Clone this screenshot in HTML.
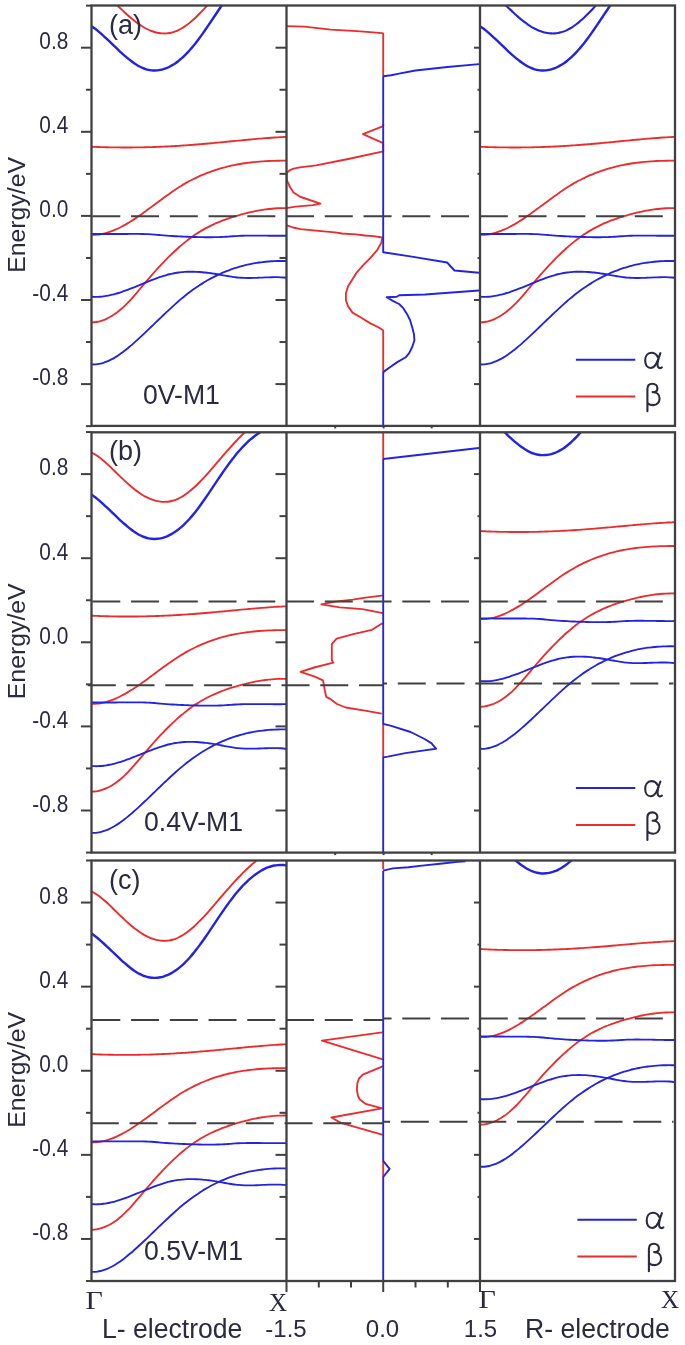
<!DOCTYPE html>
<html><head><meta charset="utf-8"><title>Band structure</title>
<style>
html,body{margin:0;padding:0;background:#fff;}
body{width:685px;height:1345px;overflow:hidden;font-family:"Liberation Sans",sans-serif;}
svg{display:block;filter:blur(0.45px);}
</style></head><body>
<svg width="685" height="1345" viewBox="0 0 685 1345">
<defs>
<clipPath id="cl0"><rect x="91.5" y="5.5" width="195.0" height="420.4"/></clipPath>
<clipPath id="cm0"><rect x="286.5" y="5.5" width="193.5" height="420.4"/></clipPath>
<clipPath id="cr0"><rect x="480.0" y="5.5" width="195.0" height="420.4"/></clipPath>
<clipPath id="cl1"><rect x="91.5" y="432.3" width="195.0" height="420.3"/></clipPath>
<clipPath id="cm1"><rect x="286.5" y="432.3" width="193.5" height="420.3"/></clipPath>
<clipPath id="cr1"><rect x="480.0" y="432.3" width="195.0" height="420.3"/></clipPath>
<clipPath id="cl2"><rect x="91.5" y="860.5" width="195.0" height="420.5"/></clipPath>
<clipPath id="cm2"><rect x="286.5" y="860.5" width="193.5" height="420.5"/></clipPath>
<clipPath id="cr2"><rect x="480.0" y="860.5" width="195.0" height="420.5"/></clipPath>
</defs>
<rect width="100%" height="100%" fill="#fff"/>
<g clip-path="url(#cl0)" stroke-linejoin="round" stroke-linecap="round">
<path d="M91.50,-15.91 C92.00,-15.65 93.50,-14.92 94.50,-14.34 C95.50,-13.76 96.50,-13.11 97.50,-12.42 C98.50,-11.73 99.50,-10.98 100.50,-10.20 C101.50,-9.42 102.50,-8.59 103.50,-7.74 C104.50,-6.88 105.50,-5.99 106.50,-5.08 C107.50,-4.16 108.50,-3.22 109.50,-2.27 C110.50,-1.32 111.50,-0.35 112.50,0.63 C113.50,1.60 114.50,2.59 115.50,3.56 C116.50,4.54 117.50,5.52 118.50,6.49 C119.50,7.46 120.50,8.43 121.50,9.38 C122.50,10.34 123.50,11.28 124.50,12.21 C125.50,13.14 126.50,14.06 127.50,14.95 C128.50,15.85 129.50,16.73 130.50,17.58 C131.50,18.44 132.50,19.27 133.50,20.08 C134.50,20.89 135.50,21.67 136.50,22.42 C137.50,23.17 138.50,23.89 139.50,24.58 C140.50,25.26 141.50,25.91 142.50,26.53 C143.50,27.14 144.50,27.72 145.50,28.25 C146.50,28.79 147.50,29.29 148.50,29.75 C149.50,30.20 150.50,30.62 151.50,31.00 C152.50,31.37 153.50,31.71 154.50,32.00 C155.50,32.29 156.50,32.54 157.50,32.74 C158.50,32.94 159.50,33.10 160.50,33.22 C161.50,33.33 162.50,33.40 163.50,33.42 C164.50,33.45 165.50,33.42 166.50,33.35 C167.50,33.28 168.50,33.16 169.50,32.99 C170.50,32.82 171.50,32.60 172.50,32.33 C173.50,32.06 174.50,31.74 175.50,31.37 C176.50,31.00 177.50,30.58 178.50,30.10 C179.50,29.62 180.50,29.09 181.50,28.52 C182.50,27.94 183.50,27.32 184.50,26.65 C185.50,25.98 186.50,25.27 187.50,24.51 C188.50,23.76 189.50,22.97 190.50,22.14 C191.50,21.31 192.50,20.44 193.50,19.54 C194.50,18.64 195.50,17.71 196.50,16.75 C197.50,15.79 198.50,14.80 199.50,13.79 C200.50,12.78 201.50,11.73 202.50,10.68 C203.50,9.62 204.50,8.54 205.50,7.44 C206.50,6.35 207.50,5.23 208.50,4.11 C209.50,2.98 210.50,1.84 211.50,0.69 C212.50,-0.45 213.50,-1.61 214.50,-2.78 C215.50,-3.94 216.50,-5.11 217.50,-6.28 C218.50,-7.44 219.50,-8.62 220.50,-9.78 C221.50,-10.95 222.50,-12.11 223.50,-13.27 C224.50,-14.43 225.50,-15.58 226.50,-16.72 C227.50,-17.86 228.50,-19.00 229.50,-20.12 C230.50,-21.24 231.50,-22.35 232.50,-23.45 C233.50,-24.55 234.50,-25.64 235.50,-26.71 C236.50,-27.78 237.50,-28.84 238.50,-29.89 C239.50,-30.93 240.50,-31.96 241.50,-32.98 C242.50,-33.99 243.50,-34.99 244.50,-35.96 C245.50,-36.94 246.50,-37.91 247.50,-38.85 C248.50,-39.79 249.50,-40.71 250.50,-41.61 C251.50,-42.52 252.50,-43.40 253.50,-44.26 C254.50,-45.12 255.50,-45.96 256.50,-46.77 C257.50,-47.58 258.50,-48.37 259.50,-49.14 C260.50,-49.90 261.50,-50.64 262.50,-51.36 C263.50,-52.07 264.92,-53.02 265.50,-53.42 C266.08,-53.82 265.92,-53.69 266.00,-53.75" stroke="#ec2c2c" stroke-width="1.9" fill="none"/>
<path d="M91.50,26.09 C92.00,26.46 93.50,27.51 94.50,28.27 C95.50,29.02 96.50,29.82 97.50,30.64 C98.50,31.46 99.50,32.31 100.50,33.18 C101.50,34.04 102.50,34.94 103.50,35.85 C104.50,36.76 105.50,37.69 106.50,38.62 C107.50,39.56 108.50,40.51 109.50,41.47 C110.50,42.42 111.50,43.39 112.50,44.35 C113.50,45.31 114.50,46.27 115.50,47.23 C116.50,48.19 117.50,49.14 118.50,50.08 C119.50,51.02 120.50,51.96 121.50,52.88 C122.50,53.79 123.50,54.69 124.50,55.57 C125.50,56.45 126.50,57.31 127.50,58.14 C128.50,58.97 129.50,59.78 130.50,60.55 C131.50,61.32 132.50,62.06 133.50,62.77 C134.50,63.47 135.50,64.13 136.50,64.75 C137.50,65.37 138.50,65.96 139.50,66.49 C140.50,67.01 141.50,67.50 142.50,67.93 C143.50,68.35 144.50,68.73 145.50,69.05 C146.50,69.37 147.50,69.63 148.50,69.85 C149.50,70.06 150.50,70.22 151.50,70.33 C152.50,70.43 153.50,70.49 154.50,70.49 C155.50,70.50 156.50,70.45 157.50,70.35 C158.50,70.25 159.50,70.10 160.50,69.89 C161.50,69.69 162.50,69.44 163.50,69.14 C164.50,68.84 165.50,68.48 166.50,68.08 C167.50,67.68 168.50,67.23 169.50,66.73 C170.50,66.23 171.50,65.68 172.50,65.08 C173.50,64.49 174.50,63.84 175.50,63.15 C176.50,62.45 177.50,61.71 178.50,60.93 C179.50,60.14 180.50,59.30 181.50,58.42 C182.50,57.54 183.50,56.61 184.50,55.64 C185.50,54.67 186.50,53.65 187.50,52.58 C188.50,51.52 189.50,50.42 190.50,49.27 C191.50,48.13 192.50,46.94 193.50,45.72 C194.50,44.50 195.50,43.24 196.50,41.95 C197.50,40.66 198.50,39.33 199.50,37.97 C200.50,36.62 201.50,35.23 202.50,33.83 C203.50,32.42 204.50,30.99 205.50,29.54 C206.50,28.10 207.50,26.63 208.50,25.16 C209.50,23.68 210.50,22.19 211.50,20.70 C212.50,19.21 213.50,17.71 214.50,16.22 C215.50,14.72 216.50,13.22 217.50,11.73 C218.50,10.25 219.50,8.76 220.50,7.29 C221.50,5.82 222.50,4.36 223.50,2.91 C224.50,1.47 225.50,0.04 226.50,-1.36 C227.50,-2.77 228.50,-4.16 229.50,-5.51 C230.50,-6.87 231.50,-8.20 232.50,-9.50 C233.50,-10.80 234.50,-12.06 235.50,-13.29 C236.50,-14.52 237.50,-15.72 238.50,-16.88 C239.50,-18.04 240.50,-19.16 241.50,-20.25 C242.50,-21.34 243.50,-22.39 244.50,-23.41 C245.50,-24.42 246.50,-25.40 247.50,-26.34 C248.50,-27.28 249.50,-28.18 250.50,-29.04 C251.50,-29.90 252.50,-30.73 253.50,-31.51 C254.50,-32.29 255.50,-33.04 256.50,-33.74 C257.50,-34.45 258.50,-35.11 259.50,-35.73 C260.50,-36.36 261.50,-36.94 262.50,-37.48 C263.50,-38.01 264.50,-38.51 265.50,-38.97 C266.50,-39.42 267.50,-39.83 268.50,-40.20 C269.50,-40.57 270.50,-40.89 271.50,-41.17 C272.50,-41.45 273.50,-41.69 274.50,-41.88 C275.50,-42.07 276.50,-42.22 277.50,-42.31 C278.50,-42.41 279.50,-42.47 280.50,-42.47 C281.50,-42.48 282.50,-42.44 283.50,-42.35 C284.50,-42.26 286.00,-42.01 286.50,-41.94" stroke="#2323e2" stroke-width="2.4" fill="none"/>
<path d="M91.50,146.73 C92.00,146.76 93.50,146.82 94.50,146.86 C95.50,146.90 96.50,146.94 97.50,146.98 C98.50,147.02 99.50,147.05 100.50,147.08 C101.50,147.12 102.50,147.15 103.50,147.17 C104.50,147.20 105.50,147.23 106.50,147.25 C107.50,147.28 108.50,147.30 109.50,147.32 C110.50,147.34 111.50,147.36 112.50,147.38 C113.50,147.39 114.50,147.41 115.50,147.42 C116.50,147.43 117.50,147.44 118.50,147.45 C119.50,147.46 120.50,147.47 121.50,147.47 C122.50,147.48 123.50,147.48 124.50,147.48 C125.50,147.48 126.50,147.48 127.50,147.48 C128.50,147.48 129.50,147.47 130.50,147.47 C131.50,147.46 132.50,147.45 133.50,147.44 C134.50,147.43 135.50,147.42 136.50,147.41 C137.50,147.39 138.50,147.38 139.50,147.36 C140.50,147.34 141.50,147.32 142.50,147.30 C143.50,147.28 144.50,147.26 145.50,147.23 C146.50,147.21 147.50,147.18 148.50,147.16 C149.50,147.13 150.50,147.10 151.50,147.07 C152.50,147.03 153.50,147.00 154.50,146.97 C155.50,146.93 156.50,146.89 157.50,146.86 C158.50,146.82 159.50,146.78 160.50,146.73 C161.50,146.69 162.50,146.65 163.50,146.60 C164.50,146.56 165.50,146.51 166.50,146.46 C167.50,146.41 168.50,146.36 169.50,146.31 C170.50,146.26 171.50,146.20 172.50,146.15 C173.50,146.09 174.50,146.04 175.50,145.98 C176.50,145.92 177.50,145.86 178.50,145.80 C179.50,145.74 180.50,145.67 181.50,145.61 C182.50,145.54 183.50,145.48 184.50,145.41 C185.50,145.34 186.50,145.27 187.50,145.20 C188.50,145.13 189.50,145.05 190.50,144.98 C191.50,144.90 192.50,144.83 193.50,144.75 C194.50,144.67 195.50,144.59 196.50,144.51 C197.50,144.43 198.50,144.35 199.50,144.27 C200.50,144.18 201.50,144.10 202.50,144.01 C203.50,143.93 204.50,143.84 205.50,143.75 C206.50,143.66 207.50,143.57 208.50,143.48 C209.50,143.39 210.50,143.30 211.50,143.21 C212.50,143.12 213.50,143.02 214.50,142.93 C215.50,142.84 216.50,142.74 217.50,142.65 C218.50,142.55 219.50,142.45 220.50,142.36 C221.50,142.26 222.50,142.17 223.50,142.07 C224.50,141.97 225.50,141.87 226.50,141.78 C227.50,141.68 228.50,141.58 229.50,141.48 C230.50,141.39 231.50,141.29 232.50,141.19 C233.50,141.09 234.50,141.00 235.50,140.90 C236.50,140.80 237.50,140.70 238.50,140.61 C239.50,140.51 240.50,140.41 241.50,140.32 C242.50,140.22 243.50,140.13 244.50,140.03 C245.50,139.94 246.50,139.84 247.50,139.75 C248.50,139.66 249.50,139.57 250.50,139.47 C251.50,139.38 252.50,139.29 253.50,139.20 C254.50,139.11 255.50,139.03 256.50,138.94 C257.50,138.85 258.50,138.76 259.50,138.68 C260.50,138.60 261.50,138.51 262.50,138.43 C263.50,138.35 264.50,138.27 265.50,138.19 C266.50,138.11 267.50,138.03 268.50,137.96 C269.50,137.88 270.50,137.81 271.50,137.74 C272.50,137.66 273.50,137.59 274.50,137.53 C275.50,137.46 276.50,137.39 277.50,137.33 C278.50,137.26 279.50,137.20 280.50,137.14 C281.50,137.08 282.50,137.03 283.50,136.97 C284.50,136.92 286.00,136.84 286.50,136.81" stroke="#ec2c2c" stroke-width="1.85" fill="none"/>
<path d="M91.50,234.81 C92.00,234.81 93.50,234.86 94.50,234.83 C95.50,234.80 96.50,234.73 97.50,234.64 C98.50,234.54 99.50,234.41 100.50,234.24 C101.50,234.08 102.50,233.89 103.50,233.66 C104.50,233.44 105.50,233.18 106.50,232.90 C107.50,232.61 108.50,232.30 109.50,231.96 C110.50,231.63 111.50,231.26 112.50,230.87 C113.50,230.48 114.50,230.07 115.50,229.63 C116.50,229.19 117.50,228.73 118.50,228.25 C119.50,227.76 120.50,227.26 121.50,226.74 C122.50,226.21 123.50,225.67 124.50,225.11 C125.50,224.55 126.50,223.97 127.50,223.37 C128.50,222.78 129.50,222.17 130.50,221.54 C131.50,220.92 132.50,220.28 133.50,219.62 C134.50,218.97 135.50,218.31 136.50,217.63 C137.50,216.95 138.50,216.27 139.50,215.57 C140.50,214.87 141.50,214.17 142.50,213.45 C143.50,212.74 144.50,212.02 145.50,211.29 C146.50,210.57 147.50,209.84 148.50,209.10 C149.50,208.36 150.50,207.62 151.50,206.88 C152.50,206.14 153.50,205.39 154.50,204.65 C155.50,203.91 156.50,203.16 157.50,202.42 C158.50,201.67 159.50,200.93 160.50,200.19 C161.50,199.45 162.50,198.71 163.50,197.98 C164.50,197.25 165.50,196.52 166.50,195.80 C167.50,195.08 168.50,194.36 169.50,193.66 C170.50,192.95 171.50,192.25 172.50,191.56 C173.50,190.88 174.50,190.20 175.50,189.53 C176.50,188.86 177.50,188.21 178.50,187.57 C179.50,186.92 180.50,186.30 181.50,185.68 C182.50,185.07 183.50,184.47 184.50,183.89 C185.50,183.30 186.50,182.73 187.50,182.18 C188.50,181.62 189.50,181.08 190.50,180.55 C191.50,180.02 192.50,179.51 193.50,179.00 C194.50,178.50 195.50,178.01 196.50,177.54 C197.50,177.06 198.50,176.60 199.50,176.15 C200.50,175.70 201.50,175.26 202.50,174.84 C203.50,174.41 204.50,174.00 205.50,173.60 C206.50,173.20 207.50,172.81 208.50,172.43 C209.50,172.05 210.50,171.69 211.50,171.33 C212.50,170.98 213.50,170.64 214.50,170.30 C215.50,169.97 216.50,169.65 217.50,169.34 C218.50,169.03 219.50,168.73 220.50,168.44 C221.50,168.15 222.50,167.87 223.50,167.60 C224.50,167.33 225.50,167.07 226.50,166.82 C227.50,166.57 228.50,166.33 229.50,166.10 C230.50,165.87 231.50,165.64 232.50,165.43 C233.50,165.22 234.50,165.01 235.50,164.82 C236.50,164.62 237.50,164.44 238.50,164.26 C239.50,164.08 240.50,163.91 241.50,163.75 C242.50,163.58 243.50,163.43 244.50,163.28 C245.50,163.13 246.50,163.00 247.50,162.86 C248.50,162.73 249.50,162.61 250.50,162.49 C251.50,162.37 252.50,162.26 253.50,162.15 C254.50,162.05 255.50,161.95 256.50,161.86 C257.50,161.77 258.50,161.68 259.50,161.60 C260.50,161.52 261.50,161.45 262.50,161.38 C263.50,161.32 264.50,161.25 265.50,161.20 C266.50,161.14 267.50,161.09 268.50,161.04 C269.50,160.99 270.50,160.95 271.50,160.91 C272.50,160.88 273.50,160.84 274.50,160.82 C275.50,160.79 276.50,160.76 277.50,160.74 C278.50,160.72 279.50,160.71 280.50,160.69 C281.50,160.68 282.50,160.67 283.50,160.66 C284.50,160.66 286.00,160.66 286.50,160.66" stroke="#ec2c2c" stroke-width="1.85" fill="none"/>
<path d="M91.50,322.42 C92.00,322.38 93.50,322.33 94.50,322.22 C95.50,322.11 96.50,321.96 97.50,321.76 C98.50,321.57 99.50,321.32 100.50,321.04 C101.50,320.75 102.50,320.43 103.50,320.05 C104.50,319.68 105.50,319.27 106.50,318.81 C107.50,318.35 108.50,317.85 109.50,317.31 C110.50,316.77 111.50,316.18 112.50,315.56 C113.50,314.93 114.50,314.26 115.50,313.55 C116.50,312.84 117.50,312.09 118.50,311.30 C119.50,310.51 120.50,309.67 121.50,308.80 C122.50,307.92 123.50,307.01 124.50,306.05 C125.50,305.10 126.50,304.10 127.50,303.07 C128.50,302.04 129.50,300.97 130.50,299.88 C131.50,298.79 132.50,297.67 133.50,296.53 C134.50,295.39 135.50,294.23 136.50,293.06 C137.50,291.89 138.50,290.70 139.50,289.51 C140.50,288.33 141.50,287.13 142.50,285.94 C143.50,284.75 144.50,283.55 145.50,282.37 C146.50,281.20 147.50,280.02 148.50,278.86 C149.50,277.70 150.50,276.55 151.50,275.40 C152.50,274.26 153.50,273.13 154.50,272.01 C155.50,270.90 156.50,269.79 157.50,268.69 C158.50,267.60 159.50,266.51 160.50,265.44 C161.50,264.37 162.50,263.32 163.50,262.27 C164.50,261.23 165.50,260.20 166.50,259.19 C167.50,258.17 168.50,257.17 169.50,256.18 C170.50,255.20 171.50,254.23 172.50,253.27 C173.50,252.32 174.50,251.38 175.50,250.46 C176.50,249.54 177.50,248.63 178.50,247.74 C179.50,246.86 180.50,245.98 181.50,245.13 C182.50,244.28 183.50,243.45 184.50,242.63 C185.50,241.82 186.50,241.02 187.50,240.24 C188.50,239.47 189.50,238.71 190.50,237.97 C191.50,237.24 192.50,236.52 193.50,235.83 C194.50,235.13 195.50,234.46 196.50,233.80 C197.50,233.15 198.50,232.51 199.50,231.89 C200.50,231.28 201.50,230.68 202.50,230.10 C203.50,229.52 204.50,228.96 205.50,228.41 C206.50,227.87 207.50,227.34 208.50,226.83 C209.50,226.32 210.50,225.82 211.50,225.34 C212.50,224.86 213.50,224.39 214.50,223.94 C215.50,223.49 216.50,223.05 217.50,222.63 C218.50,222.20 219.50,221.79 220.50,221.39 C221.50,220.99 222.50,220.60 223.50,220.23 C224.50,219.85 225.50,219.49 226.50,219.13 C227.50,218.78 228.50,218.43 229.50,218.10 C230.50,217.76 231.50,217.44 232.50,217.12 C233.50,216.80 234.50,216.50 235.50,216.19 C236.50,215.89 237.50,215.60 238.50,215.31 C239.50,215.03 240.50,214.74 241.50,214.47 C242.50,214.20 243.50,213.93 244.50,213.67 C245.50,213.41 246.50,213.16 247.50,212.91 C248.50,212.67 249.50,212.43 250.50,212.20 C251.50,211.97 252.50,211.75 253.50,211.54 C254.50,211.33 255.50,211.12 256.50,210.93 C257.50,210.73 258.50,210.55 259.50,210.37 C260.50,210.19 261.50,210.02 262.50,209.87 C263.50,209.71 264.50,209.56 265.50,209.42 C266.50,209.28 267.50,209.15 268.50,209.04 C269.50,208.92 270.50,208.81 271.50,208.72 C272.50,208.62 273.50,208.53 274.50,208.46 C275.50,208.39 276.50,208.32 277.50,208.27 C278.50,208.22 279.50,208.18 280.50,208.15 C281.50,208.13 282.50,208.11 283.50,208.11 C284.50,208.10 286.00,208.13 286.50,208.14" stroke="#ec2c2c" stroke-width="1.85" fill="none"/>
<path d="M91.50,234.00 C92.00,234.00 93.50,234.01 94.50,234.01 C95.50,234.01 96.50,234.02 97.50,234.02 C98.50,234.02 99.50,234.02 100.50,234.02 C101.50,234.02 102.50,234.02 103.50,234.02 C104.50,234.02 105.50,234.02 106.50,234.02 C107.50,234.02 108.50,234.02 109.50,234.02 C110.50,234.02 111.50,234.01 112.50,234.01 C113.50,234.01 114.50,234.01 115.50,234.00 C116.50,234.00 117.50,234.00 118.50,233.99 C119.50,233.99 120.50,233.98 121.50,233.98 C122.50,233.98 123.50,233.97 124.50,233.97 C125.50,233.96 126.50,233.96 127.50,233.96 C128.50,233.95 129.50,233.95 130.50,233.94 C131.50,233.94 132.50,233.94 133.50,233.93 C134.50,233.93 135.50,233.93 136.50,233.93 C137.50,233.94 138.50,233.94 139.50,233.95 C140.50,233.96 141.50,233.97 142.50,234.00 C143.50,234.02 144.50,234.04 145.50,234.07 C146.50,234.11 147.50,234.14 148.50,234.19 C149.50,234.24 150.50,234.30 151.50,234.36 C152.50,234.43 153.50,234.51 154.50,234.59 C155.50,234.68 156.50,234.78 157.50,234.88 C158.50,234.97 159.50,235.07 160.50,235.16 C161.50,235.25 162.50,235.33 163.50,235.41 C164.50,235.50 165.50,235.57 166.50,235.64 C167.50,235.72 168.50,235.79 169.50,235.85 C170.50,235.92 171.50,235.98 172.50,236.04 C173.50,236.10 174.50,236.16 175.50,236.21 C176.50,236.26 177.50,236.32 178.50,236.37 C179.50,236.42 180.50,236.46 181.50,236.51 C182.50,236.55 183.50,236.60 184.50,236.64 C185.50,236.68 186.50,236.72 187.50,236.75 C188.50,236.79 189.50,236.83 190.50,236.86 C191.50,236.89 192.50,236.93 193.50,236.96 C194.50,236.99 195.50,237.02 196.50,237.04 C197.50,237.07 198.50,237.09 199.50,237.12 C200.50,237.14 201.50,237.16 202.50,237.17 C203.50,237.19 204.50,237.20 205.50,237.21 C206.50,237.22 207.50,237.22 208.50,237.22 C209.50,237.23 210.50,237.22 211.50,237.22 C212.50,237.21 213.50,237.20 214.50,237.18 C215.50,237.16 216.50,237.14 217.50,237.11 C218.50,237.09 219.50,237.05 220.50,237.02 C221.50,236.98 222.50,236.93 223.50,236.88 C224.50,236.83 225.50,236.77 226.50,236.71 C227.50,236.65 228.50,236.57 229.50,236.50 C230.50,236.42 231.50,236.33 232.50,236.26 C233.50,236.18 234.50,236.11 235.50,236.05 C236.50,235.99 237.50,235.94 238.50,235.89 C239.50,235.85 240.50,235.81 241.50,235.78 C242.50,235.74 243.50,235.72 244.50,235.69 C245.50,235.67 246.50,235.65 247.50,235.64 C248.50,235.63 249.50,235.62 250.50,235.61 C251.50,235.60 252.50,235.60 253.50,235.60 C254.50,235.60 255.50,235.60 256.50,235.61 C257.50,235.61 258.50,235.62 259.50,235.62 C260.50,235.63 261.50,235.64 262.50,235.65 C263.50,235.66 264.50,235.67 265.50,235.68 C266.50,235.69 267.50,235.70 268.50,235.71 C269.50,235.71 270.50,235.72 271.50,235.73 C272.50,235.74 273.50,235.75 274.50,235.75 C275.50,235.76 276.50,235.76 277.50,235.76 C278.50,235.76 279.50,235.76 280.50,235.76 C281.50,235.76 282.50,235.75 283.50,235.74 C284.50,235.73 286.00,235.70 286.50,235.70" stroke="#2323e2" stroke-width="1.85" fill="none"/>
<path d="M91.50,296.73 C92.00,296.76 93.50,296.87 94.50,296.89 C95.50,296.92 96.50,296.91 97.50,296.88 C98.50,296.85 99.50,296.79 100.50,296.71 C101.50,296.63 102.50,296.52 103.50,296.39 C104.50,296.27 105.50,296.11 106.50,295.94 C107.50,295.77 108.50,295.58 109.50,295.36 C110.50,295.15 111.50,294.92 112.50,294.67 C113.50,294.42 114.50,294.15 115.50,293.87 C116.50,293.59 117.50,293.29 118.50,292.99 C119.50,292.68 120.50,292.35 121.50,292.01 C122.50,291.68 123.50,291.33 124.50,290.97 C125.50,290.62 126.50,290.25 127.50,289.87 C128.50,289.50 129.50,289.11 130.50,288.72 C131.50,288.33 132.50,287.93 133.50,287.53 C134.50,287.13 135.50,286.73 136.50,286.32 C137.50,285.91 138.50,285.50 139.50,285.09 C140.50,284.67 141.50,284.26 142.50,283.85 C143.50,283.44 144.50,283.02 145.50,282.62 C146.50,282.21 147.50,281.80 148.50,281.40 C149.50,281.00 150.50,280.60 151.50,280.21 C152.50,279.82 153.50,279.44 154.50,279.06 C155.50,278.69 156.50,278.32 157.50,277.96 C158.50,277.61 159.50,277.26 160.50,276.92 C161.50,276.59 162.50,276.26 163.50,275.96 C164.50,275.65 165.50,275.35 166.50,275.07 C167.50,274.79 168.50,274.52 169.50,274.27 C170.50,274.03 171.50,273.80 172.50,273.58 C173.50,273.37 174.50,273.18 175.50,273.01 C176.50,272.83 177.50,272.68 178.50,272.54 C179.50,272.41 180.50,272.29 181.50,272.19 C182.50,272.08 183.50,272.00 184.50,271.93 C185.50,271.86 186.50,271.81 187.50,271.77 C188.50,271.74 189.50,271.71 190.50,271.71 C191.50,271.70 192.50,271.70 193.50,271.72 C194.50,271.74 195.50,271.78 196.50,271.82 C197.50,271.86 198.50,271.92 199.50,271.99 C200.50,272.06 201.50,272.14 202.50,272.23 C203.50,272.32 204.50,272.42 205.50,272.53 C206.50,272.64 207.50,272.76 208.50,272.89 C209.50,273.02 210.50,273.16 211.50,273.30 C212.50,273.45 213.50,273.60 214.50,273.76 C215.50,273.92 216.50,274.09 217.50,274.26 C218.50,274.43 219.50,274.61 220.50,274.79 C221.50,274.96 222.50,275.14 223.50,275.32 C224.50,275.50 225.50,275.68 226.50,275.85 C227.50,276.02 228.50,276.20 229.50,276.36 C230.50,276.52 231.50,276.68 232.50,276.82 C233.50,276.96 234.50,277.10 235.50,277.22 C236.50,277.35 237.50,277.46 238.50,277.55 C239.50,277.65 240.50,277.72 241.50,277.79 C242.50,277.85 243.50,277.89 244.50,277.93 C245.50,277.96 246.50,277.98 247.50,277.98 C248.50,277.99 249.50,277.99 250.50,277.98 C251.50,277.96 252.50,277.94 253.50,277.91 C254.50,277.89 255.50,277.85 256.50,277.81 C257.50,277.77 258.50,277.73 259.50,277.69 C260.50,277.64 261.50,277.59 262.50,277.55 C263.50,277.50 264.50,277.46 265.50,277.42 C266.50,277.37 267.50,277.33 268.50,277.30 C269.50,277.27 270.50,277.24 271.50,277.22 C272.50,277.19 273.50,277.18 274.50,277.18 C275.50,277.17 276.50,277.18 277.50,277.20 C278.50,277.22 279.50,277.25 280.50,277.30 C281.50,277.34 282.50,277.40 283.50,277.48 C284.50,277.56 286.00,277.72 286.50,277.77" stroke="#2323e2" stroke-width="1.85" fill="none"/>
<path d="M91.50,364.40 C92.00,364.41 93.50,364.48 94.50,364.44 C95.50,364.40 96.50,364.31 97.50,364.17 C98.50,364.03 99.50,363.84 100.50,363.61 C101.50,363.38 102.50,363.10 103.50,362.78 C104.50,362.46 105.50,362.10 106.50,361.70 C107.50,361.30 108.50,360.85 109.50,360.37 C110.50,359.90 111.50,359.38 112.50,358.83 C113.50,358.28 114.50,357.70 115.50,357.09 C116.50,356.47 117.50,355.83 118.50,355.16 C119.50,354.49 120.50,353.78 121.50,353.06 C122.50,352.33 123.50,351.58 124.50,350.81 C125.50,350.04 126.50,349.24 127.50,348.42 C128.50,347.61 129.50,346.77 130.50,345.92 C131.50,345.07 132.50,344.20 133.50,343.32 C134.50,342.44 135.50,341.55 136.50,340.64 C137.50,339.74 138.50,338.82 139.50,337.89 C140.50,336.97 141.50,336.04 142.50,335.10 C143.50,334.16 144.50,333.21 145.50,332.26 C146.50,331.32 147.50,330.36 148.50,329.40 C149.50,328.44 150.50,327.48 151.50,326.52 C152.50,325.56 153.50,324.59 154.50,323.63 C155.50,322.66 156.50,321.70 157.50,320.73 C158.50,319.77 159.50,318.80 160.50,317.85 C161.50,316.89 162.50,315.93 163.50,314.98 C164.50,314.02 165.50,313.08 166.50,312.13 C167.50,311.19 168.50,310.25 169.50,309.33 C170.50,308.40 171.50,307.48 172.50,306.57 C173.50,305.65 174.50,304.75 175.50,303.86 C176.50,302.97 177.50,302.09 178.50,301.22 C179.50,300.35 180.50,299.50 181.50,298.66 C182.50,297.82 183.50,296.99 184.50,296.18 C185.50,295.37 186.50,294.58 187.50,293.80 C188.50,293.03 189.50,292.27 190.50,291.52 C191.50,290.78 192.50,290.05 193.50,289.33 C194.50,288.62 195.50,287.92 196.50,287.24 C197.50,286.56 198.50,285.90 199.50,285.24 C200.50,284.59 201.50,283.96 202.50,283.34 C203.50,282.72 204.50,282.11 205.50,281.52 C206.50,280.93 207.50,280.35 208.50,279.79 C209.50,279.23 210.50,278.68 211.50,278.15 C212.50,277.62 213.50,277.10 214.50,276.59 C215.50,276.09 216.50,275.60 217.50,275.12 C218.50,274.64 219.50,274.18 220.50,273.73 C221.50,273.28 222.50,272.84 223.50,272.42 C224.50,272.00 225.50,271.59 226.50,271.19 C227.50,270.80 228.50,270.41 229.50,270.04 C230.50,269.67 231.50,269.31 232.50,268.97 C233.50,268.62 234.50,268.29 235.50,267.97 C236.50,267.65 237.50,267.34 238.50,267.04 C239.50,266.74 240.50,266.46 241.50,266.19 C242.50,265.91 243.50,265.65 244.50,265.40 C245.50,265.15 246.50,264.91 247.50,264.69 C248.50,264.46 249.50,264.25 250.50,264.04 C251.50,263.84 252.50,263.64 253.50,263.46 C254.50,263.28 255.50,263.11 256.50,262.94 C257.50,262.78 258.50,262.63 259.50,262.49 C260.50,262.35 261.50,262.22 262.50,262.10 C263.50,261.98 264.50,261.87 265.50,261.77 C266.50,261.67 267.50,261.57 268.50,261.49 C269.50,261.41 270.50,261.34 271.50,261.28 C272.50,261.21 273.50,261.16 274.50,261.12 C275.50,261.07 276.50,261.04 277.50,261.01 C278.50,260.98 279.50,260.97 280.50,260.96 C281.50,260.95 282.50,260.95 283.50,260.95 C284.50,260.96 286.00,260.99 286.50,261.00" stroke="#2323e2" stroke-width="1.85" fill="none"/>
</g>
<g clip-path="url(#cr0)" stroke-linejoin="round" stroke-linecap="round">
<path d="M480.00,-15.91 C480.50,-15.65 482.00,-14.92 483.00,-14.34 C484.00,-13.76 485.00,-13.11 486.00,-12.42 C487.00,-11.73 488.00,-10.98 489.00,-10.20 C490.00,-9.42 491.00,-8.59 492.00,-7.74 C493.00,-6.88 494.00,-5.99 495.00,-5.08 C496.00,-4.16 497.00,-3.22 498.00,-2.27 C499.00,-1.32 500.00,-0.35 501.00,0.63 C502.00,1.60 503.00,2.59 504.00,3.56 C505.00,4.54 506.00,5.52 507.00,6.49 C508.00,7.46 509.00,8.43 510.00,9.38 C511.00,10.34 512.00,11.28 513.00,12.21 C514.00,13.14 515.00,14.06 516.00,14.95 C517.00,15.85 518.00,16.73 519.00,17.58 C520.00,18.44 521.00,19.27 522.00,20.08 C523.00,20.89 524.00,21.67 525.00,22.42 C526.00,23.17 527.00,23.89 528.00,24.58 C529.00,25.26 530.00,25.91 531.00,26.53 C532.00,27.14 533.00,27.72 534.00,28.25 C535.00,28.79 536.00,29.29 537.00,29.75 C538.00,30.20 539.00,30.62 540.00,31.00 C541.00,31.37 542.00,31.71 543.00,32.00 C544.00,32.29 545.00,32.54 546.00,32.74 C547.00,32.94 548.00,33.10 549.00,33.22 C550.00,33.33 551.00,33.40 552.00,33.42 C553.00,33.45 554.00,33.42 555.00,33.35 C556.00,33.28 557.00,33.16 558.00,32.99 C559.00,32.82 560.00,32.60 561.00,32.33 C562.00,32.06 563.00,31.74 564.00,31.37 C565.00,31.00 566.00,30.58 567.00,30.10 C568.00,29.62 569.00,29.09 570.00,28.52 C571.00,27.94 572.00,27.32 573.00,26.65 C574.00,25.98 575.00,25.27 576.00,24.51 C577.00,23.76 578.00,22.97 579.00,22.14 C580.00,21.31 581.00,20.44 582.00,19.54 C583.00,18.64 584.00,17.71 585.00,16.75 C586.00,15.79 587.00,14.80 588.00,13.79 C589.00,12.78 590.00,11.73 591.00,10.68 C592.00,9.62 593.00,8.54 594.00,7.44 C595.00,6.35 596.00,5.23 597.00,4.11 C598.00,2.98 599.00,1.84 600.00,0.69 C601.00,-0.45 602.00,-1.61 603.00,-2.78 C604.00,-3.94 605.00,-5.11 606.00,-6.28 C607.00,-7.44 608.00,-8.62 609.00,-9.78 C610.00,-10.95 611.00,-12.11 612.00,-13.27 C613.00,-14.43 614.00,-15.58 615.00,-16.72 C616.00,-17.86 617.00,-19.00 618.00,-20.12 C619.00,-21.24 620.00,-22.35 621.00,-23.45 C622.00,-24.55 623.00,-25.64 624.00,-26.71 C625.00,-27.78 626.00,-28.84 627.00,-29.89 C628.00,-30.93 629.00,-31.96 630.00,-32.98 C631.00,-33.99 632.00,-34.99 633.00,-35.96 C634.00,-36.94 635.00,-37.91 636.00,-38.85 C637.00,-39.79 638.00,-40.71 639.00,-41.61 C640.00,-42.52 641.00,-43.40 642.00,-44.26 C643.00,-45.12 644.00,-45.96 645.00,-46.77 C646.00,-47.58 647.00,-48.37 648.00,-49.14 C649.00,-49.90 650.00,-50.64 651.00,-51.36 C652.00,-52.07 653.42,-53.02 654.00,-53.42 C654.58,-53.82 654.42,-53.69 654.50,-53.75" stroke="#2323e2" stroke-width="2.1" fill="none"/>
<path d="M480.00,26.09 C480.50,26.46 482.00,27.51 483.00,28.27 C484.00,29.02 485.00,29.82 486.00,30.64 C487.00,31.46 488.00,32.31 489.00,33.18 C490.00,34.04 491.00,34.94 492.00,35.85 C493.00,36.76 494.00,37.69 495.00,38.62 C496.00,39.56 497.00,40.51 498.00,41.47 C499.00,42.42 500.00,43.39 501.00,44.35 C502.00,45.31 503.00,46.27 504.00,47.23 C505.00,48.19 506.00,49.14 507.00,50.08 C508.00,51.02 509.00,51.96 510.00,52.88 C511.00,53.79 512.00,54.69 513.00,55.57 C514.00,56.45 515.00,57.31 516.00,58.14 C517.00,58.97 518.00,59.78 519.00,60.55 C520.00,61.32 521.00,62.06 522.00,62.77 C523.00,63.47 524.00,64.13 525.00,64.75 C526.00,65.37 527.00,65.96 528.00,66.49 C529.00,67.01 530.00,67.50 531.00,67.93 C532.00,68.35 533.00,68.73 534.00,69.05 C535.00,69.37 536.00,69.63 537.00,69.85 C538.00,70.06 539.00,70.22 540.00,70.33 C541.00,70.43 542.00,70.49 543.00,70.49 C544.00,70.50 545.00,70.45 546.00,70.35 C547.00,70.25 548.00,70.10 549.00,69.89 C550.00,69.69 551.00,69.44 552.00,69.14 C553.00,68.84 554.00,68.48 555.00,68.08 C556.00,67.68 557.00,67.23 558.00,66.73 C559.00,66.23 560.00,65.68 561.00,65.08 C562.00,64.49 563.00,63.84 564.00,63.15 C565.00,62.45 566.00,61.71 567.00,60.93 C568.00,60.14 569.00,59.30 570.00,58.42 C571.00,57.54 572.00,56.61 573.00,55.64 C574.00,54.67 575.00,53.65 576.00,52.58 C577.00,51.52 578.00,50.42 579.00,49.27 C580.00,48.13 581.00,46.94 582.00,45.72 C583.00,44.50 584.00,43.24 585.00,41.95 C586.00,40.66 587.00,39.33 588.00,37.97 C589.00,36.62 590.00,35.23 591.00,33.83 C592.00,32.42 593.00,30.99 594.00,29.54 C595.00,28.10 596.00,26.63 597.00,25.16 C598.00,23.68 599.00,22.19 600.00,20.70 C601.00,19.21 602.00,17.71 603.00,16.22 C604.00,14.72 605.00,13.22 606.00,11.73 C607.00,10.25 608.00,8.76 609.00,7.29 C610.00,5.82 611.00,4.36 612.00,2.91 C613.00,1.47 614.00,0.04 615.00,-1.36 C616.00,-2.77 617.00,-4.16 618.00,-5.51 C619.00,-6.87 620.00,-8.20 621.00,-9.50 C622.00,-10.80 623.00,-12.06 624.00,-13.29 C625.00,-14.52 626.00,-15.72 627.00,-16.88 C628.00,-18.04 629.00,-19.16 630.00,-20.25 C631.00,-21.34 632.00,-22.39 633.00,-23.41 C634.00,-24.42 635.00,-25.40 636.00,-26.34 C637.00,-27.28 638.00,-28.18 639.00,-29.04 C640.00,-29.90 641.00,-30.73 642.00,-31.51 C643.00,-32.29 644.00,-33.04 645.00,-33.74 C646.00,-34.45 647.00,-35.11 648.00,-35.73 C649.00,-36.36 650.00,-36.94 651.00,-37.48 C652.00,-38.01 653.00,-38.51 654.00,-38.97 C655.00,-39.42 656.00,-39.83 657.00,-40.20 C658.00,-40.57 659.00,-40.89 660.00,-41.17 C661.00,-41.45 662.00,-41.69 663.00,-41.88 C664.00,-42.07 665.00,-42.22 666.00,-42.31 C667.00,-42.41 668.00,-42.47 669.00,-42.47 C670.00,-42.48 671.00,-42.44 672.00,-42.35 C673.00,-42.26 674.50,-42.01 675.00,-41.94" stroke="#2323e2" stroke-width="2.4" fill="none"/>
<path d="M480.00,146.73 C480.50,146.76 482.00,146.82 483.00,146.86 C484.00,146.90 485.00,146.94 486.00,146.98 C487.00,147.02 488.00,147.05 489.00,147.08 C490.00,147.12 491.00,147.15 492.00,147.17 C493.00,147.20 494.00,147.23 495.00,147.25 C496.00,147.28 497.00,147.30 498.00,147.32 C499.00,147.34 500.00,147.36 501.00,147.38 C502.00,147.39 503.00,147.41 504.00,147.42 C505.00,147.43 506.00,147.44 507.00,147.45 C508.00,147.46 509.00,147.47 510.00,147.47 C511.00,147.48 512.00,147.48 513.00,147.48 C514.00,147.48 515.00,147.48 516.00,147.48 C517.00,147.48 518.00,147.47 519.00,147.47 C520.00,147.46 521.00,147.45 522.00,147.44 C523.00,147.43 524.00,147.42 525.00,147.41 C526.00,147.39 527.00,147.38 528.00,147.36 C529.00,147.34 530.00,147.32 531.00,147.30 C532.00,147.28 533.00,147.26 534.00,147.23 C535.00,147.21 536.00,147.18 537.00,147.16 C538.00,147.13 539.00,147.10 540.00,147.07 C541.00,147.03 542.00,147.00 543.00,146.97 C544.00,146.93 545.00,146.89 546.00,146.86 C547.00,146.82 548.00,146.78 549.00,146.73 C550.00,146.69 551.00,146.65 552.00,146.60 C553.00,146.56 554.00,146.51 555.00,146.46 C556.00,146.41 557.00,146.36 558.00,146.31 C559.00,146.26 560.00,146.20 561.00,146.15 C562.00,146.09 563.00,146.04 564.00,145.98 C565.00,145.92 566.00,145.86 567.00,145.80 C568.00,145.74 569.00,145.67 570.00,145.61 C571.00,145.54 572.00,145.48 573.00,145.41 C574.00,145.34 575.00,145.27 576.00,145.20 C577.00,145.13 578.00,145.05 579.00,144.98 C580.00,144.90 581.00,144.83 582.00,144.75 C583.00,144.67 584.00,144.59 585.00,144.51 C586.00,144.43 587.00,144.35 588.00,144.27 C589.00,144.18 590.00,144.10 591.00,144.01 C592.00,143.93 593.00,143.84 594.00,143.75 C595.00,143.66 596.00,143.57 597.00,143.48 C598.00,143.39 599.00,143.30 600.00,143.21 C601.00,143.12 602.00,143.02 603.00,142.93 C604.00,142.84 605.00,142.74 606.00,142.65 C607.00,142.55 608.00,142.45 609.00,142.36 C610.00,142.26 611.00,142.17 612.00,142.07 C613.00,141.97 614.00,141.87 615.00,141.78 C616.00,141.68 617.00,141.58 618.00,141.48 C619.00,141.39 620.00,141.29 621.00,141.19 C622.00,141.09 623.00,141.00 624.00,140.90 C625.00,140.80 626.00,140.70 627.00,140.61 C628.00,140.51 629.00,140.41 630.00,140.32 C631.00,140.22 632.00,140.13 633.00,140.03 C634.00,139.94 635.00,139.84 636.00,139.75 C637.00,139.66 638.00,139.57 639.00,139.47 C640.00,139.38 641.00,139.29 642.00,139.20 C643.00,139.11 644.00,139.03 645.00,138.94 C646.00,138.85 647.00,138.76 648.00,138.68 C649.00,138.60 650.00,138.51 651.00,138.43 C652.00,138.35 653.00,138.27 654.00,138.19 C655.00,138.11 656.00,138.03 657.00,137.96 C658.00,137.88 659.00,137.81 660.00,137.74 C661.00,137.66 662.00,137.59 663.00,137.53 C664.00,137.46 665.00,137.39 666.00,137.33 C667.00,137.26 668.00,137.20 669.00,137.14 C670.00,137.08 671.00,137.03 672.00,136.97 C673.00,136.92 674.50,136.84 675.00,136.81" stroke="#ec2c2c" stroke-width="1.85" fill="none"/>
<path d="M480.00,234.81 C480.50,234.81 482.00,234.86 483.00,234.83 C484.00,234.80 485.00,234.73 486.00,234.64 C487.00,234.54 488.00,234.41 489.00,234.24 C490.00,234.08 491.00,233.89 492.00,233.66 C493.00,233.44 494.00,233.18 495.00,232.90 C496.00,232.61 497.00,232.30 498.00,231.96 C499.00,231.63 500.00,231.26 501.00,230.87 C502.00,230.48 503.00,230.07 504.00,229.63 C505.00,229.19 506.00,228.73 507.00,228.25 C508.00,227.76 509.00,227.26 510.00,226.74 C511.00,226.21 512.00,225.67 513.00,225.11 C514.00,224.55 515.00,223.97 516.00,223.37 C517.00,222.78 518.00,222.17 519.00,221.54 C520.00,220.92 521.00,220.28 522.00,219.62 C523.00,218.97 524.00,218.31 525.00,217.63 C526.00,216.95 527.00,216.27 528.00,215.57 C529.00,214.87 530.00,214.17 531.00,213.45 C532.00,212.74 533.00,212.02 534.00,211.29 C535.00,210.57 536.00,209.84 537.00,209.10 C538.00,208.36 539.00,207.62 540.00,206.88 C541.00,206.14 542.00,205.39 543.00,204.65 C544.00,203.91 545.00,203.16 546.00,202.42 C547.00,201.67 548.00,200.93 549.00,200.19 C550.00,199.45 551.00,198.71 552.00,197.98 C553.00,197.25 554.00,196.52 555.00,195.80 C556.00,195.08 557.00,194.36 558.00,193.66 C559.00,192.95 560.00,192.25 561.00,191.56 C562.00,190.88 563.00,190.20 564.00,189.53 C565.00,188.86 566.00,188.21 567.00,187.57 C568.00,186.92 569.00,186.30 570.00,185.68 C571.00,185.07 572.00,184.47 573.00,183.89 C574.00,183.30 575.00,182.73 576.00,182.18 C577.00,181.62 578.00,181.08 579.00,180.55 C580.00,180.02 581.00,179.51 582.00,179.00 C583.00,178.50 584.00,178.01 585.00,177.54 C586.00,177.06 587.00,176.60 588.00,176.15 C589.00,175.70 590.00,175.26 591.00,174.84 C592.00,174.41 593.00,174.00 594.00,173.60 C595.00,173.20 596.00,172.81 597.00,172.43 C598.00,172.05 599.00,171.69 600.00,171.33 C601.00,170.98 602.00,170.64 603.00,170.30 C604.00,169.97 605.00,169.65 606.00,169.34 C607.00,169.03 608.00,168.73 609.00,168.44 C610.00,168.15 611.00,167.87 612.00,167.60 C613.00,167.33 614.00,167.07 615.00,166.82 C616.00,166.57 617.00,166.33 618.00,166.10 C619.00,165.87 620.00,165.64 621.00,165.43 C622.00,165.22 623.00,165.01 624.00,164.82 C625.00,164.62 626.00,164.44 627.00,164.26 C628.00,164.08 629.00,163.91 630.00,163.75 C631.00,163.58 632.00,163.43 633.00,163.28 C634.00,163.13 635.00,163.00 636.00,162.86 C637.00,162.73 638.00,162.61 639.00,162.49 C640.00,162.37 641.00,162.26 642.00,162.15 C643.00,162.05 644.00,161.95 645.00,161.86 C646.00,161.77 647.00,161.68 648.00,161.60 C649.00,161.52 650.00,161.45 651.00,161.38 C652.00,161.32 653.00,161.25 654.00,161.20 C655.00,161.14 656.00,161.09 657.00,161.04 C658.00,160.99 659.00,160.95 660.00,160.91 C661.00,160.88 662.00,160.84 663.00,160.82 C664.00,160.79 665.00,160.76 666.00,160.74 C667.00,160.72 668.00,160.71 669.00,160.69 C670.00,160.68 671.00,160.67 672.00,160.66 C673.00,160.66 674.50,160.66 675.00,160.66" stroke="#ec2c2c" stroke-width="1.85" fill="none"/>
<path d="M480.00,322.42 C480.50,322.38 482.00,322.33 483.00,322.22 C484.00,322.11 485.00,321.96 486.00,321.76 C487.00,321.57 488.00,321.32 489.00,321.04 C490.00,320.75 491.00,320.43 492.00,320.05 C493.00,319.68 494.00,319.27 495.00,318.81 C496.00,318.35 497.00,317.85 498.00,317.31 C499.00,316.77 500.00,316.18 501.00,315.56 C502.00,314.93 503.00,314.26 504.00,313.55 C505.00,312.84 506.00,312.09 507.00,311.30 C508.00,310.51 509.00,309.67 510.00,308.80 C511.00,307.92 512.00,307.01 513.00,306.05 C514.00,305.10 515.00,304.10 516.00,303.07 C517.00,302.04 518.00,300.97 519.00,299.88 C520.00,298.79 521.00,297.67 522.00,296.53 C523.00,295.39 524.00,294.23 525.00,293.06 C526.00,291.89 527.00,290.70 528.00,289.51 C529.00,288.33 530.00,287.13 531.00,285.94 C532.00,284.75 533.00,283.55 534.00,282.37 C535.00,281.20 536.00,280.02 537.00,278.86 C538.00,277.70 539.00,276.55 540.00,275.40 C541.00,274.26 542.00,273.13 543.00,272.01 C544.00,270.90 545.00,269.79 546.00,268.69 C547.00,267.60 548.00,266.51 549.00,265.44 C550.00,264.37 551.00,263.32 552.00,262.27 C553.00,261.23 554.00,260.20 555.00,259.19 C556.00,258.17 557.00,257.17 558.00,256.18 C559.00,255.20 560.00,254.23 561.00,253.27 C562.00,252.32 563.00,251.38 564.00,250.46 C565.00,249.54 566.00,248.63 567.00,247.74 C568.00,246.86 569.00,245.98 570.00,245.13 C571.00,244.28 572.00,243.45 573.00,242.63 C574.00,241.82 575.00,241.02 576.00,240.24 C577.00,239.47 578.00,238.71 579.00,237.97 C580.00,237.24 581.00,236.52 582.00,235.83 C583.00,235.13 584.00,234.46 585.00,233.80 C586.00,233.15 587.00,232.51 588.00,231.89 C589.00,231.28 590.00,230.68 591.00,230.10 C592.00,229.52 593.00,228.96 594.00,228.41 C595.00,227.87 596.00,227.34 597.00,226.83 C598.00,226.32 599.00,225.82 600.00,225.34 C601.00,224.86 602.00,224.39 603.00,223.94 C604.00,223.49 605.00,223.05 606.00,222.63 C607.00,222.20 608.00,221.79 609.00,221.39 C610.00,220.99 611.00,220.60 612.00,220.23 C613.00,219.85 614.00,219.49 615.00,219.13 C616.00,218.78 617.00,218.43 618.00,218.10 C619.00,217.76 620.00,217.44 621.00,217.12 C622.00,216.80 623.00,216.50 624.00,216.19 C625.00,215.89 626.00,215.60 627.00,215.31 C628.00,215.03 629.00,214.74 630.00,214.47 C631.00,214.20 632.00,213.93 633.00,213.67 C634.00,213.41 635.00,213.16 636.00,212.91 C637.00,212.67 638.00,212.43 639.00,212.20 C640.00,211.97 641.00,211.75 642.00,211.54 C643.00,211.33 644.00,211.12 645.00,210.93 C646.00,210.73 647.00,210.55 648.00,210.37 C649.00,210.19 650.00,210.02 651.00,209.87 C652.00,209.71 653.00,209.56 654.00,209.42 C655.00,209.28 656.00,209.15 657.00,209.04 C658.00,208.92 659.00,208.81 660.00,208.72 C661.00,208.62 662.00,208.53 663.00,208.46 C664.00,208.39 665.00,208.32 666.00,208.27 C667.00,208.22 668.00,208.18 669.00,208.15 C670.00,208.13 671.00,208.11 672.00,208.11 C673.00,208.10 674.50,208.13 675.00,208.14" stroke="#ec2c2c" stroke-width="1.85" fill="none"/>
<path d="M480.00,234.00 C480.50,234.00 482.00,234.01 483.00,234.01 C484.00,234.01 485.00,234.02 486.00,234.02 C487.00,234.02 488.00,234.02 489.00,234.02 C490.00,234.02 491.00,234.02 492.00,234.02 C493.00,234.02 494.00,234.02 495.00,234.02 C496.00,234.02 497.00,234.02 498.00,234.02 C499.00,234.02 500.00,234.01 501.00,234.01 C502.00,234.01 503.00,234.01 504.00,234.00 C505.00,234.00 506.00,234.00 507.00,233.99 C508.00,233.99 509.00,233.98 510.00,233.98 C511.00,233.98 512.00,233.97 513.00,233.97 C514.00,233.96 515.00,233.96 516.00,233.96 C517.00,233.95 518.00,233.95 519.00,233.94 C520.00,233.94 521.00,233.94 522.00,233.93 C523.00,233.93 524.00,233.93 525.00,233.93 C526.00,233.94 527.00,233.94 528.00,233.95 C529.00,233.96 530.00,233.97 531.00,234.00 C532.00,234.02 533.00,234.04 534.00,234.07 C535.00,234.11 536.00,234.14 537.00,234.19 C538.00,234.24 539.00,234.30 540.00,234.36 C541.00,234.43 542.00,234.51 543.00,234.59 C544.00,234.68 545.00,234.78 546.00,234.88 C547.00,234.97 548.00,235.07 549.00,235.16 C550.00,235.25 551.00,235.33 552.00,235.41 C553.00,235.50 554.00,235.57 555.00,235.64 C556.00,235.72 557.00,235.79 558.00,235.85 C559.00,235.92 560.00,235.98 561.00,236.04 C562.00,236.10 563.00,236.16 564.00,236.21 C565.00,236.26 566.00,236.32 567.00,236.37 C568.00,236.42 569.00,236.46 570.00,236.51 C571.00,236.55 572.00,236.60 573.00,236.64 C574.00,236.68 575.00,236.72 576.00,236.75 C577.00,236.79 578.00,236.83 579.00,236.86 C580.00,236.89 581.00,236.93 582.00,236.96 C583.00,236.99 584.00,237.02 585.00,237.04 C586.00,237.07 587.00,237.09 588.00,237.12 C589.00,237.14 590.00,237.16 591.00,237.17 C592.00,237.19 593.00,237.20 594.00,237.21 C595.00,237.22 596.00,237.22 597.00,237.22 C598.00,237.23 599.00,237.22 600.00,237.22 C601.00,237.21 602.00,237.20 603.00,237.18 C604.00,237.16 605.00,237.14 606.00,237.11 C607.00,237.09 608.00,237.05 609.00,237.02 C610.00,236.98 611.00,236.93 612.00,236.88 C613.00,236.83 614.00,236.77 615.00,236.71 C616.00,236.65 617.00,236.57 618.00,236.50 C619.00,236.42 620.00,236.33 621.00,236.26 C622.00,236.18 623.00,236.11 624.00,236.05 C625.00,235.99 626.00,235.94 627.00,235.89 C628.00,235.85 629.00,235.81 630.00,235.78 C631.00,235.74 632.00,235.72 633.00,235.69 C634.00,235.67 635.00,235.65 636.00,235.64 C637.00,235.63 638.00,235.62 639.00,235.61 C640.00,235.60 641.00,235.60 642.00,235.60 C643.00,235.60 644.00,235.60 645.00,235.61 C646.00,235.61 647.00,235.62 648.00,235.62 C649.00,235.63 650.00,235.64 651.00,235.65 C652.00,235.66 653.00,235.67 654.00,235.68 C655.00,235.69 656.00,235.70 657.00,235.71 C658.00,235.71 659.00,235.72 660.00,235.73 C661.00,235.74 662.00,235.75 663.00,235.75 C664.00,235.76 665.00,235.76 666.00,235.76 C667.00,235.76 668.00,235.76 669.00,235.76 C670.00,235.76 671.00,235.75 672.00,235.74 C673.00,235.73 674.50,235.70 675.00,235.70" stroke="#2323e2" stroke-width="1.85" fill="none"/>
<path d="M480.00,296.73 C480.50,296.76 482.00,296.87 483.00,296.89 C484.00,296.92 485.00,296.91 486.00,296.88 C487.00,296.85 488.00,296.79 489.00,296.71 C490.00,296.63 491.00,296.52 492.00,296.39 C493.00,296.27 494.00,296.11 495.00,295.94 C496.00,295.77 497.00,295.58 498.00,295.36 C499.00,295.15 500.00,294.92 501.00,294.67 C502.00,294.42 503.00,294.15 504.00,293.87 C505.00,293.59 506.00,293.29 507.00,292.99 C508.00,292.68 509.00,292.35 510.00,292.01 C511.00,291.68 512.00,291.33 513.00,290.97 C514.00,290.62 515.00,290.25 516.00,289.87 C517.00,289.50 518.00,289.11 519.00,288.72 C520.00,288.33 521.00,287.93 522.00,287.53 C523.00,287.13 524.00,286.73 525.00,286.32 C526.00,285.91 527.00,285.50 528.00,285.09 C529.00,284.67 530.00,284.26 531.00,283.85 C532.00,283.44 533.00,283.02 534.00,282.62 C535.00,282.21 536.00,281.80 537.00,281.40 C538.00,281.00 539.00,280.60 540.00,280.21 C541.00,279.82 542.00,279.44 543.00,279.06 C544.00,278.69 545.00,278.32 546.00,277.96 C547.00,277.61 548.00,277.26 549.00,276.92 C550.00,276.59 551.00,276.26 552.00,275.96 C553.00,275.65 554.00,275.35 555.00,275.07 C556.00,274.79 557.00,274.52 558.00,274.27 C559.00,274.03 560.00,273.80 561.00,273.58 C562.00,273.37 563.00,273.18 564.00,273.01 C565.00,272.83 566.00,272.68 567.00,272.54 C568.00,272.41 569.00,272.29 570.00,272.19 C571.00,272.08 572.00,272.00 573.00,271.93 C574.00,271.86 575.00,271.81 576.00,271.77 C577.00,271.74 578.00,271.71 579.00,271.71 C580.00,271.70 581.00,271.70 582.00,271.72 C583.00,271.74 584.00,271.78 585.00,271.82 C586.00,271.86 587.00,271.92 588.00,271.99 C589.00,272.06 590.00,272.14 591.00,272.23 C592.00,272.32 593.00,272.42 594.00,272.53 C595.00,272.64 596.00,272.76 597.00,272.89 C598.00,273.02 599.00,273.16 600.00,273.30 C601.00,273.45 602.00,273.60 603.00,273.76 C604.00,273.92 605.00,274.09 606.00,274.26 C607.00,274.43 608.00,274.61 609.00,274.79 C610.00,274.96 611.00,275.14 612.00,275.32 C613.00,275.50 614.00,275.68 615.00,275.85 C616.00,276.02 617.00,276.20 618.00,276.36 C619.00,276.52 620.00,276.68 621.00,276.82 C622.00,276.96 623.00,277.10 624.00,277.22 C625.00,277.35 626.00,277.46 627.00,277.55 C628.00,277.65 629.00,277.72 630.00,277.79 C631.00,277.85 632.00,277.89 633.00,277.93 C634.00,277.96 635.00,277.98 636.00,277.98 C637.00,277.99 638.00,277.99 639.00,277.98 C640.00,277.96 641.00,277.94 642.00,277.91 C643.00,277.89 644.00,277.85 645.00,277.81 C646.00,277.77 647.00,277.73 648.00,277.69 C649.00,277.64 650.00,277.59 651.00,277.55 C652.00,277.50 653.00,277.46 654.00,277.42 C655.00,277.37 656.00,277.33 657.00,277.30 C658.00,277.27 659.00,277.24 660.00,277.22 C661.00,277.19 662.00,277.18 663.00,277.18 C664.00,277.17 665.00,277.18 666.00,277.20 C667.00,277.22 668.00,277.25 669.00,277.30 C670.00,277.34 671.00,277.40 672.00,277.48 C673.00,277.56 674.50,277.72 675.00,277.77" stroke="#2323e2" stroke-width="1.85" fill="none"/>
<path d="M480.00,364.40 C480.50,364.41 482.00,364.48 483.00,364.44 C484.00,364.40 485.00,364.31 486.00,364.17 C487.00,364.03 488.00,363.84 489.00,363.61 C490.00,363.38 491.00,363.10 492.00,362.78 C493.00,362.46 494.00,362.10 495.00,361.70 C496.00,361.30 497.00,360.85 498.00,360.37 C499.00,359.90 500.00,359.38 501.00,358.83 C502.00,358.28 503.00,357.70 504.00,357.09 C505.00,356.47 506.00,355.83 507.00,355.16 C508.00,354.49 509.00,353.78 510.00,353.06 C511.00,352.33 512.00,351.58 513.00,350.81 C514.00,350.04 515.00,349.24 516.00,348.42 C517.00,347.61 518.00,346.77 519.00,345.92 C520.00,345.07 521.00,344.20 522.00,343.32 C523.00,342.44 524.00,341.55 525.00,340.64 C526.00,339.74 527.00,338.82 528.00,337.89 C529.00,336.97 530.00,336.04 531.00,335.10 C532.00,334.16 533.00,333.21 534.00,332.26 C535.00,331.32 536.00,330.36 537.00,329.40 C538.00,328.44 539.00,327.48 540.00,326.52 C541.00,325.56 542.00,324.59 543.00,323.63 C544.00,322.66 545.00,321.70 546.00,320.73 C547.00,319.77 548.00,318.80 549.00,317.85 C550.00,316.89 551.00,315.93 552.00,314.98 C553.00,314.02 554.00,313.08 555.00,312.13 C556.00,311.19 557.00,310.25 558.00,309.33 C559.00,308.40 560.00,307.48 561.00,306.57 C562.00,305.65 563.00,304.75 564.00,303.86 C565.00,302.97 566.00,302.09 567.00,301.22 C568.00,300.35 569.00,299.50 570.00,298.66 C571.00,297.82 572.00,296.99 573.00,296.18 C574.00,295.37 575.00,294.58 576.00,293.80 C577.00,293.03 578.00,292.27 579.00,291.52 C580.00,290.78 581.00,290.05 582.00,289.33 C583.00,288.62 584.00,287.92 585.00,287.24 C586.00,286.56 587.00,285.90 588.00,285.24 C589.00,284.59 590.00,283.96 591.00,283.34 C592.00,282.72 593.00,282.11 594.00,281.52 C595.00,280.93 596.00,280.35 597.00,279.79 C598.00,279.23 599.00,278.68 600.00,278.15 C601.00,277.62 602.00,277.10 603.00,276.59 C604.00,276.09 605.00,275.60 606.00,275.12 C607.00,274.64 608.00,274.18 609.00,273.73 C610.00,273.28 611.00,272.84 612.00,272.42 C613.00,272.00 614.00,271.59 615.00,271.19 C616.00,270.80 617.00,270.41 618.00,270.04 C619.00,269.67 620.00,269.31 621.00,268.97 C622.00,268.62 623.00,268.29 624.00,267.97 C625.00,267.65 626.00,267.34 627.00,267.04 C628.00,266.74 629.00,266.46 630.00,266.19 C631.00,265.91 632.00,265.65 633.00,265.40 C634.00,265.15 635.00,264.91 636.00,264.69 C637.00,264.46 638.00,264.25 639.00,264.04 C640.00,263.84 641.00,263.64 642.00,263.46 C643.00,263.28 644.00,263.11 645.00,262.94 C646.00,262.78 647.00,262.63 648.00,262.49 C649.00,262.35 650.00,262.22 651.00,262.10 C652.00,261.98 653.00,261.87 654.00,261.77 C655.00,261.67 656.00,261.57 657.00,261.49 C658.00,261.41 659.00,261.34 660.00,261.28 C661.00,261.21 662.00,261.16 663.00,261.12 C664.00,261.07 665.00,261.04 666.00,261.01 C667.00,260.98 668.00,260.97 669.00,260.96 C670.00,260.95 671.00,260.95 672.00,260.95 C673.00,260.96 674.50,260.99 675.00,261.00" stroke="#2323e2" stroke-width="1.85" fill="none"/>
</g>
<g clip-path="url(#cm0)" fill="none" stroke-linejoin="round">
<path d="M286.50,26.10 L304.40,26.70 L330.70,29.60 L357.00,31.10 L370.00,32.20 L381.80,33.20 L383.20,33.40 L383.20,76.30" stroke="#ec2c2c" stroke-width="1.85"/>
<path d="M383.20,124.00 L383.20,126.10 L363.00,134.10 L383.20,143.20 L383.20,151.40 L348.20,159.00 L316.10,165.40 L300.00,167.40 L293.60,168.60 L289.50,170.30 L287.20,172.50 L286.60,176.00 L287.00,180.70 L290.00,187.00 L293.50,192.50 L300.70,197.00 L320.50,203.60 L313.00,205.20 L295.50,206.70 L286.40,208.20" stroke="#ec2c2c" stroke-width="1.85"/>
<path d="M286.40,225.10 L293.00,227.50 L300.70,229.20 L321.00,231.20 L335.00,232.40 L342.00,233.50 L356.00,234.30 L365.00,235.50 L373.50,236.20 L382.30,237.50 L381.40,242.50 L377.00,250.40 L370.00,258.30 L363.90,264.40 L356.90,272.30 L352.50,279.30 L348.10,286.30 L345.90,293.30 L345.90,300.30 L348.10,306.40 L352.50,312.60 L361.30,317.80 L370.00,323.10 L378.80,327.50 L382.70,330.10 L383.20,331.00 L383.20,372.60" stroke="#ec2c2c" stroke-width="1.85"/>
<path d="M383.20,76.30 L391.00,75.20 L399.00,73.60 L415.40,70.50 L447.50,67.00 L479.00,64.10" stroke="#2323e2" stroke-width="1.9"/>
<path d="M383.20,76.30 L383.20,252.20 L411.80,256.60 L447.10,262.50 L454.50,270.50 L479.00,272.80" stroke="#2323e2" stroke-width="1.9"/>
<path d="M479.00,290.50 L425.00,294.50 L399.10,295.20 L396.90,296.70 L386.70,297.20 L393.20,301.10 L399.10,304.00 L403.50,308.40 L407.10,314.20 L410.00,320.00 L412.20,327.30 L414.00,334.60 L414.40,340.50 L412.20,347.00 L409.30,352.90 L405.70,357.30 L396.90,362.40 L389.60,367.50 L384.50,371.10 L383.20,372.60 L383.20,426.40" stroke="#2323e2" stroke-width="1.9"/>
</g>
<g clip-path="url(#cl1)" stroke-linejoin="round" stroke-linecap="round">
<path d="M91.50,452.54 C92.00,452.80 93.50,453.53 94.50,454.11 C95.50,454.69 96.50,455.34 97.50,456.03 C98.50,456.72 99.50,457.47 100.50,458.25 C101.50,459.03 102.50,459.86 103.50,460.71 C104.50,461.57 105.50,462.46 106.50,463.37 C107.50,464.29 108.50,465.23 109.50,466.18 C110.50,467.13 111.50,468.10 112.50,469.08 C113.50,470.05 114.50,471.04 115.50,472.01 C116.50,472.99 117.50,473.97 118.50,474.94 C119.50,475.91 120.50,476.88 121.50,477.83 C122.50,478.79 123.50,479.73 124.50,480.66 C125.50,481.59 126.50,482.51 127.50,483.40 C128.50,484.30 129.50,485.18 130.50,486.03 C131.50,486.89 132.50,487.72 133.50,488.53 C134.50,489.34 135.50,490.12 136.50,490.87 C137.50,491.62 138.50,492.34 139.50,493.03 C140.50,493.71 141.50,494.36 142.50,494.98 C143.50,495.59 144.50,496.17 145.50,496.70 C146.50,497.24 147.50,497.74 148.50,498.20 C149.50,498.65 150.50,499.07 151.50,499.45 C152.50,499.82 153.50,500.16 154.50,500.45 C155.50,500.74 156.50,500.99 157.50,501.19 C158.50,501.39 159.50,501.55 160.50,501.67 C161.50,501.78 162.50,501.85 163.50,501.87 C164.50,501.90 165.50,501.87 166.50,501.80 C167.50,501.73 168.50,501.61 169.50,501.44 C170.50,501.27 171.50,501.05 172.50,500.78 C173.50,500.51 174.50,500.19 175.50,499.82 C176.50,499.45 177.50,499.03 178.50,498.55 C179.50,498.07 180.50,497.54 181.50,496.97 C182.50,496.39 183.50,495.77 184.50,495.10 C185.50,494.43 186.50,493.72 187.50,492.96 C188.50,492.21 189.50,491.42 190.50,490.59 C191.50,489.76 192.50,488.89 193.50,487.99 C194.50,487.09 195.50,486.16 196.50,485.20 C197.50,484.24 198.50,483.25 199.50,482.24 C200.50,481.23 201.50,480.18 202.50,479.13 C203.50,478.07 204.50,476.99 205.50,475.89 C206.50,474.80 207.50,473.68 208.50,472.56 C209.50,471.43 210.50,470.29 211.50,469.14 C212.50,468.00 213.50,466.84 214.50,465.67 C215.50,464.51 216.50,463.34 217.50,462.17 C218.50,461.01 219.50,459.83 220.50,458.67 C221.50,457.50 222.50,456.34 223.50,455.18 C224.50,454.02 225.50,452.87 226.50,451.73 C227.50,450.59 228.50,449.45 229.50,448.33 C230.50,447.21 231.50,446.10 232.50,445.00 C233.50,443.90 234.50,442.81 235.50,441.74 C236.50,440.67 237.50,439.61 238.50,438.56 C239.50,437.52 240.50,436.49 241.50,435.47 C242.50,434.46 243.50,433.46 244.50,432.49 C245.50,431.51 246.50,430.54 247.50,429.60 C248.50,428.66 249.50,427.74 250.50,426.84 C251.50,425.93 252.50,425.05 253.50,424.19 C254.50,423.33 255.50,422.49 256.50,421.68 C257.50,420.87 258.50,420.08 259.50,419.31 C260.50,418.55 261.50,417.81 262.50,417.09 C263.50,416.38 264.92,415.43 265.50,415.03 C266.08,414.63 265.92,414.76 266.00,414.70" stroke="#ec2c2c" stroke-width="1.9" fill="none"/>
<path d="M91.50,494.54 C92.00,494.91 93.50,495.96 94.50,496.72 C95.50,497.47 96.50,498.27 97.50,499.09 C98.50,499.91 99.50,500.76 100.50,501.63 C101.50,502.49 102.50,503.39 103.50,504.30 C104.50,505.21 105.50,506.14 106.50,507.07 C107.50,508.01 108.50,508.96 109.50,509.92 C110.50,510.87 111.50,511.84 112.50,512.80 C113.50,513.76 114.50,514.72 115.50,515.68 C116.50,516.64 117.50,517.59 118.50,518.53 C119.50,519.47 120.50,520.41 121.50,521.33 C122.50,522.24 123.50,523.14 124.50,524.02 C125.50,524.90 126.50,525.76 127.50,526.59 C128.50,527.42 129.50,528.23 130.50,529.00 C131.50,529.77 132.50,530.51 133.50,531.22 C134.50,531.92 135.50,532.58 136.50,533.20 C137.50,533.82 138.50,534.41 139.50,534.94 C140.50,535.46 141.50,535.95 142.50,536.38 C143.50,536.80 144.50,537.18 145.50,537.50 C146.50,537.82 147.50,538.08 148.50,538.30 C149.50,538.51 150.50,538.67 151.50,538.78 C152.50,538.88 153.50,538.94 154.50,538.94 C155.50,538.95 156.50,538.90 157.50,538.80 C158.50,538.70 159.50,538.55 160.50,538.34 C161.50,538.14 162.50,537.89 163.50,537.59 C164.50,537.29 165.50,536.93 166.50,536.53 C167.50,536.13 168.50,535.68 169.50,535.18 C170.50,534.68 171.50,534.13 172.50,533.53 C173.50,532.94 174.50,532.29 175.50,531.60 C176.50,530.90 177.50,530.16 178.50,529.38 C179.50,528.59 180.50,527.75 181.50,526.87 C182.50,525.99 183.50,525.06 184.50,524.09 C185.50,523.12 186.50,522.10 187.50,521.03 C188.50,519.97 189.50,518.87 190.50,517.72 C191.50,516.58 192.50,515.39 193.50,514.17 C194.50,512.95 195.50,511.69 196.50,510.40 C197.50,509.11 198.50,507.78 199.50,506.42 C200.50,505.07 201.50,503.68 202.50,502.28 C203.50,500.87 204.50,499.44 205.50,497.99 C206.50,496.55 207.50,495.08 208.50,493.61 C209.50,492.13 210.50,490.64 211.50,489.15 C212.50,487.66 213.50,486.16 214.50,484.67 C215.50,483.17 216.50,481.67 217.50,480.18 C218.50,478.70 219.50,477.21 220.50,475.74 C221.50,474.27 222.50,472.81 223.50,471.36 C224.50,469.92 225.50,468.49 226.50,467.09 C227.50,465.68 228.50,464.29 229.50,462.94 C230.50,461.58 231.50,460.25 232.50,458.95 C233.50,457.65 234.50,456.39 235.50,455.16 C236.50,453.93 237.50,452.73 238.50,451.57 C239.50,450.41 240.50,449.29 241.50,448.20 C242.50,447.11 243.50,446.06 244.50,445.04 C245.50,444.03 246.50,443.05 247.50,442.11 C248.50,441.17 249.50,440.27 250.50,439.41 C251.50,438.55 252.50,437.72 253.50,436.94 C254.50,436.16 255.50,435.41 256.50,434.71 C257.50,434.00 258.50,433.34 259.50,432.72 C260.50,432.09 261.50,431.51 262.50,430.97 C263.50,430.44 264.50,429.94 265.50,429.48 C266.50,429.03 267.50,428.62 268.50,428.25 C269.50,427.88 270.50,427.56 271.50,427.28 C272.50,427.00 273.50,426.76 274.50,426.57 C275.50,426.38 276.50,426.23 277.50,426.14 C278.50,426.04 279.50,425.98 280.50,425.98 C281.50,425.97 282.50,426.01 283.50,426.10 C284.50,426.19 286.00,426.44 286.50,426.51" stroke="#2323e2" stroke-width="2.4" fill="none"/>
<path d="M91.50,615.68 C92.00,615.71 93.50,615.78 94.50,615.82 C95.50,615.86 96.50,615.91 97.50,615.94 C98.50,615.98 99.50,616.02 100.50,616.06 C101.50,616.09 102.50,616.12 103.50,616.16 C104.50,616.19 105.50,616.22 106.50,616.24 C107.50,616.27 108.50,616.29 109.50,616.32 C110.50,616.34 111.50,616.36 112.50,616.38 C113.50,616.40 114.50,616.42 115.50,616.43 C116.50,616.45 117.50,616.46 118.50,616.47 C119.50,616.48 120.50,616.49 121.50,616.50 C122.50,616.51 123.50,616.51 124.50,616.52 C125.50,616.52 126.50,616.52 127.50,616.52 C128.50,616.52 129.50,616.52 130.50,616.52 C131.50,616.51 132.50,616.51 133.50,616.50 C134.50,616.49 135.50,616.48 136.50,616.47 C137.50,616.46 138.50,616.45 139.50,616.43 C140.50,616.42 141.50,616.40 142.50,616.38 C143.50,616.37 144.50,616.35 145.50,616.32 C146.50,616.30 147.50,616.28 148.50,616.25 C149.50,616.23 150.50,616.20 151.50,616.17 C152.50,616.14 153.50,616.11 154.50,616.08 C155.50,616.04 156.50,616.01 157.50,615.97 C158.50,615.94 159.50,615.90 160.50,615.86 C161.50,615.82 162.50,615.78 163.50,615.74 C164.50,615.69 165.50,615.65 166.50,615.60 C167.50,615.56 168.50,615.51 169.50,615.46 C170.50,615.41 171.50,615.36 172.50,615.31 C173.50,615.25 174.50,615.20 175.50,615.14 C176.50,615.09 177.50,615.03 178.50,614.97 C179.50,614.91 180.50,614.85 181.50,614.79 C182.50,614.73 183.50,614.66 184.50,614.60 C185.50,614.53 186.50,614.46 187.50,614.39 C188.50,614.33 189.50,614.25 190.50,614.18 C191.50,614.11 192.50,614.04 193.50,613.96 C194.50,613.89 195.50,613.81 196.50,613.73 C197.50,613.66 198.50,613.58 199.50,613.50 C200.50,613.41 201.50,613.33 202.50,613.25 C203.50,613.17 204.50,613.08 205.50,612.99 C206.50,612.91 207.50,612.82 208.50,612.73 C209.50,612.65 210.50,612.56 211.50,612.47 C212.50,612.38 213.50,612.29 214.50,612.19 C215.50,612.10 216.50,612.01 217.50,611.92 C218.50,611.83 219.50,611.73 220.50,611.64 C221.50,611.55 222.50,611.45 223.50,611.36 C224.50,611.26 225.50,611.17 226.50,611.07 C227.50,610.98 228.50,610.88 229.50,610.79 C230.50,610.69 231.50,610.60 232.50,610.50 C233.50,610.41 234.50,610.31 235.50,610.22 C236.50,610.12 237.50,610.03 238.50,609.93 C239.50,609.84 240.50,609.75 241.50,609.65 C242.50,609.56 243.50,609.47 244.50,609.38 C245.50,609.28 246.50,609.19 247.50,609.10 C248.50,609.01 249.50,608.92 250.50,608.83 C251.50,608.74 252.50,608.66 253.50,608.57 C254.50,608.48 255.50,608.40 256.50,608.31 C257.50,608.23 258.50,608.14 259.50,608.06 C260.50,607.98 261.50,607.90 262.50,607.82 C263.50,607.74 264.50,607.66 265.50,607.58 C266.50,607.51 267.50,607.43 268.50,607.36 C269.50,607.29 270.50,607.22 271.50,607.15 C272.50,607.08 273.50,607.01 274.50,606.94 C275.50,606.88 276.50,606.82 277.50,606.75 C278.50,606.69 279.50,606.63 280.50,606.58 C281.50,606.52 282.50,606.47 283.50,606.41 C284.50,606.36 286.00,606.29 286.50,606.26" stroke="#ec2c2c" stroke-width="1.85" fill="none"/>
<path d="M91.50,703.76 C92.00,703.76 93.50,703.81 94.50,703.79 C95.50,703.76 96.50,703.70 97.50,703.60 C98.50,703.51 99.50,703.38 100.50,703.22 C101.50,703.06 102.50,702.86 103.50,702.64 C104.50,702.42 105.50,702.17 106.50,701.89 C107.50,701.61 108.50,701.30 109.50,700.96 C110.50,700.62 111.50,700.26 112.50,699.87 C113.50,699.49 114.50,699.07 115.50,698.64 C116.50,698.20 117.50,697.74 118.50,697.27 C119.50,696.79 120.50,696.28 121.50,695.76 C122.50,695.24 123.50,694.70 124.50,694.14 C125.50,693.59 126.50,693.01 127.50,692.42 C128.50,691.82 129.50,691.22 130.50,690.59 C131.50,689.97 132.50,689.33 133.50,688.68 C134.50,688.03 135.50,687.37 136.50,686.70 C137.50,686.02 138.50,685.34 139.50,684.64 C140.50,683.95 141.50,683.25 142.50,682.54 C143.50,681.83 144.50,681.11 145.50,680.38 C146.50,679.66 147.50,678.93 148.50,678.20 C149.50,677.46 150.50,676.73 151.50,675.99 C152.50,675.25 153.50,674.50 154.50,673.76 C155.50,673.02 156.50,672.28 157.50,671.54 C158.50,670.79 159.50,670.05 160.50,669.32 C161.50,668.58 162.50,667.84 163.50,667.11 C164.50,666.38 165.50,665.66 166.50,664.94 C167.50,664.22 168.50,663.51 169.50,662.81 C170.50,662.10 171.50,661.41 172.50,660.72 C173.50,660.04 174.50,659.36 175.50,658.69 C176.50,658.03 177.50,657.38 178.50,656.74 C179.50,656.10 180.50,655.47 181.50,654.86 C182.50,654.25 183.50,653.66 184.50,653.08 C185.50,652.49 186.50,651.93 187.50,651.37 C188.50,650.82 189.50,650.28 190.50,649.75 C191.50,649.23 192.50,648.72 193.50,648.22 C194.50,647.72 195.50,647.23 196.50,646.76 C197.50,646.28 198.50,645.83 199.50,645.38 C200.50,644.93 201.50,644.50 202.50,644.07 C203.50,643.65 204.50,643.24 205.50,642.84 C206.50,642.44 207.50,642.06 208.50,641.68 C209.50,641.31 210.50,640.94 211.50,640.59 C212.50,640.24 213.50,639.90 214.50,639.57 C215.50,639.24 216.50,638.92 217.50,638.61 C218.50,638.30 219.50,638.01 220.50,637.72 C221.50,637.43 222.50,637.16 223.50,636.89 C224.50,636.62 225.50,636.36 226.50,636.12 C227.50,635.87 228.50,635.63 229.50,635.40 C230.50,635.17 231.50,634.95 232.50,634.74 C233.50,634.53 234.50,634.33 235.50,634.14 C236.50,633.94 237.50,633.76 238.50,633.58 C239.50,633.41 240.50,633.24 241.50,633.08 C242.50,632.92 243.50,632.77 244.50,632.62 C245.50,632.48 246.50,632.34 247.50,632.21 C248.50,632.08 249.50,631.96 250.50,631.85 C251.50,631.73 252.50,631.62 253.50,631.52 C254.50,631.42 255.50,631.32 256.50,631.23 C257.50,631.14 258.50,631.06 259.50,630.98 C260.50,630.91 261.50,630.84 262.50,630.77 C263.50,630.71 264.50,630.65 265.50,630.59 C266.50,630.54 267.50,630.49 268.50,630.44 C269.50,630.40 270.50,630.36 271.50,630.33 C272.50,630.29 273.50,630.26 274.50,630.23 C275.50,630.21 276.50,630.19 277.50,630.17 C278.50,630.15 279.50,630.14 280.50,630.13 C281.50,630.12 282.50,630.11 283.50,630.11 C284.50,630.10 286.00,630.11 286.50,630.11" stroke="#ec2c2c" stroke-width="1.85" fill="none"/>
<path d="M91.50,791.67 C92.00,791.64 93.50,791.60 94.50,791.50 C95.50,791.39 96.50,791.25 97.50,791.06 C98.50,790.87 99.50,790.64 100.50,790.36 C101.50,790.08 102.50,789.76 103.50,789.40 C104.50,789.03 105.50,788.63 106.50,788.18 C107.50,787.73 108.50,787.24 109.50,786.70 C110.50,786.17 111.50,785.59 112.50,784.97 C113.50,784.35 114.50,783.69 115.50,782.99 C116.50,782.29 117.50,781.54 118.50,780.76 C119.50,779.97 120.50,779.15 121.50,778.28 C122.50,777.41 123.50,776.50 124.50,775.56 C125.50,774.61 126.50,773.62 127.50,772.60 C128.50,771.57 129.50,770.51 130.50,769.43 C131.50,768.35 132.50,767.23 133.50,766.10 C134.50,764.97 135.50,763.82 136.50,762.66 C137.50,761.49 138.50,760.31 139.50,759.13 C140.50,757.95 141.50,756.76 142.50,755.58 C143.50,754.40 144.50,753.21 145.50,752.04 C146.50,750.87 147.50,749.70 148.50,748.55 C149.50,747.39 150.50,746.25 151.50,745.12 C152.50,743.98 153.50,742.86 154.50,741.75 C155.50,740.64 156.50,739.54 157.50,738.45 C158.50,737.36 159.50,736.29 160.50,735.23 C161.50,734.16 162.50,733.11 163.50,732.08 C164.50,731.04 165.50,730.02 166.50,729.01 C167.50,728.01 168.50,727.01 169.50,726.03 C170.50,725.06 171.50,724.09 172.50,723.15 C173.50,722.20 174.50,721.27 175.50,720.35 C176.50,719.44 177.50,718.54 178.50,717.66 C179.50,716.78 180.50,715.92 181.50,715.08 C182.50,714.23 183.50,713.40 184.50,712.60 C185.50,711.79 186.50,711.00 187.50,710.23 C188.50,709.46 189.50,708.71 190.50,707.98 C191.50,707.26 192.50,706.55 193.50,705.86 C194.50,705.17 195.50,704.51 196.50,703.86 C197.50,703.21 198.50,702.58 199.50,701.98 C200.50,701.37 201.50,700.78 202.50,700.21 C203.50,699.63 204.50,699.08 205.50,698.54 C206.50,698.00 207.50,697.48 208.50,696.98 C209.50,696.48 210.50,695.99 211.50,695.51 C212.50,695.04 213.50,694.58 214.50,694.14 C215.50,693.69 216.50,693.26 217.50,692.85 C218.50,692.43 219.50,692.03 220.50,691.63 C221.50,691.24 222.50,690.86 223.50,690.49 C224.50,690.13 225.50,689.77 226.50,689.42 C227.50,689.07 228.50,688.74 229.50,688.41 C230.50,688.08 231.50,687.77 232.50,687.46 C233.50,687.15 234.50,686.85 235.50,686.55 C236.50,686.26 237.50,685.97 238.50,685.69 C239.50,685.41 240.50,685.14 241.50,684.87 C242.50,684.61 243.50,684.35 244.50,684.10 C245.50,683.84 246.50,683.60 247.50,683.36 C248.50,683.13 249.50,682.90 250.50,682.67 C251.50,682.45 252.50,682.24 253.50,682.04 C254.50,681.83 255.50,681.63 256.50,681.45 C257.50,681.26 258.50,681.08 259.50,680.91 C260.50,680.74 261.50,680.58 262.50,680.43 C263.50,680.28 264.50,680.14 265.50,680.01 C266.50,679.88 267.50,679.76 268.50,679.65 C269.50,679.54 270.50,679.44 271.50,679.35 C272.50,679.26 273.50,679.18 274.50,679.12 C275.50,679.05 276.50,679.00 277.50,678.95 C278.50,678.91 279.50,678.88 280.50,678.86 C281.50,678.84 282.50,678.83 283.50,678.83 C284.50,678.84 286.00,678.88 286.50,678.89" stroke="#ec2c2c" stroke-width="1.85" fill="none"/>
<path d="M91.50,702.45 C92.00,702.45 93.50,702.46 94.50,702.46 C95.50,702.46 96.50,702.47 97.50,702.47 C98.50,702.47 99.50,702.47 100.50,702.47 C101.50,702.47 102.50,702.47 103.50,702.47 C104.50,702.47 105.50,702.47 106.50,702.47 C107.50,702.47 108.50,702.47 109.50,702.47 C110.50,702.47 111.50,702.46 112.50,702.46 C113.50,702.46 114.50,702.46 115.50,702.45 C116.50,702.45 117.50,702.45 118.50,702.44 C119.50,702.44 120.50,702.43 121.50,702.43 C122.50,702.43 123.50,702.42 124.50,702.42 C125.50,702.41 126.50,702.41 127.50,702.41 C128.50,702.40 129.50,702.40 130.50,702.39 C131.50,702.39 132.50,702.39 133.50,702.38 C134.50,702.38 135.50,702.38 136.50,702.38 C137.50,702.39 138.50,702.39 139.50,702.40 C140.50,702.41 141.50,702.42 142.50,702.45 C143.50,702.47 144.50,702.49 145.50,702.52 C146.50,702.56 147.50,702.59 148.50,702.64 C149.50,702.69 150.50,702.75 151.50,702.81 C152.50,702.88 153.50,702.96 154.50,703.04 C155.50,703.13 156.50,703.23 157.50,703.33 C158.50,703.42 159.50,703.52 160.50,703.61 C161.50,703.70 162.50,703.78 163.50,703.86 C164.50,703.95 165.50,704.02 166.50,704.09 C167.50,704.17 168.50,704.24 169.50,704.30 C170.50,704.37 171.50,704.43 172.50,704.49 C173.50,704.55 174.50,704.61 175.50,704.66 C176.50,704.71 177.50,704.77 178.50,704.82 C179.50,704.87 180.50,704.91 181.50,704.96 C182.50,705.00 183.50,705.05 184.50,705.09 C185.50,705.13 186.50,705.17 187.50,705.20 C188.50,705.24 189.50,705.28 190.50,705.31 C191.50,705.34 192.50,705.38 193.50,705.41 C194.50,705.44 195.50,705.47 196.50,705.49 C197.50,705.52 198.50,705.54 199.50,705.57 C200.50,705.59 201.50,705.61 202.50,705.62 C203.50,705.64 204.50,705.65 205.50,705.66 C206.50,705.67 207.50,705.67 208.50,705.67 C209.50,705.68 210.50,705.67 211.50,705.67 C212.50,705.66 213.50,705.65 214.50,705.63 C215.50,705.61 216.50,705.59 217.50,705.56 C218.50,705.54 219.50,705.50 220.50,705.47 C221.50,705.43 222.50,705.38 223.50,705.33 C224.50,705.28 225.50,705.22 226.50,705.16 C227.50,705.10 228.50,705.02 229.50,704.95 C230.50,704.87 231.50,704.78 232.50,704.71 C233.50,704.63 234.50,704.56 235.50,704.50 C236.50,704.44 237.50,704.39 238.50,704.34 C239.50,704.30 240.50,704.26 241.50,704.23 C242.50,704.19 243.50,704.17 244.50,704.14 C245.50,704.12 246.50,704.10 247.50,704.09 C248.50,704.08 249.50,704.07 250.50,704.06 C251.50,704.05 252.50,704.05 253.50,704.05 C254.50,704.05 255.50,704.05 256.50,704.06 C257.50,704.06 258.50,704.07 259.50,704.07 C260.50,704.08 261.50,704.09 262.50,704.10 C263.50,704.11 264.50,704.12 265.50,704.13 C266.50,704.14 267.50,704.15 268.50,704.16 C269.50,704.16 270.50,704.17 271.50,704.18 C272.50,704.19 273.50,704.20 274.50,704.20 C275.50,704.21 276.50,704.21 277.50,704.21 C278.50,704.21 279.50,704.21 280.50,704.21 C281.50,704.21 282.50,704.20 283.50,704.19 C284.50,704.18 286.00,704.15 286.50,704.15" stroke="#2323e2" stroke-width="1.85" fill="none"/>
<path d="M91.50,765.98 C92.00,766.02 93.50,766.14 94.50,766.17 C95.50,766.20 96.50,766.21 97.50,766.19 C98.50,766.17 99.50,766.12 100.50,766.04 C101.50,765.97 102.50,765.87 103.50,765.76 C104.50,765.64 105.50,765.49 106.50,765.33 C107.50,765.17 108.50,764.98 109.50,764.78 C110.50,764.58 111.50,764.35 112.50,764.11 C113.50,763.88 114.50,763.62 115.50,763.35 C116.50,763.07 117.50,762.78 118.50,762.48 C119.50,762.18 120.50,761.87 121.50,761.54 C122.50,761.22 123.50,760.88 124.50,760.53 C125.50,760.18 126.50,759.82 127.50,759.45 C128.50,759.09 129.50,758.71 130.50,758.33 C131.50,757.95 132.50,757.56 133.50,757.17 C134.50,756.78 135.50,756.38 136.50,755.98 C137.50,755.58 138.50,755.18 139.50,754.78 C140.50,754.38 141.50,753.97 142.50,753.57 C143.50,753.17 144.50,752.76 145.50,752.37 C146.50,751.97 147.50,751.57 148.50,751.18 C149.50,750.79 150.50,750.40 151.50,750.02 C152.50,749.64 153.50,749.26 154.50,748.90 C155.50,748.53 156.50,748.17 157.50,747.82 C158.50,747.48 159.50,747.14 160.50,746.81 C161.50,746.49 162.50,746.17 163.50,745.87 C164.50,745.57 165.50,745.28 166.50,745.01 C167.50,744.74 168.50,744.48 169.50,744.24 C170.50,744.01 171.50,743.78 172.50,743.58 C173.50,743.38 174.50,743.20 175.50,743.03 C176.50,742.87 177.50,742.72 178.50,742.60 C179.50,742.47 180.50,742.36 181.50,742.27 C182.50,742.17 183.50,742.10 184.50,742.04 C185.50,741.98 186.50,741.94 187.50,741.91 C188.50,741.88 189.50,741.87 190.50,741.87 C191.50,741.87 192.50,741.89 193.50,741.91 C194.50,741.94 195.50,741.99 196.50,742.04 C197.50,742.09 198.50,742.16 199.50,742.24 C200.50,742.32 201.50,742.41 202.50,742.51 C203.50,742.60 204.50,742.72 205.50,742.84 C206.50,742.96 207.50,743.09 208.50,743.22 C209.50,743.36 210.50,743.51 211.50,743.66 C212.50,743.82 213.50,743.98 214.50,744.15 C215.50,744.32 216.50,744.49 217.50,744.67 C218.50,744.85 219.50,745.04 220.50,745.23 C221.50,745.41 222.50,745.60 223.50,745.79 C224.50,745.98 225.50,746.17 226.50,746.35 C227.50,746.53 228.50,746.71 229.50,746.88 C230.50,747.05 231.50,747.22 232.50,747.37 C233.50,747.53 234.50,747.67 235.50,747.80 C236.50,747.93 237.50,748.06 238.50,748.16 C239.50,748.26 240.50,748.35 241.50,748.42 C242.50,748.49 243.50,748.55 244.50,748.59 C245.50,748.63 246.50,748.66 247.50,748.67 C248.50,748.69 249.50,748.70 250.50,748.69 C251.50,748.69 252.50,748.68 253.50,748.66 C254.50,748.64 255.50,748.61 256.50,748.58 C257.50,748.56 258.50,748.52 259.50,748.49 C260.50,748.45 261.50,748.41 262.50,748.38 C263.50,748.34 264.50,748.30 265.50,748.27 C266.50,748.24 267.50,748.21 268.50,748.18 C269.50,748.16 270.50,748.14 271.50,748.13 C272.50,748.12 273.50,748.11 274.50,748.12 C275.50,748.12 276.50,748.14 277.50,748.17 C278.50,748.19 279.50,748.23 280.50,748.29 C281.50,748.35 282.50,748.41 283.50,748.50 C284.50,748.59 286.00,748.76 286.50,748.82" stroke="#2323e2" stroke-width="1.85" fill="none"/>
<path d="M91.50,832.85 C92.00,832.86 93.50,832.93 94.50,832.89 C95.50,832.85 96.50,832.76 97.50,832.62 C98.50,832.48 99.50,832.29 100.50,832.06 C101.50,831.83 102.50,831.55 103.50,831.23 C104.50,830.91 105.50,830.55 106.50,830.15 C107.50,829.75 108.50,829.30 109.50,828.82 C110.50,828.35 111.50,827.83 112.50,827.28 C113.50,826.73 114.50,826.15 115.50,825.54 C116.50,824.92 117.50,824.28 118.50,823.61 C119.50,822.94 120.50,822.23 121.50,821.51 C122.50,820.78 123.50,820.03 124.50,819.26 C125.50,818.49 126.50,817.69 127.50,816.87 C128.50,816.06 129.50,815.22 130.50,814.37 C131.50,813.52 132.50,812.65 133.50,811.77 C134.50,810.89 135.50,810.00 136.50,809.09 C137.50,808.19 138.50,807.27 139.50,806.34 C140.50,805.42 141.50,804.49 142.50,803.55 C143.50,802.61 144.50,801.66 145.50,800.71 C146.50,799.77 147.50,798.81 148.50,797.85 C149.50,796.89 150.50,795.93 151.50,794.97 C152.50,794.01 153.50,793.04 154.50,792.08 C155.50,791.11 156.50,790.15 157.50,789.18 C158.50,788.22 159.50,787.25 160.50,786.30 C161.50,785.34 162.50,784.38 163.50,783.43 C164.50,782.47 165.50,781.53 166.50,780.58 C167.50,779.64 168.50,778.70 169.50,777.78 C170.50,776.85 171.50,775.93 172.50,775.02 C173.50,774.10 174.50,773.20 175.50,772.31 C176.50,771.42 177.50,770.54 178.50,769.67 C179.50,768.80 180.50,767.95 181.50,767.11 C182.50,766.27 183.50,765.44 184.50,764.63 C185.50,763.82 186.50,763.03 187.50,762.25 C188.50,761.48 189.50,760.72 190.50,759.97 C191.50,759.23 192.50,758.50 193.50,757.78 C194.50,757.07 195.50,756.37 196.50,755.69 C197.50,755.01 198.50,754.35 199.50,753.69 C200.50,753.04 201.50,752.41 202.50,751.79 C203.50,751.17 204.50,750.56 205.50,749.97 C206.50,749.38 207.50,748.80 208.50,748.24 C209.50,747.68 210.50,747.13 211.50,746.60 C212.50,746.07 213.50,745.55 214.50,745.04 C215.50,744.54 216.50,744.05 217.50,743.57 C218.50,743.09 219.50,742.63 220.50,742.18 C221.50,741.73 222.50,741.29 223.50,740.87 C224.50,740.45 225.50,740.04 226.50,739.64 C227.50,739.25 228.50,738.86 229.50,738.49 C230.50,738.12 231.50,737.76 232.50,737.42 C233.50,737.07 234.50,736.74 235.50,736.42 C236.50,736.10 237.50,735.79 238.50,735.49 C239.50,735.19 240.50,734.91 241.50,734.64 C242.50,734.36 243.50,734.10 244.50,733.85 C245.50,733.60 246.50,733.36 247.50,733.14 C248.50,732.91 249.50,732.70 250.50,732.49 C251.50,732.29 252.50,732.09 253.50,731.91 C254.50,731.73 255.50,731.56 256.50,731.39 C257.50,731.23 258.50,731.08 259.50,730.94 C260.50,730.80 261.50,730.67 262.50,730.55 C263.50,730.43 264.50,730.32 265.50,730.22 C266.50,730.12 267.50,730.02 268.50,729.94 C269.50,729.86 270.50,729.79 271.50,729.73 C272.50,729.66 273.50,729.61 274.50,729.57 C275.50,729.52 276.50,729.49 277.50,729.46 C278.50,729.43 279.50,729.42 280.50,729.41 C281.50,729.40 282.50,729.40 283.50,729.40 C284.50,729.41 286.00,729.44 286.50,729.45" stroke="#2323e2" stroke-width="1.85" fill="none"/>
</g>
<g clip-path="url(#cr1)" stroke-linejoin="round" stroke-linecap="round">
<path d="M480.00,368.44 C480.50,368.71 482.00,369.44 483.00,370.03 C484.00,370.61 485.00,371.27 486.00,371.96 C487.00,372.66 488.00,373.41 489.00,374.19 C490.00,374.98 491.00,375.82 492.00,376.68 C493.00,377.53 494.00,378.44 495.00,379.35 C496.00,380.27 497.00,381.22 498.00,382.17 C499.00,383.13 500.00,384.11 501.00,385.08 C502.00,386.06 503.00,387.05 504.00,388.04 C505.00,389.02 506.00,390.01 507.00,390.98 C508.00,391.96 509.00,392.93 510.00,393.89 C511.00,394.85 512.00,395.80 513.00,396.73 C514.00,397.66 515.00,398.59 516.00,399.49 C517.00,400.39 518.00,401.27 519.00,402.13 C520.00,402.99 521.00,403.83 522.00,404.65 C523.00,405.46 524.00,406.25 525.00,407.00 C526.00,407.75 527.00,408.48 528.00,409.17 C529.00,409.86 530.00,410.52 531.00,411.14 C532.00,411.76 533.00,412.34 534.00,412.88 C535.00,413.42 536.00,413.93 537.00,414.39 C538.00,414.85 539.00,415.27 540.00,415.65 C541.00,416.03 542.00,416.37 543.00,416.67 C544.00,416.97 545.00,417.22 546.00,417.43 C547.00,417.64 548.00,417.80 549.00,417.92 C550.00,418.04 551.00,418.12 552.00,418.14 C553.00,418.17 554.00,418.15 555.00,418.09 C556.00,418.02 557.00,417.90 558.00,417.74 C559.00,417.57 560.00,417.36 561.00,417.10 C562.00,416.83 563.00,416.52 564.00,416.15 C565.00,415.78 566.00,415.37 567.00,414.90 C568.00,414.43 569.00,413.90 570.00,413.33 C571.00,412.76 572.00,412.14 573.00,411.48 C574.00,410.81 575.00,410.10 576.00,409.36 C577.00,408.61 578.00,407.82 579.00,406.99 C580.00,406.17 581.00,405.31 582.00,404.41 C583.00,403.52 584.00,402.59 585.00,401.64 C586.00,400.68 587.00,399.70 588.00,398.69 C589.00,397.68 590.00,396.65 591.00,395.60 C592.00,394.54 593.00,393.47 594.00,392.38 C595.00,391.29 596.00,390.18 597.00,389.06 C598.00,387.94 599.00,386.80 600.00,385.66 C601.00,384.52 602.00,383.36 603.00,382.20 C604.00,381.05 605.00,379.88 606.00,378.72 C607.00,377.56 608.00,376.39 609.00,375.23 C610.00,374.07 611.00,372.91 612.00,371.76 C613.00,370.60 614.00,369.46 615.00,368.32 C616.00,367.18 617.00,366.06 618.00,364.94 C619.00,363.82 620.00,362.72 621.00,361.62 C622.00,360.53 623.00,359.45 624.00,358.38 C625.00,357.31 626.00,356.26 627.00,355.22 C628.00,354.18 629.00,353.15 630.00,352.14 C631.00,351.14 632.00,350.14 633.00,349.17 C634.00,348.20 635.00,347.24 636.00,346.30 C637.00,345.37 638.00,344.45 639.00,343.55 C640.00,342.65 641.00,341.78 642.00,340.92 C643.00,340.07 644.00,339.24 645.00,338.43 C646.00,337.62 647.00,336.83 648.00,336.07 C649.00,335.31 650.00,334.58 651.00,333.87 C652.00,333.16 653.42,332.22 654.00,331.82 C654.58,331.43 654.42,331.55 654.50,331.50" stroke="#2323e2" stroke-width="2.1" fill="none"/>
<path d="M480.00,410.44 C480.50,410.81 482.00,411.87 483.00,412.63 C484.00,413.39 485.00,414.19 486.00,415.02 C487.00,415.84 488.00,416.70 489.00,417.57 C490.00,418.45 491.00,419.35 492.00,420.26 C493.00,421.17 494.00,422.11 495.00,423.05 C496.00,423.99 497.00,424.95 498.00,425.91 C499.00,426.87 500.00,427.84 501.00,428.80 C502.00,429.77 503.00,430.74 504.00,431.70 C505.00,432.66 506.00,433.63 507.00,434.57 C508.00,435.52 509.00,436.46 510.00,437.38 C511.00,438.30 512.00,439.21 513.00,440.09 C514.00,440.97 515.00,441.84 516.00,442.68 C517.00,443.51 518.00,444.32 519.00,445.10 C520.00,445.88 521.00,446.62 522.00,447.33 C523.00,448.04 524.00,448.71 525.00,449.34 C526.00,449.96 527.00,450.55 528.00,451.08 C529.00,451.62 530.00,452.11 531.00,452.54 C532.00,452.97 533.00,453.35 534.00,453.67 C535.00,454.00 536.00,454.27 537.00,454.49 C538.00,454.71 539.00,454.87 540.00,454.98 C541.00,455.10 542.00,455.16 543.00,455.17 C544.00,455.17 545.00,455.13 546.00,455.04 C547.00,454.94 548.00,454.79 549.00,454.60 C550.00,454.40 551.00,454.15 552.00,453.86 C553.00,453.56 554.00,453.21 555.00,452.82 C556.00,452.42 557.00,451.97 558.00,451.48 C559.00,450.98 560.00,450.44 561.00,449.85 C562.00,449.26 563.00,448.62 564.00,447.93 C565.00,447.24 566.00,446.50 567.00,445.72 C568.00,444.94 569.00,444.11 570.00,443.23 C571.00,442.36 572.00,441.44 573.00,440.47 C574.00,439.50 575.00,438.48 576.00,437.43 C577.00,436.37 578.00,435.27 579.00,434.13 C580.00,432.99 581.00,431.81 582.00,430.59 C583.00,429.38 584.00,428.12 585.00,426.84 C586.00,425.55 587.00,424.23 588.00,422.88 C589.00,421.53 590.00,420.15 591.00,418.75 C592.00,417.35 593.00,415.92 594.00,414.48 C595.00,413.04 596.00,411.57 597.00,410.11 C598.00,408.64 599.00,407.15 600.00,405.67 C601.00,404.18 602.00,402.69 603.00,401.20 C604.00,399.71 605.00,398.21 606.00,396.73 C607.00,395.25 608.00,393.77 609.00,392.30 C610.00,390.84 611.00,389.38 612.00,387.94 C613.00,386.50 614.00,385.08 615.00,383.68 C616.00,382.28 617.00,380.90 618.00,379.55 C619.00,378.19 620.00,376.87 621.00,375.57 C622.00,374.28 623.00,373.02 624.00,371.80 C625.00,370.57 626.00,369.38 627.00,368.22 C628.00,367.07 629.00,365.95 630.00,364.87 C631.00,363.78 632.00,362.74 633.00,361.73 C634.00,360.72 635.00,359.75 636.00,358.81 C637.00,357.88 638.00,356.98 639.00,356.13 C640.00,355.27 641.00,354.45 642.00,353.67 C643.00,352.89 644.00,352.15 645.00,351.45 C646.00,350.75 647.00,350.10 648.00,349.48 C649.00,348.86 650.00,348.28 651.00,347.75 C652.00,347.22 653.00,346.72 654.00,346.28 C655.00,345.83 656.00,345.42 657.00,345.06 C658.00,344.69 659.00,344.37 660.00,344.10 C661.00,343.82 662.00,343.59 663.00,343.41 C664.00,343.22 665.00,343.08 666.00,342.99 C667.00,342.90 668.00,342.85 669.00,342.85 C670.00,342.84 671.00,342.89 672.00,342.98 C673.00,343.08 674.50,343.34 675.00,343.41" stroke="#2323e2" stroke-width="2.4" fill="none"/>
<path d="M480.00,531.08 C480.50,531.11 482.00,531.18 483.00,531.23 C484.00,531.27 485.00,531.32 486.00,531.36 C487.00,531.40 488.00,531.44 489.00,531.48 C490.00,531.52 491.00,531.55 492.00,531.59 C493.00,531.62 494.00,531.65 495.00,531.68 C496.00,531.71 497.00,531.74 498.00,531.76 C499.00,531.79 500.00,531.81 501.00,531.84 C502.00,531.86 503.00,531.88 504.00,531.89 C505.00,531.91 506.00,531.93 507.00,531.94 C508.00,531.96 509.00,531.97 510.00,531.98 C511.00,531.99 512.00,532.00 513.00,532.00 C514.00,532.01 515.00,532.01 516.00,532.02 C517.00,532.02 518.00,532.02 519.00,532.02 C520.00,532.02 521.00,532.01 522.00,532.01 C523.00,532.00 524.00,532.00 525.00,531.99 C526.00,531.98 527.00,531.97 528.00,531.96 C529.00,531.94 530.00,531.93 531.00,531.91 C532.00,531.90 533.00,531.88 534.00,531.86 C535.00,531.84 536.00,531.82 537.00,531.80 C538.00,531.78 539.00,531.75 540.00,531.72 C541.00,531.70 542.00,531.67 543.00,531.64 C544.00,531.61 545.00,531.58 546.00,531.54 C547.00,531.51 548.00,531.47 549.00,531.44 C550.00,531.40 551.00,531.36 552.00,531.32 C553.00,531.28 554.00,531.24 555.00,531.20 C556.00,531.15 557.00,531.11 558.00,531.06 C559.00,531.01 560.00,530.96 561.00,530.91 C562.00,530.86 563.00,530.81 564.00,530.76 C565.00,530.71 566.00,530.65 567.00,530.59 C568.00,530.54 569.00,530.48 570.00,530.42 C571.00,530.36 572.00,530.30 573.00,530.23 C574.00,530.17 575.00,530.11 576.00,530.04 C577.00,529.97 578.00,529.91 579.00,529.84 C580.00,529.77 581.00,529.70 582.00,529.62 C583.00,529.55 584.00,529.48 585.00,529.40 C586.00,529.33 587.00,529.25 588.00,529.17 C589.00,529.09 590.00,529.01 591.00,528.93 C592.00,528.85 593.00,528.77 594.00,528.69 C595.00,528.60 596.00,528.52 597.00,528.43 C598.00,528.35 599.00,528.26 600.00,528.17 C601.00,528.09 602.00,528.00 603.00,527.91 C604.00,527.82 605.00,527.73 606.00,527.64 C607.00,527.55 608.00,527.46 609.00,527.37 C610.00,527.28 611.00,527.19 612.00,527.10 C613.00,527.00 614.00,526.91 615.00,526.82 C616.00,526.73 617.00,526.63 618.00,526.54 C619.00,526.45 620.00,526.36 621.00,526.26 C622.00,526.17 623.00,526.08 624.00,525.99 C625.00,525.89 626.00,525.80 627.00,525.71 C628.00,525.62 629.00,525.53 630.00,525.44 C631.00,525.35 632.00,525.26 633.00,525.17 C634.00,525.08 635.00,524.99 636.00,524.90 C637.00,524.81 638.00,524.73 639.00,524.64 C640.00,524.55 641.00,524.47 642.00,524.38 C643.00,524.30 644.00,524.22 645.00,524.13 C646.00,524.05 647.00,523.97 648.00,523.89 C649.00,523.81 650.00,523.73 651.00,523.66 C652.00,523.58 653.00,523.50 654.00,523.43 C655.00,523.36 656.00,523.29 657.00,523.21 C658.00,523.14 659.00,523.08 660.00,523.01 C661.00,522.94 662.00,522.88 663.00,522.81 C664.00,522.75 665.00,522.69 666.00,522.63 C667.00,522.57 668.00,522.52 669.00,522.46 C670.00,522.41 671.00,522.36 672.00,522.31 C673.00,522.26 674.50,522.19 675.00,522.16" stroke="#ec2c2c" stroke-width="1.85" fill="none"/>
<path d="M480.00,619.16 C480.50,619.16 482.00,619.22 483.00,619.19 C484.00,619.17 485.00,619.11 486.00,619.02 C487.00,618.93 488.00,618.80 489.00,618.64 C490.00,618.48 491.00,618.29 492.00,618.07 C493.00,617.85 494.00,617.60 495.00,617.32 C496.00,617.05 497.00,616.74 498.00,616.41 C499.00,616.07 500.00,615.71 501.00,615.33 C502.00,614.94 503.00,614.53 504.00,614.10 C505.00,613.67 506.00,613.21 507.00,612.73 C508.00,612.26 509.00,611.76 510.00,611.24 C511.00,610.72 512.00,610.18 513.00,609.63 C514.00,609.07 515.00,608.50 516.00,607.91 C517.00,607.32 518.00,606.71 519.00,606.09 C520.00,605.47 521.00,604.84 522.00,604.19 C523.00,603.54 524.00,602.88 525.00,602.21 C526.00,601.54 527.00,600.86 528.00,600.17 C529.00,599.48 530.00,598.77 531.00,598.07 C532.00,597.36 533.00,596.64 534.00,595.92 C535.00,595.20 536.00,594.47 537.00,593.74 C538.00,593.01 539.00,592.28 540.00,591.54 C541.00,590.80 542.00,590.06 543.00,589.32 C544.00,588.58 545.00,587.84 546.00,587.10 C547.00,586.37 548.00,585.63 549.00,584.89 C550.00,584.16 551.00,583.43 552.00,582.70 C553.00,581.97 554.00,581.25 555.00,580.53 C556.00,579.82 557.00,579.11 558.00,578.41 C559.00,577.71 560.00,577.01 561.00,576.33 C562.00,575.65 563.00,574.97 564.00,574.31 C565.00,573.65 566.00,573.00 567.00,572.36 C568.00,571.73 569.00,571.10 570.00,570.49 C571.00,569.89 572.00,569.29 573.00,568.71 C574.00,568.13 575.00,567.57 576.00,567.02 C577.00,566.47 578.00,565.93 579.00,565.41 C580.00,564.88 581.00,564.37 582.00,563.88 C583.00,563.38 584.00,562.90 585.00,562.43 C586.00,561.96 587.00,561.50 588.00,561.05 C589.00,560.61 590.00,560.18 591.00,559.76 C592.00,559.34 593.00,558.93 594.00,558.53 C595.00,558.14 596.00,557.75 597.00,557.38 C598.00,557.01 599.00,556.65 600.00,556.30 C601.00,555.95 602.00,555.61 603.00,555.29 C604.00,554.96 605.00,554.64 606.00,554.34 C607.00,554.03 608.00,553.74 609.00,553.45 C610.00,553.17 611.00,552.89 612.00,552.63 C613.00,552.36 614.00,552.11 615.00,551.86 C616.00,551.62 617.00,551.38 618.00,551.16 C619.00,550.93 620.00,550.71 621.00,550.50 C622.00,550.30 623.00,550.10 624.00,549.91 C625.00,549.72 626.00,549.54 627.00,549.36 C628.00,549.19 629.00,549.02 630.00,548.86 C631.00,548.71 632.00,548.56 633.00,548.42 C634.00,548.27 635.00,548.14 636.00,548.01 C637.00,547.89 638.00,547.77 639.00,547.65 C640.00,547.54 641.00,547.43 642.00,547.34 C643.00,547.24 644.00,547.14 645.00,547.06 C646.00,546.97 647.00,546.89 648.00,546.82 C649.00,546.74 650.00,546.67 651.00,546.61 C652.00,546.55 653.00,546.49 654.00,546.44 C655.00,546.39 656.00,546.34 657.00,546.30 C658.00,546.26 659.00,546.22 660.00,546.19 C661.00,546.15 662.00,546.13 663.00,546.10 C664.00,546.08 665.00,546.06 666.00,546.05 C667.00,546.03 668.00,546.02 669.00,546.01 C670.00,546.00 671.00,546.00 672.00,546.00 C673.00,546.00 674.50,546.01 675.00,546.01" stroke="#ec2c2c" stroke-width="1.85" fill="none"/>
<path d="M480.00,706.77 C480.50,706.74 482.00,706.69 483.00,706.59 C484.00,706.48 485.00,706.34 486.00,706.14 C487.00,705.95 488.00,705.72 489.00,705.44 C490.00,705.16 491.00,704.83 492.00,704.47 C493.00,704.10 494.00,703.69 495.00,703.24 C496.00,702.79 497.00,702.29 498.00,701.75 C499.00,701.22 500.00,700.64 501.00,700.02 C502.00,699.39 503.00,698.73 504.00,698.03 C505.00,697.32 506.00,696.57 507.00,695.79 C508.00,695.00 509.00,694.17 510.00,693.30 C511.00,692.43 512.00,691.52 513.00,690.57 C514.00,689.62 515.00,688.63 516.00,687.60 C517.00,686.58 518.00,685.51 519.00,684.43 C520.00,683.34 521.00,682.23 522.00,681.09 C523.00,679.96 524.00,678.80 525.00,677.64 C526.00,676.48 527.00,675.29 528.00,674.11 C529.00,672.93 530.00,671.74 531.00,670.55 C532.00,669.37 533.00,668.18 534.00,667.00 C535.00,665.83 536.00,664.66 537.00,663.50 C538.00,662.35 539.00,661.20 540.00,660.06 C541.00,658.93 542.00,657.80 543.00,656.69 C544.00,655.57 545.00,654.47 546.00,653.38 C547.00,652.29 548.00,651.21 549.00,650.15 C550.00,649.08 551.00,648.03 552.00,646.99 C553.00,645.96 554.00,644.93 555.00,643.92 C556.00,642.91 557.00,641.91 558.00,640.93 C559.00,639.95 560.00,638.99 561.00,638.04 C562.00,637.09 563.00,636.16 564.00,635.24 C565.00,634.32 566.00,633.42 567.00,632.54 C568.00,631.66 569.00,630.79 570.00,629.94 C571.00,629.10 572.00,628.27 573.00,627.46 C574.00,626.65 575.00,625.86 576.00,625.09 C577.00,624.31 578.00,623.56 579.00,622.83 C580.00,622.10 581.00,621.39 582.00,620.70 C583.00,620.01 584.00,619.34 585.00,618.69 C586.00,618.04 587.00,617.41 588.00,616.80 C589.00,616.19 590.00,615.60 591.00,615.02 C592.00,614.45 593.00,613.89 594.00,613.35 C595.00,612.81 596.00,612.29 597.00,611.78 C598.00,611.27 599.00,610.78 600.00,610.31 C601.00,609.83 602.00,609.37 603.00,608.92 C604.00,608.48 605.00,608.04 606.00,607.62 C607.00,607.20 608.00,606.80 609.00,606.40 C610.00,606.01 611.00,605.63 612.00,605.26 C613.00,604.88 614.00,604.53 615.00,604.18 C616.00,603.83 617.00,603.49 618.00,603.16 C619.00,602.83 620.00,602.51 621.00,602.19 C622.00,601.88 623.00,601.58 624.00,601.28 C625.00,600.99 626.00,600.70 627.00,600.42 C628.00,600.13 629.00,599.86 630.00,599.59 C631.00,599.32 632.00,599.06 633.00,598.80 C634.00,598.55 635.00,598.30 636.00,598.06 C637.00,597.82 638.00,597.59 639.00,597.37 C640.00,597.14 641.00,596.93 642.00,596.72 C643.00,596.51 644.00,596.31 645.00,596.12 C646.00,595.93 647.00,595.75 648.00,595.58 C649.00,595.41 650.00,595.25 651.00,595.09 C652.00,594.94 653.00,594.80 654.00,594.66 C655.00,594.53 656.00,594.41 657.00,594.29 C658.00,594.18 659.00,594.08 660.00,593.99 C661.00,593.90 662.00,593.82 663.00,593.75 C664.00,593.68 665.00,593.62 666.00,593.57 C667.00,593.53 668.00,593.49 669.00,593.47 C670.00,593.45 671.00,593.44 672.00,593.44 C673.00,593.44 674.50,593.48 675.00,593.49" stroke="#ec2c2c" stroke-width="1.85" fill="none"/>
<path d="M480.00,618.35 C480.50,618.35 482.00,618.37 483.00,618.38 C484.00,618.38 485.00,618.39 486.00,618.40 C487.00,618.41 488.00,618.41 489.00,618.42 C490.00,618.43 491.00,618.43 492.00,618.44 C493.00,618.44 494.00,618.44 495.00,618.45 C496.00,618.45 497.00,618.46 498.00,618.46 C499.00,618.46 500.00,618.47 501.00,618.47 C502.00,618.47 503.00,618.47 504.00,618.48 C505.00,618.48 506.00,618.48 507.00,618.48 C508.00,618.48 509.00,618.48 510.00,618.48 C511.00,618.49 512.00,618.49 513.00,618.49 C514.00,618.49 515.00,618.49 516.00,618.49 C517.00,618.49 518.00,618.49 519.00,618.49 C520.00,618.50 521.00,618.50 522.00,618.50 C523.00,618.50 524.00,618.51 525.00,618.51 C526.00,618.52 527.00,618.53 528.00,618.55 C529.00,618.56 530.00,618.58 531.00,618.61 C532.00,618.63 533.00,618.66 534.00,618.70 C535.00,618.74 536.00,618.78 537.00,618.84 C538.00,618.89 539.00,618.95 540.00,619.02 C541.00,619.09 542.00,619.17 543.00,619.27 C544.00,619.36 545.00,619.47 546.00,619.57 C547.00,619.67 548.00,619.77 549.00,619.86 C550.00,619.96 551.00,620.05 552.00,620.13 C553.00,620.22 554.00,620.30 555.00,620.38 C556.00,620.46 557.00,620.53 558.00,620.60 C559.00,620.67 560.00,620.74 561.00,620.80 C562.00,620.87 563.00,620.93 564.00,620.99 C565.00,621.05 566.00,621.11 567.00,621.16 C568.00,621.22 569.00,621.27 570.00,621.32 C571.00,621.37 572.00,621.42 573.00,621.46 C574.00,621.51 575.00,621.55 576.00,621.60 C577.00,621.64 578.00,621.68 579.00,621.72 C580.00,621.76 581.00,621.79 582.00,621.83 C583.00,621.87 584.00,621.90 585.00,621.93 C586.00,621.96 587.00,621.99 588.00,622.02 C589.00,622.05 590.00,622.07 591.00,622.09 C592.00,622.11 593.00,622.13 594.00,622.14 C595.00,622.16 596.00,622.17 597.00,622.17 C598.00,622.18 599.00,622.18 600.00,622.18 C601.00,622.18 602.00,622.17 603.00,622.16 C604.00,622.15 605.00,622.13 606.00,622.11 C607.00,622.09 608.00,622.06 609.00,622.03 C610.00,621.99 611.00,621.95 612.00,621.91 C613.00,621.86 614.00,621.81 615.00,621.75 C616.00,621.69 617.00,621.62 618.00,621.55 C619.00,621.48 620.00,621.40 621.00,621.33 C622.00,621.26 623.00,621.20 624.00,621.14 C625.00,621.08 626.00,621.04 627.00,621.00 C628.00,620.96 629.00,620.92 630.00,620.89 C631.00,620.87 632.00,620.84 633.00,620.83 C634.00,620.81 635.00,620.80 636.00,620.79 C637.00,620.78 638.00,620.78 639.00,620.78 C640.00,620.77 641.00,620.78 642.00,620.78 C643.00,620.79 644.00,620.79 645.00,620.80 C646.00,620.81 647.00,620.82 648.00,620.83 C649.00,620.85 650.00,620.86 651.00,620.87 C652.00,620.89 653.00,620.90 654.00,620.92 C655.00,620.93 656.00,620.95 657.00,620.96 C658.00,620.98 659.00,620.99 660.00,621.00 C661.00,621.02 662.00,621.03 663.00,621.04 C664.00,621.05 665.00,621.06 666.00,621.07 C667.00,621.07 668.00,621.08 669.00,621.08 C670.00,621.08 671.00,621.08 672.00,621.07 C673.00,621.07 674.50,621.05 675.00,621.05" stroke="#2323e2" stroke-width="1.85" fill="none"/>
<path d="M480.00,681.08 C480.50,681.11 482.00,681.23 483.00,681.26 C484.00,681.29 485.00,681.29 486.00,681.26 C487.00,681.24 488.00,681.18 489.00,681.11 C490.00,681.03 491.00,680.93 492.00,680.81 C493.00,680.68 494.00,680.54 495.00,680.37 C496.00,680.20 497.00,680.01 498.00,679.81 C499.00,679.60 500.00,679.37 501.00,679.13 C502.00,678.88 503.00,678.62 504.00,678.35 C505.00,678.07 506.00,677.78 507.00,677.47 C508.00,677.17 509.00,676.85 510.00,676.52 C511.00,676.19 512.00,675.84 513.00,675.49 C514.00,675.14 515.00,674.78 516.00,674.41 C517.00,674.04 518.00,673.66 519.00,673.27 C520.00,672.89 521.00,672.49 522.00,672.10 C523.00,671.70 524.00,671.30 525.00,670.90 C526.00,670.50 527.00,670.09 528.00,669.68 C529.00,669.28 530.00,668.87 531.00,668.46 C532.00,668.05 533.00,667.65 534.00,667.24 C535.00,666.84 536.00,666.44 537.00,666.04 C538.00,665.65 539.00,665.26 540.00,664.87 C541.00,664.49 542.00,664.11 543.00,663.74 C544.00,663.37 545.00,663.00 546.00,662.65 C547.00,662.30 548.00,661.96 549.00,661.63 C550.00,661.30 551.00,660.98 552.00,660.67 C553.00,660.37 554.00,660.08 555.00,659.80 C556.00,659.53 557.00,659.27 558.00,659.02 C559.00,658.78 560.00,658.56 561.00,658.35 C562.00,658.14 563.00,657.96 564.00,657.79 C565.00,657.62 566.00,657.47 567.00,657.34 C568.00,657.21 569.00,657.09 570.00,657.00 C571.00,656.90 572.00,656.82 573.00,656.76 C574.00,656.70 575.00,656.65 576.00,656.62 C577.00,656.58 578.00,656.57 579.00,656.56 C580.00,656.56 581.00,656.57 582.00,656.60 C583.00,656.62 584.00,656.66 585.00,656.71 C586.00,656.76 587.00,656.82 588.00,656.90 C589.00,656.97 590.00,657.05 591.00,657.15 C592.00,657.25 593.00,657.35 594.00,657.47 C595.00,657.58 596.00,657.71 597.00,657.84 C598.00,657.98 599.00,658.12 600.00,658.27 C601.00,658.42 602.00,658.58 603.00,658.74 C604.00,658.91 605.00,659.08 606.00,659.26 C607.00,659.43 608.00,659.62 609.00,659.80 C610.00,659.98 611.00,660.17 612.00,660.35 C613.00,660.53 614.00,660.72 615.00,660.89 C616.00,661.07 617.00,661.25 618.00,661.41 C619.00,661.58 620.00,661.74 621.00,661.89 C622.00,662.04 623.00,662.19 624.00,662.31 C625.00,662.44 626.00,662.56 627.00,662.66 C628.00,662.75 629.00,662.84 630.00,662.91 C631.00,662.97 632.00,663.02 633.00,663.06 C634.00,663.10 635.00,663.12 636.00,663.13 C637.00,663.15 638.00,663.15 639.00,663.14 C640.00,663.13 641.00,663.12 642.00,663.09 C643.00,663.07 644.00,663.04 645.00,663.01 C646.00,662.97 647.00,662.94 648.00,662.90 C649.00,662.86 650.00,662.82 651.00,662.78 C652.00,662.74 653.00,662.69 654.00,662.66 C655.00,662.62 656.00,662.59 657.00,662.56 C658.00,662.53 659.00,662.50 660.00,662.49 C661.00,662.47 662.00,662.46 663.00,662.47 C664.00,662.47 665.00,662.48 666.00,662.50 C667.00,662.53 668.00,662.56 669.00,662.61 C670.00,662.67 671.00,662.73 672.00,662.81 C673.00,662.90 674.50,663.07 675.00,663.12" stroke="#2323e2" stroke-width="1.85" fill="none"/>
<path d="M480.00,748.75 C480.50,748.76 482.00,748.84 483.00,748.81 C484.00,748.77 485.00,748.68 486.00,748.55 C487.00,748.42 488.00,748.24 489.00,748.01 C490.00,747.78 491.00,747.51 492.00,747.19 C493.00,746.88 494.00,746.52 495.00,746.12 C496.00,745.73 497.00,745.29 498.00,744.82 C499.00,744.34 500.00,743.83 501.00,743.29 C502.00,742.75 503.00,742.17 504.00,741.56 C505.00,740.95 506.00,740.31 507.00,739.65 C508.00,738.98 509.00,738.28 510.00,737.56 C511.00,736.84 512.00,736.09 513.00,735.33 C514.00,734.56 515.00,733.77 516.00,732.96 C517.00,732.15 518.00,731.32 519.00,730.47 C520.00,729.63 521.00,728.76 522.00,727.89 C523.00,727.01 524.00,726.12 525.00,725.22 C526.00,724.32 527.00,723.41 528.00,722.49 C529.00,721.57 530.00,720.64 531.00,719.71 C532.00,718.78 533.00,717.84 534.00,716.89 C535.00,715.95 536.00,715.00 537.00,714.04 C538.00,713.09 539.00,712.13 540.00,711.18 C541.00,710.22 542.00,709.26 543.00,708.30 C544.00,707.34 545.00,706.38 546.00,705.42 C547.00,704.46 548.00,703.50 549.00,702.55 C550.00,701.59 551.00,700.64 552.00,699.70 C553.00,698.75 554.00,697.80 555.00,696.87 C556.00,695.93 557.00,695.00 558.00,694.08 C559.00,693.15 560.00,692.24 561.00,691.33 C562.00,690.42 563.00,689.53 564.00,688.64 C565.00,687.76 566.00,686.88 567.00,686.02 C568.00,685.16 569.00,684.31 570.00,683.47 C571.00,682.64 572.00,681.81 573.00,681.01 C574.00,680.21 575.00,679.42 576.00,678.65 C577.00,677.87 578.00,677.12 579.00,676.38 C580.00,675.64 581.00,674.92 582.00,674.21 C583.00,673.50 584.00,672.81 585.00,672.13 C586.00,671.45 587.00,670.79 588.00,670.15 C589.00,669.50 590.00,668.87 591.00,668.26 C592.00,667.64 593.00,667.04 594.00,666.45 C595.00,665.87 596.00,665.30 597.00,664.74 C598.00,664.18 599.00,663.64 600.00,663.11 C601.00,662.59 602.00,662.07 603.00,661.57 C604.00,661.07 605.00,660.59 606.00,660.12 C607.00,659.64 608.00,659.19 609.00,658.74 C610.00,658.30 611.00,657.87 612.00,657.45 C613.00,657.03 614.00,656.63 615.00,656.23 C616.00,655.84 617.00,655.46 618.00,655.10 C619.00,654.73 620.00,654.38 621.00,654.04 C622.00,653.70 623.00,653.37 624.00,653.05 C625.00,652.74 626.00,652.44 627.00,652.14 C628.00,651.85 629.00,651.57 630.00,651.31 C631.00,651.04 632.00,650.78 633.00,650.54 C634.00,650.29 635.00,650.06 636.00,649.84 C637.00,649.62 638.00,649.41 639.00,649.21 C640.00,649.01 641.00,648.82 642.00,648.64 C643.00,648.46 644.00,648.30 645.00,648.14 C646.00,647.98 647.00,647.84 648.00,647.70 C649.00,647.57 650.00,647.44 651.00,647.33 C652.00,647.21 653.00,647.10 654.00,647.01 C655.00,646.91 656.00,646.83 657.00,646.75 C658.00,646.67 659.00,646.61 660.00,646.55 C661.00,646.49 662.00,646.44 663.00,646.40 C664.00,646.37 665.00,646.34 666.00,646.31 C667.00,646.29 668.00,646.28 669.00,646.27 C670.00,646.27 671.00,646.27 672.00,646.29 C673.00,646.30 674.50,646.34 675.00,646.35" stroke="#2323e2" stroke-width="1.85" fill="none"/>
</g>
<g clip-path="url(#cm1)" fill="none" stroke-linejoin="round">
<path d="M383.20,432.00 L383.20,459.00" stroke="#ec2c2c" stroke-width="1.85"/>
<path d="M383.20,595.50 L381.60,595.70 L365.50,597.70 L352.70,599.60 L335.00,601.70 L321.30,604.40 L339.80,607.30 L362.30,609.20 L381.60,612.90 L383.20,613.00" stroke="#ec2c2c" stroke-width="1.85"/>
<path d="M383.20,623.50 L381.60,623.70 L372.00,629.80 L354.30,633.80 L336.60,638.60 L331.80,644.20 L331.80,660.30 L333.40,662.70 L314.10,667.50 L300.50,671.90 L314.10,676.40 L323.00,680.40 L324.60,689.20 L326.20,696.90 L330.00,698.80 L337.00,704.00 L345.80,707.50 L365.00,710.70 L381.70,713.70" stroke="#ec2c2c" stroke-width="1.85"/>
<path d="M383.20,723.50 L383.20,757.00" stroke="#ec2c2c" stroke-width="1.85"/>
<path d="M383.20,459.00 L479.00,448.00" stroke="#2323e2" stroke-width="1.9"/>
<path d="M383.20,459.00 L383.20,723.80 L391.30,725.90 L410.60,732.00 L424.60,739.00 L431.60,743.40 L436.00,748.70 L424.60,750.40 L405.30,753.10 L387.80,756.60 L383.20,757.40 L383.20,852.60" stroke="#2323e2" stroke-width="1.9"/>
</g>
<g clip-path="url(#cl2)" stroke-linejoin="round" stroke-linecap="round">
<path d="M91.50,891.49 C92.00,891.75 93.50,892.48 94.50,893.06 C95.50,893.64 96.50,894.29 97.50,894.98 C98.50,895.67 99.50,896.42 100.50,897.20 C101.50,897.98 102.50,898.81 103.50,899.66 C104.50,900.52 105.50,901.41 106.50,902.32 C107.50,903.24 108.50,904.18 109.50,905.13 C110.50,906.08 111.50,907.05 112.50,908.03 C113.50,909.00 114.50,909.99 115.50,910.96 C116.50,911.94 117.50,912.92 118.50,913.89 C119.50,914.86 120.50,915.83 121.50,916.78 C122.50,917.74 123.50,918.68 124.50,919.61 C125.50,920.54 126.50,921.46 127.50,922.35 C128.50,923.25 129.50,924.13 130.50,924.98 C131.50,925.84 132.50,926.67 133.50,927.48 C134.50,928.29 135.50,929.07 136.50,929.82 C137.50,930.57 138.50,931.29 139.50,931.98 C140.50,932.66 141.50,933.31 142.50,933.93 C143.50,934.54 144.50,935.12 145.50,935.65 C146.50,936.19 147.50,936.69 148.50,937.15 C149.50,937.60 150.50,938.02 151.50,938.40 C152.50,938.77 153.50,939.11 154.50,939.40 C155.50,939.69 156.50,939.94 157.50,940.14 C158.50,940.34 159.50,940.50 160.50,940.62 C161.50,940.73 162.50,940.80 163.50,940.82 C164.50,940.85 165.50,940.82 166.50,940.75 C167.50,940.68 168.50,940.56 169.50,940.39 C170.50,940.22 171.50,940.00 172.50,939.73 C173.50,939.46 174.50,939.14 175.50,938.77 C176.50,938.40 177.50,937.98 178.50,937.50 C179.50,937.02 180.50,936.49 181.50,935.92 C182.50,935.34 183.50,934.72 184.50,934.05 C185.50,933.38 186.50,932.67 187.50,931.91 C188.50,931.16 189.50,930.37 190.50,929.54 C191.50,928.71 192.50,927.84 193.50,926.94 C194.50,926.04 195.50,925.11 196.50,924.15 C197.50,923.19 198.50,922.20 199.50,921.19 C200.50,920.18 201.50,919.13 202.50,918.08 C203.50,917.02 204.50,915.94 205.50,914.84 C206.50,913.75 207.50,912.63 208.50,911.51 C209.50,910.38 210.50,909.24 211.50,908.09 C212.50,906.95 213.50,905.79 214.50,904.62 C215.50,903.46 216.50,902.29 217.50,901.12 C218.50,899.96 219.50,898.78 220.50,897.62 C221.50,896.45 222.50,895.29 223.50,894.13 C224.50,892.97 225.50,891.82 226.50,890.68 C227.50,889.54 228.50,888.40 229.50,887.28 C230.50,886.16 231.50,885.05 232.50,883.95 C233.50,882.85 234.50,881.76 235.50,880.69 C236.50,879.62 237.50,878.56 238.50,877.51 C239.50,876.47 240.50,875.44 241.50,874.42 C242.50,873.41 243.50,872.41 244.50,871.44 C245.50,870.46 246.50,869.49 247.50,868.55 C248.50,867.61 249.50,866.69 250.50,865.79 C251.50,864.88 252.50,864.00 253.50,863.14 C254.50,862.28 255.50,861.44 256.50,860.63 C257.50,859.82 258.50,859.03 259.50,858.26 C260.50,857.50 261.50,856.76 262.50,856.04 C263.50,855.33 264.92,854.38 265.50,853.98 C266.08,853.58 265.92,853.71 266.00,853.65" stroke="#ec2c2c" stroke-width="1.9" fill="none"/>
<path d="M91.50,933.49 C92.00,933.86 93.50,934.91 94.50,935.67 C95.50,936.42 96.50,937.22 97.50,938.04 C98.50,938.86 99.50,939.71 100.50,940.58 C101.50,941.44 102.50,942.34 103.50,943.25 C104.50,944.16 105.50,945.09 106.50,946.02 C107.50,946.96 108.50,947.91 109.50,948.87 C110.50,949.82 111.50,950.79 112.50,951.75 C113.50,952.71 114.50,953.67 115.50,954.63 C116.50,955.59 117.50,956.54 118.50,957.48 C119.50,958.42 120.50,959.36 121.50,960.28 C122.50,961.19 123.50,962.09 124.50,962.97 C125.50,963.85 126.50,964.71 127.50,965.54 C128.50,966.37 129.50,967.18 130.50,967.95 C131.50,968.72 132.50,969.46 133.50,970.17 C134.50,970.87 135.50,971.53 136.50,972.15 C137.50,972.77 138.50,973.36 139.50,973.89 C140.50,974.41 141.50,974.90 142.50,975.33 C143.50,975.75 144.50,976.13 145.50,976.45 C146.50,976.77 147.50,977.03 148.50,977.25 C149.50,977.46 150.50,977.62 151.50,977.73 C152.50,977.83 153.50,977.89 154.50,977.89 C155.50,977.90 156.50,977.85 157.50,977.75 C158.50,977.65 159.50,977.50 160.50,977.29 C161.50,977.09 162.50,976.84 163.50,976.54 C164.50,976.24 165.50,975.88 166.50,975.48 C167.50,975.08 168.50,974.63 169.50,974.13 C170.50,973.63 171.50,973.08 172.50,972.48 C173.50,971.89 174.50,971.24 175.50,970.55 C176.50,969.85 177.50,969.11 178.50,968.33 C179.50,967.54 180.50,966.70 181.50,965.82 C182.50,964.94 183.50,964.01 184.50,963.04 C185.50,962.07 186.50,961.05 187.50,959.98 C188.50,958.92 189.50,957.82 190.50,956.67 C191.50,955.53 192.50,954.34 193.50,953.12 C194.50,951.90 195.50,950.64 196.50,949.35 C197.50,948.06 198.50,946.73 199.50,945.37 C200.50,944.02 201.50,942.63 202.50,941.23 C203.50,939.82 204.50,938.39 205.50,936.94 C206.50,935.50 207.50,934.03 208.50,932.56 C209.50,931.08 210.50,929.59 211.50,928.10 C212.50,926.61 213.50,925.11 214.50,923.62 C215.50,922.12 216.50,920.62 217.50,919.13 C218.50,917.65 219.50,916.16 220.50,914.69 C221.50,913.22 222.50,911.76 223.50,910.31 C224.50,908.87 225.50,907.44 226.50,906.04 C227.50,904.63 228.50,903.24 229.50,901.89 C230.50,900.53 231.50,899.20 232.50,897.90 C233.50,896.60 234.50,895.34 235.50,894.11 C236.50,892.88 237.50,891.68 238.50,890.52 C239.50,889.36 240.50,888.24 241.50,887.15 C242.50,886.06 243.50,885.01 244.50,883.99 C245.50,882.98 246.50,882.00 247.50,881.06 C248.50,880.12 249.50,879.22 250.50,878.36 C251.50,877.50 252.50,876.67 253.50,875.89 C254.50,875.11 255.50,874.36 256.50,873.66 C257.50,872.95 258.50,872.29 259.50,871.67 C260.50,871.04 261.50,870.46 262.50,869.92 C263.50,869.39 264.50,868.89 265.50,868.43 C266.50,867.98 267.50,867.57 268.50,867.20 C269.50,866.83 270.50,866.51 271.50,866.23 C272.50,865.95 273.50,865.71 274.50,865.52 C275.50,865.33 276.50,865.18 277.50,865.09 C278.50,864.99 279.50,864.93 280.50,864.93 C281.50,864.92 282.50,864.96 283.50,865.05 C284.50,865.14 286.00,865.39 286.50,865.46" stroke="#2323e2" stroke-width="2.4" fill="none"/>
<path d="M91.50,1054.13 C92.00,1054.16 93.50,1054.22 94.50,1054.26 C95.50,1054.30 96.50,1054.34 97.50,1054.38 C98.50,1054.42 99.50,1054.45 100.50,1054.48 C101.50,1054.52 102.50,1054.55 103.50,1054.57 C104.50,1054.60 105.50,1054.63 106.50,1054.65 C107.50,1054.68 108.50,1054.70 109.50,1054.72 C110.50,1054.74 111.50,1054.76 112.50,1054.78 C113.50,1054.79 114.50,1054.81 115.50,1054.82 C116.50,1054.83 117.50,1054.84 118.50,1054.85 C119.50,1054.86 120.50,1054.87 121.50,1054.87 C122.50,1054.88 123.50,1054.88 124.50,1054.88 C125.50,1054.88 126.50,1054.88 127.50,1054.88 C128.50,1054.88 129.50,1054.87 130.50,1054.87 C131.50,1054.86 132.50,1054.85 133.50,1054.84 C134.50,1054.83 135.50,1054.82 136.50,1054.81 C137.50,1054.79 138.50,1054.78 139.50,1054.76 C140.50,1054.74 141.50,1054.72 142.50,1054.70 C143.50,1054.68 144.50,1054.66 145.50,1054.63 C146.50,1054.61 147.50,1054.58 148.50,1054.56 C149.50,1054.53 150.50,1054.50 151.50,1054.47 C152.50,1054.43 153.50,1054.40 154.50,1054.37 C155.50,1054.33 156.50,1054.29 157.50,1054.26 C158.50,1054.22 159.50,1054.18 160.50,1054.13 C161.50,1054.09 162.50,1054.05 163.50,1054.00 C164.50,1053.96 165.50,1053.91 166.50,1053.86 C167.50,1053.81 168.50,1053.76 169.50,1053.71 C170.50,1053.66 171.50,1053.60 172.50,1053.55 C173.50,1053.49 174.50,1053.44 175.50,1053.38 C176.50,1053.32 177.50,1053.26 178.50,1053.20 C179.50,1053.14 180.50,1053.07 181.50,1053.01 C182.50,1052.94 183.50,1052.88 184.50,1052.81 C185.50,1052.74 186.50,1052.67 187.50,1052.60 C188.50,1052.53 189.50,1052.45 190.50,1052.38 C191.50,1052.30 192.50,1052.23 193.50,1052.15 C194.50,1052.07 195.50,1051.99 196.50,1051.91 C197.50,1051.83 198.50,1051.75 199.50,1051.67 C200.50,1051.58 201.50,1051.50 202.50,1051.41 C203.50,1051.33 204.50,1051.24 205.50,1051.15 C206.50,1051.06 207.50,1050.97 208.50,1050.88 C209.50,1050.79 210.50,1050.70 211.50,1050.61 C212.50,1050.52 213.50,1050.42 214.50,1050.33 C215.50,1050.24 216.50,1050.14 217.50,1050.05 C218.50,1049.95 219.50,1049.85 220.50,1049.76 C221.50,1049.66 222.50,1049.57 223.50,1049.47 C224.50,1049.37 225.50,1049.27 226.50,1049.18 C227.50,1049.08 228.50,1048.98 229.50,1048.88 C230.50,1048.79 231.50,1048.69 232.50,1048.59 C233.50,1048.49 234.50,1048.40 235.50,1048.30 C236.50,1048.20 237.50,1048.10 238.50,1048.01 C239.50,1047.91 240.50,1047.81 241.50,1047.72 C242.50,1047.62 243.50,1047.53 244.50,1047.43 C245.50,1047.34 246.50,1047.24 247.50,1047.15 C248.50,1047.06 249.50,1046.97 250.50,1046.87 C251.50,1046.78 252.50,1046.69 253.50,1046.60 C254.50,1046.51 255.50,1046.43 256.50,1046.34 C257.50,1046.25 258.50,1046.16 259.50,1046.08 C260.50,1046.00 261.50,1045.91 262.50,1045.83 C263.50,1045.75 264.50,1045.67 265.50,1045.59 C266.50,1045.51 267.50,1045.43 268.50,1045.36 C269.50,1045.28 270.50,1045.21 271.50,1045.14 C272.50,1045.06 273.50,1044.99 274.50,1044.93 C275.50,1044.86 276.50,1044.79 277.50,1044.73 C278.50,1044.66 279.50,1044.60 280.50,1044.54 C281.50,1044.48 282.50,1044.43 283.50,1044.37 C284.50,1044.32 286.00,1044.24 286.50,1044.21" stroke="#ec2c2c" stroke-width="1.85" fill="none"/>
<path d="M91.50,1142.21 C92.00,1142.21 93.50,1142.26 94.50,1142.23 C95.50,1142.20 96.50,1142.13 97.50,1142.04 C98.50,1141.94 99.50,1141.81 100.50,1141.64 C101.50,1141.48 102.50,1141.29 103.50,1141.06 C104.50,1140.84 105.50,1140.58 106.50,1140.30 C107.50,1140.01 108.50,1139.70 109.50,1139.36 C110.50,1139.03 111.50,1138.66 112.50,1138.27 C113.50,1137.88 114.50,1137.47 115.50,1137.03 C116.50,1136.59 117.50,1136.13 118.50,1135.65 C119.50,1135.16 120.50,1134.66 121.50,1134.14 C122.50,1133.61 123.50,1133.07 124.50,1132.51 C125.50,1131.95 126.50,1131.37 127.50,1130.77 C128.50,1130.18 129.50,1129.57 130.50,1128.94 C131.50,1128.32 132.50,1127.68 133.50,1127.02 C134.50,1126.37 135.50,1125.71 136.50,1125.03 C137.50,1124.35 138.50,1123.67 139.50,1122.97 C140.50,1122.27 141.50,1121.57 142.50,1120.85 C143.50,1120.14 144.50,1119.42 145.50,1118.69 C146.50,1117.97 147.50,1117.24 148.50,1116.50 C149.50,1115.76 150.50,1115.02 151.50,1114.28 C152.50,1113.54 153.50,1112.79 154.50,1112.05 C155.50,1111.31 156.50,1110.56 157.50,1109.82 C158.50,1109.07 159.50,1108.33 160.50,1107.59 C161.50,1106.85 162.50,1106.11 163.50,1105.38 C164.50,1104.65 165.50,1103.92 166.50,1103.20 C167.50,1102.48 168.50,1101.76 169.50,1101.06 C170.50,1100.35 171.50,1099.65 172.50,1098.96 C173.50,1098.28 174.50,1097.60 175.50,1096.93 C176.50,1096.26 177.50,1095.61 178.50,1094.97 C179.50,1094.32 180.50,1093.70 181.50,1093.08 C182.50,1092.47 183.50,1091.87 184.50,1091.29 C185.50,1090.70 186.50,1090.13 187.50,1089.58 C188.50,1089.02 189.50,1088.48 190.50,1087.95 C191.50,1087.42 192.50,1086.91 193.50,1086.40 C194.50,1085.90 195.50,1085.41 196.50,1084.94 C197.50,1084.46 198.50,1084.00 199.50,1083.55 C200.50,1083.10 201.50,1082.66 202.50,1082.24 C203.50,1081.81 204.50,1081.40 205.50,1081.00 C206.50,1080.60 207.50,1080.21 208.50,1079.83 C209.50,1079.45 210.50,1079.09 211.50,1078.73 C212.50,1078.38 213.50,1078.04 214.50,1077.70 C215.50,1077.37 216.50,1077.05 217.50,1076.74 C218.50,1076.43 219.50,1076.13 220.50,1075.84 C221.50,1075.55 222.50,1075.27 223.50,1075.00 C224.50,1074.73 225.50,1074.47 226.50,1074.22 C227.50,1073.97 228.50,1073.73 229.50,1073.50 C230.50,1073.27 231.50,1073.04 232.50,1072.83 C233.50,1072.62 234.50,1072.41 235.50,1072.22 C236.50,1072.02 237.50,1071.84 238.50,1071.66 C239.50,1071.48 240.50,1071.31 241.50,1071.15 C242.50,1070.98 243.50,1070.83 244.50,1070.68 C245.50,1070.53 246.50,1070.40 247.50,1070.26 C248.50,1070.13 249.50,1070.01 250.50,1069.89 C251.50,1069.77 252.50,1069.66 253.50,1069.55 C254.50,1069.45 255.50,1069.35 256.50,1069.26 C257.50,1069.17 258.50,1069.08 259.50,1069.00 C260.50,1068.92 261.50,1068.85 262.50,1068.78 C263.50,1068.72 264.50,1068.65 265.50,1068.60 C266.50,1068.54 267.50,1068.49 268.50,1068.44 C269.50,1068.39 270.50,1068.35 271.50,1068.31 C272.50,1068.28 273.50,1068.24 274.50,1068.22 C275.50,1068.19 276.50,1068.16 277.50,1068.14 C278.50,1068.12 279.50,1068.11 280.50,1068.09 C281.50,1068.08 282.50,1068.07 283.50,1068.06 C284.50,1068.06 286.00,1068.06 286.50,1068.06" stroke="#ec2c2c" stroke-width="1.85" fill="none"/>
<path d="M91.50,1229.82 C92.00,1229.78 93.50,1229.73 94.50,1229.62 C95.50,1229.51 96.50,1229.36 97.50,1229.16 C98.50,1228.97 99.50,1228.72 100.50,1228.44 C101.50,1228.15 102.50,1227.83 103.50,1227.45 C104.50,1227.08 105.50,1226.67 106.50,1226.21 C107.50,1225.75 108.50,1225.25 109.50,1224.71 C110.50,1224.17 111.50,1223.58 112.50,1222.96 C113.50,1222.33 114.50,1221.66 115.50,1220.95 C116.50,1220.24 117.50,1219.49 118.50,1218.70 C119.50,1217.91 120.50,1217.07 121.50,1216.20 C122.50,1215.32 123.50,1214.41 124.50,1213.45 C125.50,1212.50 126.50,1211.50 127.50,1210.47 C128.50,1209.44 129.50,1208.37 130.50,1207.28 C131.50,1206.19 132.50,1205.07 133.50,1203.93 C134.50,1202.79 135.50,1201.63 136.50,1200.46 C137.50,1199.29 138.50,1198.10 139.50,1196.91 C140.50,1195.73 141.50,1194.53 142.50,1193.34 C143.50,1192.15 144.50,1190.95 145.50,1189.77 C146.50,1188.60 147.50,1187.42 148.50,1186.26 C149.50,1185.10 150.50,1183.95 151.50,1182.80 C152.50,1181.66 153.50,1180.53 154.50,1179.41 C155.50,1178.30 156.50,1177.19 157.50,1176.09 C158.50,1175.00 159.50,1173.91 160.50,1172.84 C161.50,1171.77 162.50,1170.72 163.50,1169.67 C164.50,1168.63 165.50,1167.60 166.50,1166.59 C167.50,1165.57 168.50,1164.57 169.50,1163.58 C170.50,1162.60 171.50,1161.63 172.50,1160.67 C173.50,1159.72 174.50,1158.78 175.50,1157.86 C176.50,1156.94 177.50,1156.03 178.50,1155.14 C179.50,1154.26 180.50,1153.38 181.50,1152.53 C182.50,1151.68 183.50,1150.85 184.50,1150.03 C185.50,1149.22 186.50,1148.42 187.50,1147.64 C188.50,1146.87 189.50,1146.11 190.50,1145.37 C191.50,1144.64 192.50,1143.92 193.50,1143.23 C194.50,1142.53 195.50,1141.86 196.50,1141.20 C197.50,1140.55 198.50,1139.91 199.50,1139.29 C200.50,1138.68 201.50,1138.08 202.50,1137.50 C203.50,1136.92 204.50,1136.36 205.50,1135.81 C206.50,1135.27 207.50,1134.74 208.50,1134.23 C209.50,1133.72 210.50,1133.22 211.50,1132.74 C212.50,1132.26 213.50,1131.79 214.50,1131.34 C215.50,1130.89 216.50,1130.45 217.50,1130.03 C218.50,1129.60 219.50,1129.19 220.50,1128.79 C221.50,1128.39 222.50,1128.00 223.50,1127.63 C224.50,1127.25 225.50,1126.89 226.50,1126.53 C227.50,1126.18 228.50,1125.83 229.50,1125.50 C230.50,1125.16 231.50,1124.84 232.50,1124.52 C233.50,1124.20 234.50,1123.90 235.50,1123.59 C236.50,1123.29 237.50,1123.00 238.50,1122.71 C239.50,1122.43 240.50,1122.14 241.50,1121.87 C242.50,1121.60 243.50,1121.33 244.50,1121.07 C245.50,1120.81 246.50,1120.56 247.50,1120.31 C248.50,1120.07 249.50,1119.83 250.50,1119.60 C251.50,1119.37 252.50,1119.15 253.50,1118.94 C254.50,1118.73 255.50,1118.52 256.50,1118.33 C257.50,1118.13 258.50,1117.95 259.50,1117.77 C260.50,1117.59 261.50,1117.42 262.50,1117.27 C263.50,1117.11 264.50,1116.96 265.50,1116.82 C266.50,1116.68 267.50,1116.55 268.50,1116.44 C269.50,1116.32 270.50,1116.21 271.50,1116.12 C272.50,1116.02 273.50,1115.93 274.50,1115.86 C275.50,1115.79 276.50,1115.72 277.50,1115.67 C278.50,1115.62 279.50,1115.58 280.50,1115.55 C281.50,1115.53 282.50,1115.51 283.50,1115.51 C284.50,1115.50 286.00,1115.53 286.50,1115.54" stroke="#ec2c2c" stroke-width="1.85" fill="none"/>
<path d="M91.50,1141.40 C92.00,1141.40 93.50,1141.41 94.50,1141.41 C95.50,1141.41 96.50,1141.42 97.50,1141.42 C98.50,1141.42 99.50,1141.42 100.50,1141.42 C101.50,1141.42 102.50,1141.42 103.50,1141.42 C104.50,1141.42 105.50,1141.42 106.50,1141.42 C107.50,1141.42 108.50,1141.42 109.50,1141.42 C110.50,1141.42 111.50,1141.41 112.50,1141.41 C113.50,1141.41 114.50,1141.41 115.50,1141.40 C116.50,1141.40 117.50,1141.40 118.50,1141.39 C119.50,1141.39 120.50,1141.38 121.50,1141.38 C122.50,1141.38 123.50,1141.37 124.50,1141.37 C125.50,1141.36 126.50,1141.36 127.50,1141.36 C128.50,1141.35 129.50,1141.35 130.50,1141.34 C131.50,1141.34 132.50,1141.34 133.50,1141.33 C134.50,1141.33 135.50,1141.33 136.50,1141.33 C137.50,1141.34 138.50,1141.34 139.50,1141.35 C140.50,1141.36 141.50,1141.37 142.50,1141.40 C143.50,1141.42 144.50,1141.44 145.50,1141.47 C146.50,1141.51 147.50,1141.54 148.50,1141.59 C149.50,1141.64 150.50,1141.70 151.50,1141.76 C152.50,1141.83 153.50,1141.91 154.50,1141.99 C155.50,1142.08 156.50,1142.18 157.50,1142.28 C158.50,1142.37 159.50,1142.47 160.50,1142.56 C161.50,1142.65 162.50,1142.73 163.50,1142.81 C164.50,1142.90 165.50,1142.97 166.50,1143.04 C167.50,1143.12 168.50,1143.19 169.50,1143.25 C170.50,1143.32 171.50,1143.38 172.50,1143.44 C173.50,1143.50 174.50,1143.56 175.50,1143.61 C176.50,1143.66 177.50,1143.72 178.50,1143.77 C179.50,1143.82 180.50,1143.86 181.50,1143.91 C182.50,1143.95 183.50,1144.00 184.50,1144.04 C185.50,1144.08 186.50,1144.12 187.50,1144.15 C188.50,1144.19 189.50,1144.23 190.50,1144.26 C191.50,1144.29 192.50,1144.33 193.50,1144.36 C194.50,1144.39 195.50,1144.42 196.50,1144.44 C197.50,1144.47 198.50,1144.49 199.50,1144.52 C200.50,1144.54 201.50,1144.56 202.50,1144.57 C203.50,1144.59 204.50,1144.60 205.50,1144.61 C206.50,1144.62 207.50,1144.62 208.50,1144.62 C209.50,1144.63 210.50,1144.62 211.50,1144.62 C212.50,1144.61 213.50,1144.60 214.50,1144.58 C215.50,1144.56 216.50,1144.54 217.50,1144.51 C218.50,1144.49 219.50,1144.45 220.50,1144.42 C221.50,1144.38 222.50,1144.33 223.50,1144.28 C224.50,1144.23 225.50,1144.17 226.50,1144.11 C227.50,1144.05 228.50,1143.97 229.50,1143.90 C230.50,1143.82 231.50,1143.73 232.50,1143.66 C233.50,1143.58 234.50,1143.51 235.50,1143.45 C236.50,1143.39 237.50,1143.34 238.50,1143.29 C239.50,1143.25 240.50,1143.21 241.50,1143.18 C242.50,1143.14 243.50,1143.12 244.50,1143.09 C245.50,1143.07 246.50,1143.05 247.50,1143.04 C248.50,1143.03 249.50,1143.02 250.50,1143.01 C251.50,1143.00 252.50,1143.00 253.50,1143.00 C254.50,1143.00 255.50,1143.00 256.50,1143.01 C257.50,1143.01 258.50,1143.02 259.50,1143.02 C260.50,1143.03 261.50,1143.04 262.50,1143.05 C263.50,1143.06 264.50,1143.07 265.50,1143.08 C266.50,1143.09 267.50,1143.10 268.50,1143.11 C269.50,1143.11 270.50,1143.12 271.50,1143.13 C272.50,1143.14 273.50,1143.15 274.50,1143.15 C275.50,1143.16 276.50,1143.16 277.50,1143.16 C278.50,1143.16 279.50,1143.16 280.50,1143.16 C281.50,1143.16 282.50,1143.15 283.50,1143.14 C284.50,1143.13 286.00,1143.10 286.50,1143.10" stroke="#2323e2" stroke-width="1.85" fill="none"/>
<path d="M91.50,1204.13 C92.00,1204.16 93.50,1204.27 94.50,1204.29 C95.50,1204.32 96.50,1204.31 97.50,1204.28 C98.50,1204.25 99.50,1204.19 100.50,1204.11 C101.50,1204.03 102.50,1203.92 103.50,1203.79 C104.50,1203.67 105.50,1203.51 106.50,1203.34 C107.50,1203.17 108.50,1202.98 109.50,1202.76 C110.50,1202.55 111.50,1202.32 112.50,1202.07 C113.50,1201.82 114.50,1201.55 115.50,1201.27 C116.50,1200.99 117.50,1200.69 118.50,1200.39 C119.50,1200.08 120.50,1199.75 121.50,1199.41 C122.50,1199.08 123.50,1198.73 124.50,1198.37 C125.50,1198.02 126.50,1197.65 127.50,1197.27 C128.50,1196.90 129.50,1196.51 130.50,1196.12 C131.50,1195.73 132.50,1195.33 133.50,1194.93 C134.50,1194.53 135.50,1194.13 136.50,1193.72 C137.50,1193.31 138.50,1192.90 139.50,1192.49 C140.50,1192.07 141.50,1191.66 142.50,1191.25 C143.50,1190.84 144.50,1190.42 145.50,1190.02 C146.50,1189.61 147.50,1189.20 148.50,1188.80 C149.50,1188.40 150.50,1188.00 151.50,1187.61 C152.50,1187.22 153.50,1186.84 154.50,1186.46 C155.50,1186.09 156.50,1185.72 157.50,1185.36 C158.50,1185.01 159.50,1184.66 160.50,1184.32 C161.50,1183.99 162.50,1183.66 163.50,1183.36 C164.50,1183.05 165.50,1182.75 166.50,1182.47 C167.50,1182.19 168.50,1181.92 169.50,1181.67 C170.50,1181.43 171.50,1181.20 172.50,1180.98 C173.50,1180.77 174.50,1180.58 175.50,1180.41 C176.50,1180.23 177.50,1180.08 178.50,1179.94 C179.50,1179.81 180.50,1179.69 181.50,1179.59 C182.50,1179.48 183.50,1179.40 184.50,1179.33 C185.50,1179.26 186.50,1179.21 187.50,1179.17 C188.50,1179.14 189.50,1179.11 190.50,1179.11 C191.50,1179.10 192.50,1179.10 193.50,1179.12 C194.50,1179.14 195.50,1179.18 196.50,1179.22 C197.50,1179.26 198.50,1179.32 199.50,1179.39 C200.50,1179.46 201.50,1179.54 202.50,1179.63 C203.50,1179.72 204.50,1179.82 205.50,1179.93 C206.50,1180.04 207.50,1180.16 208.50,1180.29 C209.50,1180.42 210.50,1180.56 211.50,1180.70 C212.50,1180.85 213.50,1181.00 214.50,1181.16 C215.50,1181.32 216.50,1181.49 217.50,1181.66 C218.50,1181.83 219.50,1182.01 220.50,1182.19 C221.50,1182.36 222.50,1182.54 223.50,1182.72 C224.50,1182.90 225.50,1183.08 226.50,1183.25 C227.50,1183.42 228.50,1183.60 229.50,1183.76 C230.50,1183.92 231.50,1184.08 232.50,1184.22 C233.50,1184.36 234.50,1184.50 235.50,1184.62 C236.50,1184.75 237.50,1184.86 238.50,1184.95 C239.50,1185.05 240.50,1185.12 241.50,1185.19 C242.50,1185.25 243.50,1185.29 244.50,1185.33 C245.50,1185.36 246.50,1185.38 247.50,1185.38 C248.50,1185.39 249.50,1185.39 250.50,1185.38 C251.50,1185.36 252.50,1185.34 253.50,1185.31 C254.50,1185.29 255.50,1185.25 256.50,1185.21 C257.50,1185.17 258.50,1185.13 259.50,1185.09 C260.50,1185.04 261.50,1184.99 262.50,1184.95 C263.50,1184.90 264.50,1184.86 265.50,1184.82 C266.50,1184.77 267.50,1184.73 268.50,1184.70 C269.50,1184.67 270.50,1184.64 271.50,1184.62 C272.50,1184.59 273.50,1184.58 274.50,1184.58 C275.50,1184.57 276.50,1184.58 277.50,1184.60 C278.50,1184.62 279.50,1184.65 280.50,1184.70 C281.50,1184.74 282.50,1184.80 283.50,1184.88 C284.50,1184.96 286.00,1185.12 286.50,1185.17" stroke="#2323e2" stroke-width="1.85" fill="none"/>
<path d="M91.50,1271.80 C92.00,1271.81 93.50,1271.88 94.50,1271.84 C95.50,1271.80 96.50,1271.71 97.50,1271.57 C98.50,1271.43 99.50,1271.24 100.50,1271.01 C101.50,1270.78 102.50,1270.50 103.50,1270.18 C104.50,1269.86 105.50,1269.50 106.50,1269.10 C107.50,1268.70 108.50,1268.25 109.50,1267.77 C110.50,1267.30 111.50,1266.78 112.50,1266.23 C113.50,1265.68 114.50,1265.10 115.50,1264.49 C116.50,1263.87 117.50,1263.23 118.50,1262.56 C119.50,1261.89 120.50,1261.18 121.50,1260.46 C122.50,1259.73 123.50,1258.98 124.50,1258.21 C125.50,1257.44 126.50,1256.64 127.50,1255.82 C128.50,1255.01 129.50,1254.17 130.50,1253.32 C131.50,1252.47 132.50,1251.60 133.50,1250.72 C134.50,1249.84 135.50,1248.95 136.50,1248.04 C137.50,1247.14 138.50,1246.22 139.50,1245.29 C140.50,1244.37 141.50,1243.44 142.50,1242.50 C143.50,1241.56 144.50,1240.61 145.50,1239.66 C146.50,1238.72 147.50,1237.76 148.50,1236.80 C149.50,1235.84 150.50,1234.88 151.50,1233.92 C152.50,1232.96 153.50,1231.99 154.50,1231.03 C155.50,1230.06 156.50,1229.10 157.50,1228.13 C158.50,1227.17 159.50,1226.20 160.50,1225.25 C161.50,1224.29 162.50,1223.33 163.50,1222.38 C164.50,1221.42 165.50,1220.48 166.50,1219.53 C167.50,1218.59 168.50,1217.65 169.50,1216.73 C170.50,1215.80 171.50,1214.88 172.50,1213.97 C173.50,1213.05 174.50,1212.15 175.50,1211.26 C176.50,1210.37 177.50,1209.49 178.50,1208.62 C179.50,1207.75 180.50,1206.90 181.50,1206.06 C182.50,1205.22 183.50,1204.39 184.50,1203.58 C185.50,1202.77 186.50,1201.98 187.50,1201.20 C188.50,1200.43 189.50,1199.67 190.50,1198.92 C191.50,1198.18 192.50,1197.45 193.50,1196.73 C194.50,1196.02 195.50,1195.32 196.50,1194.64 C197.50,1193.96 198.50,1193.30 199.50,1192.64 C200.50,1191.99 201.50,1191.36 202.50,1190.74 C203.50,1190.12 204.50,1189.51 205.50,1188.92 C206.50,1188.33 207.50,1187.75 208.50,1187.19 C209.50,1186.63 210.50,1186.08 211.50,1185.55 C212.50,1185.02 213.50,1184.50 214.50,1183.99 C215.50,1183.49 216.50,1183.00 217.50,1182.52 C218.50,1182.04 219.50,1181.58 220.50,1181.13 C221.50,1180.68 222.50,1180.24 223.50,1179.82 C224.50,1179.40 225.50,1178.99 226.50,1178.59 C227.50,1178.20 228.50,1177.81 229.50,1177.44 C230.50,1177.07 231.50,1176.71 232.50,1176.37 C233.50,1176.02 234.50,1175.69 235.50,1175.37 C236.50,1175.05 237.50,1174.74 238.50,1174.44 C239.50,1174.14 240.50,1173.86 241.50,1173.59 C242.50,1173.31 243.50,1173.05 244.50,1172.80 C245.50,1172.55 246.50,1172.31 247.50,1172.09 C248.50,1171.86 249.50,1171.65 250.50,1171.44 C251.50,1171.24 252.50,1171.04 253.50,1170.86 C254.50,1170.68 255.50,1170.51 256.50,1170.34 C257.50,1170.18 258.50,1170.03 259.50,1169.89 C260.50,1169.75 261.50,1169.62 262.50,1169.50 C263.50,1169.38 264.50,1169.27 265.50,1169.17 C266.50,1169.07 267.50,1168.97 268.50,1168.89 C269.50,1168.81 270.50,1168.74 271.50,1168.68 C272.50,1168.61 273.50,1168.56 274.50,1168.52 C275.50,1168.47 276.50,1168.44 277.50,1168.41 C278.50,1168.38 279.50,1168.37 280.50,1168.36 C281.50,1168.35 282.50,1168.35 283.50,1168.35 C284.50,1168.36 286.00,1168.39 286.50,1168.40" stroke="#2323e2" stroke-width="1.85" fill="none"/>
</g>
<g clip-path="url(#cr2)" stroke-linejoin="round" stroke-linecap="round">
<path d="M480.00,786.39 C480.50,786.66 482.00,787.40 483.00,787.99 C484.00,788.58 485.00,789.24 486.00,789.94 C487.00,790.64 488.00,791.40 489.00,792.19 C490.00,792.98 491.00,793.82 492.00,794.69 C493.00,795.55 494.00,796.46 495.00,797.38 C496.00,798.30 497.00,799.25 498.00,800.21 C499.00,801.17 500.00,802.16 501.00,803.14 C502.00,804.12 503.00,805.12 504.00,806.11 C505.00,807.10 506.00,808.09 507.00,809.07 C508.00,810.05 509.00,811.03 510.00,811.99 C511.00,812.96 512.00,813.91 513.00,814.85 C514.00,815.79 515.00,816.72 516.00,817.62 C517.00,818.53 518.00,819.42 519.00,820.28 C520.00,821.15 521.00,822.00 522.00,822.81 C523.00,823.63 524.00,824.42 525.00,825.18 C526.00,825.94 527.00,826.67 528.00,827.37 C529.00,828.06 530.00,828.73 531.00,829.35 C532.00,829.97 533.00,830.56 534.00,831.11 C535.00,831.65 536.00,832.16 537.00,832.63 C538.00,833.10 539.00,833.53 540.00,833.91 C541.00,834.30 542.00,834.64 543.00,834.94 C544.00,835.24 545.00,835.50 546.00,835.72 C547.00,835.93 548.00,836.10 549.00,836.23 C550.00,836.35 551.00,836.43 552.00,836.46 C553.00,836.50 554.00,836.48 555.00,836.42 C556.00,836.36 557.00,836.25 558.00,836.09 C559.00,835.93 560.00,835.72 561.00,835.46 C562.00,835.20 563.00,834.89 564.00,834.53 C565.00,834.17 566.00,833.76 567.00,833.29 C568.00,832.83 569.00,832.31 570.00,831.74 C571.00,831.18 572.00,830.56 573.00,829.90 C574.00,829.25 575.00,828.54 576.00,827.80 C577.00,827.06 578.00,826.27 579.00,825.45 C580.00,824.63 581.00,823.77 582.00,822.89 C583.00,822.00 584.00,821.08 585.00,820.13 C586.00,819.18 587.00,818.20 588.00,817.20 C589.00,816.19 590.00,815.16 591.00,814.12 C592.00,813.07 593.00,812.00 594.00,810.91 C595.00,809.83 596.00,808.72 597.00,807.61 C598.00,806.49 599.00,805.36 600.00,804.22 C601.00,803.09 602.00,801.94 603.00,800.79 C604.00,799.63 605.00,798.47 606.00,797.32 C607.00,796.16 608.00,795.00 609.00,793.84 C610.00,792.69 611.00,791.53 612.00,790.38 C613.00,789.24 614.00,788.09 615.00,786.96 C616.00,785.83 617.00,784.71 618.00,783.60 C619.00,782.49 620.00,781.38 621.00,780.30 C622.00,779.21 623.00,778.13 624.00,777.07 C625.00,776.00 626.00,774.95 627.00,773.92 C628.00,772.89 629.00,771.87 630.00,770.86 C631.00,769.86 632.00,768.87 633.00,767.90 C634.00,766.94 635.00,765.98 636.00,765.05 C637.00,764.12 638.00,763.21 639.00,762.32 C640.00,761.42 641.00,760.55 642.00,759.70 C643.00,758.85 644.00,758.03 645.00,757.22 C646.00,756.42 647.00,755.64 648.00,754.88 C649.00,754.13 650.00,753.40 651.00,752.70 C652.00,751.99 653.42,751.06 654.00,750.66 C654.58,750.27 654.42,750.40 654.50,750.34" stroke="#2323e2" stroke-width="2.1" fill="none"/>
<path d="M480.00,828.39 C480.50,828.76 482.00,829.83 483.00,830.60 C484.00,831.36 485.00,832.17 486.00,833.00 C487.00,833.83 488.00,834.69 489.00,835.57 C490.00,836.45 491.00,837.35 492.00,838.27 C493.00,839.19 494.00,840.13 495.00,841.08 C496.00,842.02 497.00,842.99 498.00,843.95 C499.00,844.92 500.00,845.89 501.00,846.86 C502.00,847.83 503.00,848.81 504.00,849.78 C505.00,850.74 506.00,851.71 507.00,852.66 C508.00,853.61 509.00,854.56 510.00,855.48 C511.00,856.41 512.00,857.32 513.00,858.21 C514.00,859.10 515.00,859.97 516.00,860.81 C517.00,861.65 518.00,862.47 519.00,863.25 C520.00,864.03 521.00,864.78 522.00,865.50 C523.00,866.21 524.00,866.89 525.00,867.52 C526.00,868.15 527.00,868.74 528.00,869.28 C529.00,869.82 530.00,870.31 531.00,870.75 C532.00,871.19 533.00,871.57 534.00,871.90 C535.00,872.23 536.00,872.51 537.00,872.73 C538.00,872.95 539.00,873.12 540.00,873.24 C541.00,873.36 542.00,873.42 543.00,873.44 C544.00,873.45 545.00,873.41 546.00,873.32 C547.00,873.23 548.00,873.09 549.00,872.90 C550.00,872.71 551.00,872.47 552.00,872.18 C553.00,871.89 554.00,871.54 555.00,871.15 C556.00,870.76 557.00,870.32 558.00,869.83 C559.00,869.34 560.00,868.80 561.00,868.21 C562.00,867.63 563.00,866.99 564.00,866.31 C565.00,865.63 566.00,864.90 567.00,864.12 C568.00,863.34 569.00,862.52 570.00,861.65 C571.00,860.78 572.00,859.86 573.00,858.89 C574.00,857.93 575.00,856.92 576.00,855.87 C577.00,854.82 578.00,853.72 579.00,852.59 C580.00,851.45 581.00,850.28 582.00,849.07 C583.00,847.85 584.00,846.60 585.00,845.32 C586.00,844.04 587.00,842.73 588.00,841.38 C589.00,840.04 590.00,838.66 591.00,837.27 C592.00,835.87 593.00,834.45 594.00,833.01 C595.00,831.58 596.00,830.12 597.00,828.66 C598.00,827.19 599.00,825.71 600.00,824.23 C601.00,822.75 602.00,821.26 603.00,819.78 C604.00,818.29 605.00,816.80 606.00,815.33 C607.00,813.85 608.00,812.37 609.00,810.91 C610.00,809.45 611.00,808.00 612.00,806.57 C613.00,805.13 614.00,803.71 615.00,802.32 C616.00,800.93 617.00,799.55 618.00,798.20 C619.00,796.86 620.00,795.53 621.00,794.25 C622.00,792.96 623.00,791.70 624.00,790.48 C625.00,789.26 626.00,788.08 627.00,786.93 C628.00,785.78 629.00,784.66 630.00,783.59 C631.00,782.51 632.00,781.47 633.00,780.46 C634.00,779.46 635.00,778.49 636.00,777.56 C637.00,776.63 638.00,775.74 639.00,774.89 C640.00,774.04 641.00,773.23 642.00,772.45 C643.00,771.68 644.00,770.94 645.00,770.25 C646.00,769.56 647.00,768.90 648.00,768.29 C649.00,767.68 650.00,767.11 651.00,766.58 C652.00,766.05 653.00,765.56 654.00,765.12 C655.00,764.67 656.00,764.27 657.00,763.91 C658.00,763.56 659.00,763.24 660.00,762.97 C661.00,762.70 662.00,762.48 663.00,762.30 C664.00,762.12 665.00,761.98 666.00,761.89 C667.00,761.80 668.00,761.76 669.00,761.76 C670.00,761.77 671.00,761.82 672.00,761.92 C673.00,762.02 674.50,762.28 675.00,762.36" stroke="#2323e2" stroke-width="2.4" fill="none"/>
<path d="M480.00,949.03 C480.50,949.06 482.00,949.14 483.00,949.19 C484.00,949.24 485.00,949.29 486.00,949.34 C487.00,949.39 488.00,949.43 489.00,949.48 C490.00,949.52 491.00,949.56 492.00,949.60 C493.00,949.64 494.00,949.67 495.00,949.71 C496.00,949.74 497.00,949.78 498.00,949.81 C499.00,949.84 500.00,949.87 501.00,949.89 C502.00,949.92 503.00,949.94 504.00,949.97 C505.00,949.99 506.00,950.01 507.00,950.03 C508.00,950.05 509.00,950.07 510.00,950.08 C511.00,950.10 512.00,950.11 513.00,950.12 C514.00,950.13 515.00,950.14 516.00,950.15 C517.00,950.16 518.00,950.16 519.00,950.17 C520.00,950.17 521.00,950.17 522.00,950.17 C523.00,950.17 524.00,950.17 525.00,950.17 C526.00,950.17 527.00,950.16 528.00,950.15 C529.00,950.15 530.00,950.14 531.00,950.13 C532.00,950.12 533.00,950.10 534.00,950.09 C535.00,950.07 536.00,950.06 537.00,950.04 C538.00,950.02 539.00,950.00 540.00,949.98 C541.00,949.96 542.00,949.94 543.00,949.91 C544.00,949.89 545.00,949.86 546.00,949.83 C547.00,949.80 548.00,949.77 549.00,949.74 C550.00,949.71 551.00,949.68 552.00,949.64 C553.00,949.61 554.00,949.57 555.00,949.53 C556.00,949.49 557.00,949.45 558.00,949.41 C559.00,949.37 560.00,949.33 561.00,949.28 C562.00,949.23 563.00,949.19 564.00,949.14 C565.00,949.09 566.00,949.04 567.00,948.99 C568.00,948.94 569.00,948.89 570.00,948.83 C571.00,948.78 572.00,948.72 573.00,948.66 C574.00,948.60 575.00,948.54 576.00,948.48 C577.00,948.42 578.00,948.36 579.00,948.29 C580.00,948.23 581.00,948.16 582.00,948.10 C583.00,948.03 584.00,947.96 585.00,947.89 C586.00,947.82 587.00,947.75 588.00,947.68 C589.00,947.60 590.00,947.53 591.00,947.45 C592.00,947.38 593.00,947.30 594.00,947.22 C595.00,947.14 596.00,947.06 597.00,946.98 C598.00,946.90 599.00,946.82 600.00,946.74 C601.00,946.66 602.00,946.57 603.00,946.49 C604.00,946.41 605.00,946.32 606.00,946.24 C607.00,946.15 608.00,946.07 609.00,945.98 C610.00,945.90 611.00,945.81 612.00,945.72 C613.00,945.64 614.00,945.55 615.00,945.46 C616.00,945.37 617.00,945.29 618.00,945.20 C619.00,945.11 620.00,945.02 621.00,944.94 C622.00,944.85 623.00,944.76 624.00,944.68 C625.00,944.59 626.00,944.50 627.00,944.42 C628.00,944.33 629.00,944.24 630.00,944.16 C631.00,944.07 632.00,943.99 633.00,943.90 C634.00,943.82 635.00,943.73 636.00,943.65 C637.00,943.57 638.00,943.49 639.00,943.41 C640.00,943.32 641.00,943.24 642.00,943.16 C643.00,943.09 644.00,943.01 645.00,942.93 C646.00,942.85 647.00,942.78 648.00,942.70 C649.00,942.63 650.00,942.56 651.00,942.48 C652.00,942.41 653.00,942.34 654.00,942.27 C655.00,942.20 656.00,942.14 657.00,942.07 C658.00,942.01 659.00,941.94 660.00,941.88 C661.00,941.82 662.00,941.76 663.00,941.70 C664.00,941.64 665.00,941.59 666.00,941.54 C667.00,941.48 668.00,941.43 669.00,941.38 C670.00,941.33 671.00,941.28 672.00,941.24 C673.00,941.20 674.50,941.14 675.00,941.11" stroke="#ec2c2c" stroke-width="1.85" fill="none"/>
<path d="M480.00,1037.11 C480.50,1037.12 482.00,1037.18 483.00,1037.16 C484.00,1037.14 485.00,1037.09 486.00,1037.00 C487.00,1036.91 488.00,1036.79 489.00,1036.64 C490.00,1036.48 491.00,1036.30 492.00,1036.08 C493.00,1035.87 494.00,1035.62 495.00,1035.35 C496.00,1035.08 497.00,1034.78 498.00,1034.45 C499.00,1034.12 500.00,1033.76 501.00,1033.39 C502.00,1033.01 503.00,1032.60 504.00,1032.17 C505.00,1031.75 506.00,1031.29 507.00,1030.82 C508.00,1030.35 509.00,1029.86 510.00,1029.34 C511.00,1028.83 512.00,1028.30 513.00,1027.75 C514.00,1027.20 515.00,1026.63 516.00,1026.04 C517.00,1025.46 518.00,1024.86 519.00,1024.24 C520.00,1023.63 521.00,1023.00 522.00,1022.36 C523.00,1021.71 524.00,1021.06 525.00,1020.39 C526.00,1019.73 527.00,1019.05 528.00,1018.36 C529.00,1017.68 530.00,1016.98 531.00,1016.28 C532.00,1015.58 533.00,1014.86 534.00,1014.15 C535.00,1013.43 536.00,1012.71 537.00,1011.98 C538.00,1011.26 539.00,1010.53 540.00,1009.80 C541.00,1009.07 542.00,1008.33 543.00,1007.60 C544.00,1006.86 545.00,1006.13 546.00,1005.39 C547.00,1004.66 548.00,1003.93 549.00,1003.20 C550.00,1002.47 551.00,1001.74 552.00,1001.02 C553.00,1000.30 554.00,999.58 555.00,998.87 C556.00,998.16 557.00,997.45 558.00,996.76 C559.00,996.06 560.00,995.37 561.00,994.69 C562.00,994.02 563.00,993.35 564.00,992.69 C565.00,992.04 566.00,991.39 567.00,990.76 C568.00,990.13 569.00,989.51 570.00,988.91 C571.00,988.30 572.00,987.71 573.00,987.14 C574.00,986.57 575.00,986.01 576.00,985.46 C577.00,984.92 578.00,984.38 579.00,983.86 C580.00,983.35 581.00,982.84 582.00,982.35 C583.00,981.86 584.00,981.38 585.00,980.92 C586.00,980.45 587.00,980.00 588.00,979.56 C589.00,979.12 590.00,978.69 591.00,978.28 C592.00,977.86 593.00,977.46 594.00,977.07 C595.00,976.68 596.00,976.30 597.00,975.93 C598.00,975.56 599.00,975.21 600.00,974.87 C601.00,974.52 602.00,974.19 603.00,973.87 C604.00,973.54 605.00,973.23 606.00,972.93 C607.00,972.63 608.00,972.34 609.00,972.06 C610.00,971.78 611.00,971.51 612.00,971.25 C613.00,970.99 614.00,970.74 615.00,970.50 C616.00,970.26 617.00,970.03 618.00,969.81 C619.00,969.59 620.00,969.38 621.00,969.18 C622.00,968.97 623.00,968.78 624.00,968.60 C625.00,968.41 626.00,968.23 627.00,968.07 C628.00,967.90 629.00,967.74 630.00,967.58 C631.00,967.43 632.00,967.29 633.00,967.15 C634.00,967.01 635.00,966.88 636.00,966.76 C637.00,966.64 638.00,966.53 639.00,966.42 C640.00,966.31 641.00,966.21 642.00,966.12 C643.00,966.02 644.00,965.93 645.00,965.85 C646.00,965.77 647.00,965.70 648.00,965.63 C649.00,965.56 650.00,965.49 651.00,965.44 C652.00,965.38 653.00,965.33 654.00,965.28 C655.00,965.23 656.00,965.19 657.00,965.16 C658.00,965.12 659.00,965.09 660.00,965.06 C661.00,965.03 662.00,965.01 663.00,964.99 C664.00,964.97 665.00,964.96 666.00,964.95 C667.00,964.94 668.00,964.93 669.00,964.93 C670.00,964.93 671.00,964.93 672.00,964.93 C673.00,964.94 674.50,964.95 675.00,964.96" stroke="#ec2c2c" stroke-width="1.85" fill="none"/>
<path d="M480.00,1124.72 C480.50,1124.69 482.00,1124.65 483.00,1124.55 C484.00,1124.45 485.00,1124.31 486.00,1124.12 C487.00,1123.94 488.00,1123.71 489.00,1123.43 C490.00,1123.16 491.00,1122.84 492.00,1122.48 C493.00,1122.12 494.00,1121.71 495.00,1121.27 C496.00,1120.82 497.00,1120.33 498.00,1119.80 C499.00,1119.26 500.00,1118.69 501.00,1118.07 C502.00,1117.46 503.00,1116.80 504.00,1116.10 C505.00,1115.40 506.00,1114.66 507.00,1113.88 C508.00,1113.09 509.00,1112.27 510.00,1111.41 C511.00,1110.54 512.00,1109.64 513.00,1108.69 C514.00,1107.75 515.00,1106.76 516.00,1105.74 C517.00,1104.72 518.00,1103.66 519.00,1102.58 C520.00,1101.50 521.00,1100.39 522.00,1099.26 C523.00,1098.13 524.00,1096.98 525.00,1095.82 C526.00,1094.66 527.00,1093.48 528.00,1092.31 C529.00,1091.13 530.00,1089.94 531.00,1088.76 C532.00,1087.58 533.00,1086.40 534.00,1085.23 C535.00,1084.06 536.00,1082.90 537.00,1081.74 C538.00,1080.59 539.00,1079.45 540.00,1078.32 C541.00,1077.19 542.00,1076.07 543.00,1074.96 C544.00,1073.85 545.00,1072.75 546.00,1071.67 C547.00,1070.58 548.00,1069.51 549.00,1068.45 C550.00,1067.39 551.00,1066.35 552.00,1065.31 C553.00,1064.28 554.00,1063.26 555.00,1062.25 C556.00,1061.25 557.00,1060.26 558.00,1059.28 C559.00,1058.31 560.00,1057.35 561.00,1056.40 C562.00,1055.46 563.00,1054.53 564.00,1053.62 C565.00,1052.71 566.00,1051.81 567.00,1050.94 C568.00,1050.06 569.00,1049.20 570.00,1048.36 C571.00,1047.51 572.00,1046.69 573.00,1045.89 C574.00,1045.08 575.00,1044.29 576.00,1043.53 C577.00,1042.76 578.00,1042.01 579.00,1041.29 C580.00,1040.56 581.00,1039.86 582.00,1039.17 C583.00,1038.49 584.00,1037.82 585.00,1037.18 C586.00,1036.53 587.00,1035.91 588.00,1035.30 C589.00,1034.70 590.00,1034.11 591.00,1033.54 C592.00,1032.97 593.00,1032.42 594.00,1031.88 C595.00,1031.35 596.00,1030.83 597.00,1030.33 C598.00,1029.83 599.00,1029.34 600.00,1028.87 C601.00,1028.40 602.00,1027.95 603.00,1027.50 C604.00,1027.06 605.00,1026.63 606.00,1026.22 C607.00,1025.80 608.00,1025.40 609.00,1025.01 C610.00,1024.62 611.00,1024.25 612.00,1023.88 C613.00,1023.52 614.00,1023.16 615.00,1022.82 C616.00,1022.47 617.00,1022.14 618.00,1021.81 C619.00,1021.49 620.00,1021.18 621.00,1020.87 C622.00,1020.56 623.00,1020.26 624.00,1019.97 C625.00,1019.68 626.00,1019.40 627.00,1019.12 C628.00,1018.84 629.00,1018.57 630.00,1018.31 C631.00,1018.05 632.00,1017.79 633.00,1017.54 C634.00,1017.29 635.00,1017.05 636.00,1016.81 C637.00,1016.58 638.00,1016.35 639.00,1016.13 C640.00,1015.91 641.00,1015.70 642.00,1015.50 C643.00,1015.30 644.00,1015.10 645.00,1014.92 C646.00,1014.73 647.00,1014.56 648.00,1014.39 C649.00,1014.23 650.00,1014.07 651.00,1013.92 C652.00,1013.77 653.00,1013.63 654.00,1013.51 C655.00,1013.38 656.00,1013.26 657.00,1013.15 C658.00,1013.04 659.00,1012.95 660.00,1012.86 C661.00,1012.78 662.00,1012.70 663.00,1012.64 C664.00,1012.57 665.00,1012.52 666.00,1012.48 C667.00,1012.44 668.00,1012.41 669.00,1012.39 C670.00,1012.37 671.00,1012.37 672.00,1012.38 C673.00,1012.38 674.50,1012.43 675.00,1012.44" stroke="#ec2c2c" stroke-width="1.85" fill="none"/>
<path d="M480.00,1036.30 C480.50,1036.30 482.00,1036.33 483.00,1036.34 C484.00,1036.35 485.00,1036.37 486.00,1036.38 C487.00,1036.39 488.00,1036.40 489.00,1036.42 C490.00,1036.43 491.00,1036.44 492.00,1036.45 C493.00,1036.46 494.00,1036.47 495.00,1036.48 C496.00,1036.49 497.00,1036.49 498.00,1036.50 C499.00,1036.51 500.00,1036.52 501.00,1036.53 C502.00,1036.53 503.00,1036.54 504.00,1036.55 C505.00,1036.56 506.00,1036.56 507.00,1036.57 C508.00,1036.58 509.00,1036.58 510.00,1036.59 C511.00,1036.59 512.00,1036.60 513.00,1036.61 C514.00,1036.61 515.00,1036.62 516.00,1036.63 C517.00,1036.63 518.00,1036.64 519.00,1036.64 C520.00,1036.65 521.00,1036.66 522.00,1036.66 C523.00,1036.67 524.00,1036.68 525.00,1036.70 C526.00,1036.71 527.00,1036.72 528.00,1036.74 C529.00,1036.76 530.00,1036.79 531.00,1036.82 C532.00,1036.85 533.00,1036.88 534.00,1036.93 C535.00,1036.97 536.00,1037.02 537.00,1037.08 C538.00,1037.14 539.00,1037.20 540.00,1037.28 C541.00,1037.36 542.00,1037.44 543.00,1037.54 C544.00,1037.63 545.00,1037.75 546.00,1037.86 C547.00,1037.96 548.00,1038.07 549.00,1038.17 C550.00,1038.27 551.00,1038.36 552.00,1038.45 C553.00,1038.54 554.00,1038.63 555.00,1038.71 C556.00,1038.80 557.00,1038.88 558.00,1038.95 C559.00,1039.03 560.00,1039.10 561.00,1039.17 C562.00,1039.24 563.00,1039.31 564.00,1039.37 C565.00,1039.44 566.00,1039.50 567.00,1039.56 C568.00,1039.62 569.00,1039.68 570.00,1039.73 C571.00,1039.79 572.00,1039.84 573.00,1039.89 C574.00,1039.94 575.00,1039.99 576.00,1040.04 C577.00,1040.09 578.00,1040.13 579.00,1040.18 C580.00,1040.22 581.00,1040.26 582.00,1040.30 C583.00,1040.34 584.00,1040.38 585.00,1040.42 C586.00,1040.46 587.00,1040.49 588.00,1040.52 C589.00,1040.55 590.00,1040.58 591.00,1040.61 C592.00,1040.64 593.00,1040.66 594.00,1040.68 C595.00,1040.70 596.00,1040.71 597.00,1040.72 C598.00,1040.74 599.00,1040.74 600.00,1040.75 C601.00,1040.75 602.00,1040.75 603.00,1040.74 C604.00,1040.73 605.00,1040.72 606.00,1040.71 C607.00,1040.69 608.00,1040.67 609.00,1040.64 C610.00,1040.61 611.00,1040.58 612.00,1040.54 C613.00,1040.49 614.00,1040.45 615.00,1040.39 C616.00,1040.34 617.00,1040.28 618.00,1040.21 C619.00,1040.15 620.00,1040.07 621.00,1040.00 C622.00,1039.94 623.00,1039.88 624.00,1039.83 C625.00,1039.78 626.00,1039.74 627.00,1039.70 C628.00,1039.67 629.00,1039.64 630.00,1039.61 C631.00,1039.59 632.00,1039.57 633.00,1039.56 C634.00,1039.55 635.00,1039.54 636.00,1039.54 C637.00,1039.54 638.00,1039.54 639.00,1039.54 C640.00,1039.54 641.00,1039.55 642.00,1039.56 C643.00,1039.57 644.00,1039.58 645.00,1039.60 C646.00,1039.61 647.00,1039.63 648.00,1039.64 C649.00,1039.66 650.00,1039.68 651.00,1039.70 C652.00,1039.72 653.00,1039.74 654.00,1039.76 C655.00,1039.78 656.00,1039.80 657.00,1039.82 C658.00,1039.84 659.00,1039.86 660.00,1039.88 C661.00,1039.90 662.00,1039.91 663.00,1039.93 C664.00,1039.94 665.00,1039.96 666.00,1039.97 C667.00,1039.98 668.00,1039.99 669.00,1040.00 C670.00,1040.00 671.00,1040.01 672.00,1040.01 C673.00,1040.01 674.50,1040.00 675.00,1040.00" stroke="#2323e2" stroke-width="1.85" fill="none"/>
<path d="M480.00,1099.03 C480.50,1099.07 482.00,1099.19 483.00,1099.22 C484.00,1099.26 485.00,1099.26 486.00,1099.24 C487.00,1099.22 488.00,1099.17 489.00,1099.10 C490.00,1099.03 491.00,1098.94 492.00,1098.82 C493.00,1098.70 494.00,1098.56 495.00,1098.40 C496.00,1098.23 497.00,1098.05 498.00,1097.85 C499.00,1097.65 500.00,1097.42 501.00,1097.19 C502.00,1096.95 503.00,1096.69 504.00,1096.42 C505.00,1096.15 506.00,1095.86 507.00,1095.56 C508.00,1095.26 509.00,1094.95 510.00,1094.62 C511.00,1094.30 512.00,1093.96 513.00,1093.61 C514.00,1093.26 515.00,1092.91 516.00,1092.54 C517.00,1092.18 518.00,1091.80 519.00,1091.42 C520.00,1091.04 521.00,1090.65 522.00,1090.26 C523.00,1089.87 524.00,1089.48 525.00,1089.08 C526.00,1088.68 527.00,1088.28 528.00,1087.88 C529.00,1087.48 530.00,1087.07 531.00,1086.67 C532.00,1086.27 533.00,1085.87 534.00,1085.47 C535.00,1085.07 536.00,1084.68 537.00,1084.29 C538.00,1083.90 539.00,1083.51 540.00,1083.13 C541.00,1082.75 542.00,1082.38 543.00,1082.01 C544.00,1081.65 545.00,1081.29 546.00,1080.94 C547.00,1080.59 548.00,1080.26 549.00,1079.93 C550.00,1079.61 551.00,1079.29 552.00,1078.99 C553.00,1078.69 554.00,1078.41 555.00,1078.14 C556.00,1077.87 557.00,1077.61 558.00,1077.37 C559.00,1077.14 560.00,1076.92 561.00,1076.71 C562.00,1076.51 563.00,1076.33 564.00,1076.17 C565.00,1076.01 566.00,1075.86 567.00,1075.74 C568.00,1075.61 569.00,1075.50 570.00,1075.41 C571.00,1075.32 572.00,1075.24 573.00,1075.19 C574.00,1075.13 575.00,1075.09 576.00,1075.06 C577.00,1075.03 578.00,1075.02 579.00,1075.02 C580.00,1075.02 581.00,1075.04 582.00,1075.07 C583.00,1075.10 584.00,1075.14 585.00,1075.20 C586.00,1075.25 587.00,1075.32 588.00,1075.40 C589.00,1075.48 590.00,1075.57 591.00,1075.67 C592.00,1075.77 593.00,1075.88 594.00,1076.00 C595.00,1076.12 596.00,1076.25 597.00,1076.39 C598.00,1076.53 599.00,1076.68 600.00,1076.84 C601.00,1076.99 602.00,1077.15 603.00,1077.32 C604.00,1077.49 605.00,1077.67 606.00,1077.85 C607.00,1078.03 608.00,1078.22 609.00,1078.41 C610.00,1078.60 611.00,1078.79 612.00,1078.98 C613.00,1079.16 614.00,1079.35 615.00,1079.54 C616.00,1079.72 617.00,1079.90 618.00,1080.07 C619.00,1080.24 620.00,1080.41 621.00,1080.57 C622.00,1080.72 623.00,1080.87 624.00,1081.00 C625.00,1081.13 626.00,1081.26 627.00,1081.36 C628.00,1081.46 629.00,1081.55 630.00,1081.63 C631.00,1081.70 632.00,1081.75 633.00,1081.80 C634.00,1081.84 635.00,1081.87 636.00,1081.88 C637.00,1081.90 638.00,1081.91 639.00,1081.91 C640.00,1081.90 641.00,1081.89 642.00,1081.87 C643.00,1081.86 644.00,1081.83 645.00,1081.80 C646.00,1081.78 647.00,1081.74 648.00,1081.71 C649.00,1081.67 650.00,1081.64 651.00,1081.60 C652.00,1081.57 653.00,1081.53 654.00,1081.50 C655.00,1081.47 656.00,1081.44 657.00,1081.41 C658.00,1081.39 659.00,1081.37 660.00,1081.36 C661.00,1081.35 662.00,1081.35 663.00,1081.35 C664.00,1081.36 665.00,1081.38 666.00,1081.41 C667.00,1081.44 668.00,1081.48 669.00,1081.53 C670.00,1081.59 671.00,1081.66 672.00,1081.75 C673.00,1081.84 674.50,1082.01 675.00,1082.07" stroke="#2323e2" stroke-width="1.85" fill="none"/>
<path d="M480.00,1166.70 C480.50,1166.72 482.00,1166.80 483.00,1166.77 C484.00,1166.74 485.00,1166.66 486.00,1166.53 C487.00,1166.40 488.00,1166.23 489.00,1166.00 C490.00,1165.78 491.00,1165.51 492.00,1165.21 C493.00,1164.90 494.00,1164.54 495.00,1164.15 C496.00,1163.76 497.00,1163.33 498.00,1162.86 C499.00,1162.39 500.00,1161.89 501.00,1161.35 C502.00,1160.81 503.00,1160.24 504.00,1159.63 C505.00,1159.03 506.00,1158.40 507.00,1157.73 C508.00,1157.07 509.00,1156.38 510.00,1155.67 C511.00,1154.95 512.00,1154.21 513.00,1153.45 C514.00,1152.68 515.00,1151.90 516.00,1151.09 C517.00,1150.29 518.00,1149.46 519.00,1148.62 C520.00,1147.78 521.00,1146.92 522.00,1146.05 C523.00,1145.18 524.00,1144.30 525.00,1143.40 C526.00,1142.51 527.00,1141.60 528.00,1140.69 C529.00,1139.77 530.00,1138.85 531.00,1137.92 C532.00,1136.99 533.00,1136.06 534.00,1135.12 C535.00,1134.18 536.00,1133.23 537.00,1132.29 C538.00,1131.34 539.00,1130.39 540.00,1129.43 C541.00,1128.48 542.00,1127.53 543.00,1126.57 C544.00,1125.62 545.00,1124.66 546.00,1123.71 C547.00,1122.76 548.00,1121.80 549.00,1120.85 C550.00,1119.90 551.00,1118.96 552.00,1118.01 C553.00,1117.07 554.00,1116.13 555.00,1115.20 C556.00,1114.27 557.00,1113.34 558.00,1112.43 C559.00,1111.51 560.00,1110.60 561.00,1109.70 C562.00,1108.80 563.00,1107.90 564.00,1107.02 C565.00,1106.14 566.00,1105.27 567.00,1104.41 C568.00,1103.56 569.00,1102.71 570.00,1101.88 C571.00,1101.05 572.00,1100.24 573.00,1099.44 C574.00,1098.64 575.00,1097.85 576.00,1097.09 C577.00,1096.32 578.00,1095.57 579.00,1094.84 C580.00,1094.10 581.00,1093.38 582.00,1092.68 C583.00,1091.98 584.00,1091.29 585.00,1090.62 C586.00,1089.95 587.00,1089.29 588.00,1088.65 C589.00,1088.01 590.00,1087.39 591.00,1086.78 C592.00,1086.16 593.00,1085.57 594.00,1084.99 C595.00,1084.41 596.00,1083.84 597.00,1083.29 C598.00,1082.74 599.00,1082.20 600.00,1081.68 C601.00,1081.16 602.00,1080.65 603.00,1080.15 C604.00,1079.66 605.00,1079.18 606.00,1078.71 C607.00,1078.25 608.00,1077.79 609.00,1077.35 C610.00,1076.91 611.00,1076.49 612.00,1076.08 C613.00,1075.66 614.00,1075.26 615.00,1074.88 C616.00,1074.49 617.00,1074.12 618.00,1073.76 C619.00,1073.40 620.00,1073.05 621.00,1072.71 C622.00,1072.38 623.00,1072.05 624.00,1071.74 C625.00,1071.43 626.00,1071.13 627.00,1070.85 C628.00,1070.56 629.00,1070.29 630.00,1070.02 C631.00,1069.76 632.00,1069.51 633.00,1069.27 C634.00,1069.03 635.00,1068.80 636.00,1068.59 C637.00,1068.37 638.00,1068.17 639.00,1067.97 C640.00,1067.78 641.00,1067.59 642.00,1067.42 C643.00,1067.25 644.00,1067.09 645.00,1066.94 C646.00,1066.78 647.00,1066.64 648.00,1066.51 C649.00,1066.38 650.00,1066.26 651.00,1066.15 C652.00,1066.04 653.00,1065.94 654.00,1065.85 C655.00,1065.76 656.00,1065.68 657.00,1065.61 C658.00,1065.54 659.00,1065.48 660.00,1065.42 C661.00,1065.37 662.00,1065.33 663.00,1065.29 C664.00,1065.26 665.00,1065.23 666.00,1065.22 C667.00,1065.20 668.00,1065.19 669.00,1065.19 C670.00,1065.19 671.00,1065.20 672.00,1065.22 C673.00,1065.24 674.50,1065.29 675.00,1065.30" stroke="#2323e2" stroke-width="1.85" fill="none"/>
</g>
<g clip-path="url(#cm2)" fill="none" stroke-linejoin="round">
<path d="M383.20,860.50 L383.20,869.50" stroke="#ec2c2c" stroke-width="1.85"/>
<path d="M383.20,1032.20 L382.00,1032.40 L321.90,1040.70 L382.00,1059.10 L383.20,1059.30" stroke="#ec2c2c" stroke-width="1.85"/>
<path d="M383.20,1066.50 L382.00,1066.70 L362.80,1074.70 L359.00,1078.50 L357.40,1083.00 L356.90,1090.10 L358.00,1096.00 L359.90,1099.60 L365.70,1103.90 L382.00,1108.30 L331.40,1117.50 L340.90,1122.90 L382.00,1134.60 L383.20,1134.80" stroke="#ec2c2c" stroke-width="1.85"/>
<path d="M383.20,1160.80 L383.20,1177.00" stroke="#ec2c2c" stroke-width="1.85"/>
<path d="M383.20,870.70 L392.80,868.40 L408.50,867.20 L424.30,865.40 L440.10,863.70 L457.60,861.90 L465.50,861.20" stroke="#2323e2" stroke-width="1.9"/>
<path d="M383.20,870.70 L383.20,1160.80 L389.60,1168.80 L383.20,1177.00 L383.20,1281.00" stroke="#2323e2" stroke-width="1.9"/>
</g>
<line x1="92.3" y1="216.2" x2="383.2" y2="216.2" stroke="#404040" stroke-width="2" stroke-dasharray="28 10.75"/><line x1="383.2" y1="216.2" x2="673.5" y2="216.2" stroke="#404040" stroke-width="2" stroke-dasharray="28 10.75" stroke-dashoffset="19.65"/>
<line x1="92.3" y1="601.4" x2="383.2" y2="601.4" stroke="#404040" stroke-width="2" stroke-dasharray="28 10.75"/><line x1="383.2" y1="601.4" x2="673.5" y2="601.4" stroke="#404040" stroke-width="2" stroke-dasharray="28 10.75" stroke-dashoffset="19.65"/>
<line x1="87.8" y1="685.3" x2="383.2" y2="685.3" stroke="#404040" stroke-width="2" stroke-dasharray="28 10.75"/><line x1="383.2" y1="683.6" x2="673.5" y2="683.6" stroke="#404040" stroke-width="2" stroke-dasharray="28 10.75" stroke-dashoffset="24.15"/>
<line x1="92.3" y1="1020.0" x2="383.2" y2="1020.0" stroke="#404040" stroke-width="2" stroke-dasharray="28 10.75"/><line x1="383.2" y1="1018.4" x2="673.5" y2="1018.4" stroke="#404040" stroke-width="2" stroke-dasharray="28 10.75" stroke-dashoffset="19.65"/>
<line x1="90.8" y1="1123.2" x2="383.2" y2="1123.2" stroke="#404040" stroke-width="2" stroke-dasharray="28 10.75"/><line x1="383.2" y1="1121.7" x2="673.5" y2="1121.7" stroke="#404040" stroke-width="2" stroke-dasharray="28 10.75" stroke-dashoffset="21.15"/>
<rect x="91.5" y="5.5" width="583.5" height="420.4" fill="none" stroke="#404040" stroke-width="2.3"/>
<line x1="286.5" y1="5.5" x2="286.5" y2="425.9" stroke="#404040" stroke-width="2.3"/>
<line x1="480.0" y1="5.5" x2="480.0" y2="425.9" stroke="#404040" stroke-width="2.3"/>
<line x1="86.0" y1="426.15" x2="91.5" y2="426.15" stroke="#404040" stroke-width="2"/>
<line x1="81.0" y1="384.10" x2="91.5" y2="384.10" stroke="#404040" stroke-width="2"/>
<line x1="275.5" y1="384.10" x2="286.5" y2="384.10" stroke="#404040" stroke-width="2"/>
<line x1="474.0" y1="384.10" x2="480.0" y2="384.10" stroke="#404040" stroke-width="2"/>
<line x1="86.0" y1="342.05" x2="91.5" y2="342.05" stroke="#404040" stroke-width="2"/>
<line x1="279.5" y1="342.05" x2="286.5" y2="342.05" stroke="#404040" stroke-width="2"/>
<line x1="477.5" y1="342.05" x2="480.0" y2="342.05" stroke="#404040" stroke-width="2"/>
<line x1="81.0" y1="300.00" x2="91.5" y2="300.00" stroke="#404040" stroke-width="2"/>
<line x1="275.5" y1="300.00" x2="286.5" y2="300.00" stroke="#404040" stroke-width="2"/>
<line x1="474.0" y1="300.00" x2="480.0" y2="300.00" stroke="#404040" stroke-width="2"/>
<line x1="86.0" y1="257.95" x2="91.5" y2="257.95" stroke="#404040" stroke-width="2"/>
<line x1="279.5" y1="257.95" x2="286.5" y2="257.95" stroke="#404040" stroke-width="2"/>
<line x1="477.5" y1="257.95" x2="480.0" y2="257.95" stroke="#404040" stroke-width="2"/>
<line x1="81.0" y1="215.90" x2="91.5" y2="215.90" stroke="#404040" stroke-width="2"/>
<line x1="86.0" y1="173.85" x2="91.5" y2="173.85" stroke="#404040" stroke-width="2"/>
<line x1="279.5" y1="173.85" x2="286.5" y2="173.85" stroke="#404040" stroke-width="2"/>
<line x1="477.5" y1="173.85" x2="480.0" y2="173.85" stroke="#404040" stroke-width="2"/>
<line x1="81.0" y1="131.80" x2="91.5" y2="131.80" stroke="#404040" stroke-width="2"/>
<line x1="275.5" y1="131.80" x2="286.5" y2="131.80" stroke="#404040" stroke-width="2"/>
<line x1="474.0" y1="131.80" x2="480.0" y2="131.80" stroke="#404040" stroke-width="2"/>
<line x1="86.0" y1="89.75" x2="91.5" y2="89.75" stroke="#404040" stroke-width="2"/>
<line x1="279.5" y1="89.75" x2="286.5" y2="89.75" stroke="#404040" stroke-width="2"/>
<line x1="477.5" y1="89.75" x2="480.0" y2="89.75" stroke="#404040" stroke-width="2"/>
<line x1="81.0" y1="47.70" x2="91.5" y2="47.70" stroke="#404040" stroke-width="2"/>
<line x1="275.5" y1="47.70" x2="286.5" y2="47.70" stroke="#404040" stroke-width="2"/>
<line x1="474.0" y1="47.70" x2="480.0" y2="47.70" stroke="#404040" stroke-width="2"/>
<line x1="86.0" y1="5.65" x2="91.5" y2="5.65" stroke="#404040" stroke-width="2"/>
<line x1="335.2" y1="425.9" x2="335.2" y2="428.4" stroke="#404040" stroke-width="2"/>
<line x1="383.6" y1="425.9" x2="383.6" y2="428.4" stroke="#404040" stroke-width="2"/>
<line x1="431.7" y1="425.9" x2="431.7" y2="428.4" stroke="#404040" stroke-width="2"/>
<rect x="91.5" y="432.3" width="583.5" height="420.3" fill="none" stroke="#404040" stroke-width="2.3"/>
<line x1="286.5" y1="432.3" x2="286.5" y2="852.6" stroke="#404040" stroke-width="2.3"/>
<line x1="480.0" y1="432.3" x2="480.0" y2="852.6" stroke="#404040" stroke-width="2.3"/>
<line x1="86.0" y1="852.55" x2="91.5" y2="852.55" stroke="#404040" stroke-width="2"/>
<line x1="81.0" y1="810.50" x2="91.5" y2="810.50" stroke="#404040" stroke-width="2"/>
<line x1="275.5" y1="810.50" x2="286.5" y2="810.50" stroke="#404040" stroke-width="2"/>
<line x1="474.0" y1="810.50" x2="480.0" y2="810.50" stroke="#404040" stroke-width="2"/>
<line x1="86.0" y1="768.45" x2="91.5" y2="768.45" stroke="#404040" stroke-width="2"/>
<line x1="279.5" y1="768.45" x2="286.5" y2="768.45" stroke="#404040" stroke-width="2"/>
<line x1="477.5" y1="768.45" x2="480.0" y2="768.45" stroke="#404040" stroke-width="2"/>
<line x1="81.0" y1="726.40" x2="91.5" y2="726.40" stroke="#404040" stroke-width="2"/>
<line x1="275.5" y1="726.40" x2="286.5" y2="726.40" stroke="#404040" stroke-width="2"/>
<line x1="474.0" y1="726.40" x2="480.0" y2="726.40" stroke="#404040" stroke-width="2"/>
<line x1="86.0" y1="684.35" x2="91.5" y2="684.35" stroke="#404040" stroke-width="2"/>
<line x1="81.0" y1="642.30" x2="91.5" y2="642.30" stroke="#404040" stroke-width="2"/>
<line x1="275.5" y1="642.30" x2="286.5" y2="642.30" stroke="#404040" stroke-width="2"/>
<line x1="474.0" y1="642.30" x2="480.0" y2="642.30" stroke="#404040" stroke-width="2"/>
<line x1="86.0" y1="600.25" x2="91.5" y2="600.25" stroke="#404040" stroke-width="2"/>
<line x1="81.0" y1="558.20" x2="91.5" y2="558.20" stroke="#404040" stroke-width="2"/>
<line x1="275.5" y1="558.20" x2="286.5" y2="558.20" stroke="#404040" stroke-width="2"/>
<line x1="474.0" y1="558.20" x2="480.0" y2="558.20" stroke="#404040" stroke-width="2"/>
<line x1="86.0" y1="516.15" x2="91.5" y2="516.15" stroke="#404040" stroke-width="2"/>
<line x1="279.5" y1="516.15" x2="286.5" y2="516.15" stroke="#404040" stroke-width="2"/>
<line x1="477.5" y1="516.15" x2="480.0" y2="516.15" stroke="#404040" stroke-width="2"/>
<line x1="81.0" y1="474.10" x2="91.5" y2="474.10" stroke="#404040" stroke-width="2"/>
<line x1="275.5" y1="474.10" x2="286.5" y2="474.10" stroke="#404040" stroke-width="2"/>
<line x1="474.0" y1="474.10" x2="480.0" y2="474.10" stroke="#404040" stroke-width="2"/>
<line x1="86.0" y1="432.05" x2="91.5" y2="432.05" stroke="#404040" stroke-width="2"/>
<line x1="335.2" y1="852.6" x2="335.2" y2="855.1" stroke="#404040" stroke-width="2"/>
<line x1="383.6" y1="852.6" x2="383.6" y2="855.1" stroke="#404040" stroke-width="2"/>
<line x1="431.7" y1="852.6" x2="431.7" y2="855.1" stroke="#404040" stroke-width="2"/>
<rect x="91.5" y="860.5" width="583.5" height="420.5" fill="none" stroke="#404040" stroke-width="2.3"/>
<line x1="286.5" y1="860.5" x2="286.5" y2="1281.0" stroke="#404040" stroke-width="2.3"/>
<line x1="480.0" y1="860.5" x2="480.0" y2="1281.0" stroke="#404040" stroke-width="2.3"/>
<line x1="86.0" y1="1281.00" x2="91.5" y2="1281.00" stroke="#404040" stroke-width="2"/>
<line x1="81.0" y1="1238.95" x2="91.5" y2="1238.95" stroke="#404040" stroke-width="2"/>
<line x1="275.5" y1="1238.95" x2="286.5" y2="1238.95" stroke="#404040" stroke-width="2"/>
<line x1="474.0" y1="1238.95" x2="480.0" y2="1238.95" stroke="#404040" stroke-width="2"/>
<line x1="86.0" y1="1196.90" x2="91.5" y2="1196.90" stroke="#404040" stroke-width="2"/>
<line x1="279.5" y1="1196.90" x2="286.5" y2="1196.90" stroke="#404040" stroke-width="2"/>
<line x1="477.5" y1="1196.90" x2="480.0" y2="1196.90" stroke="#404040" stroke-width="2"/>
<line x1="81.0" y1="1154.85" x2="91.5" y2="1154.85" stroke="#404040" stroke-width="2"/>
<line x1="275.5" y1="1154.85" x2="286.5" y2="1154.85" stroke="#404040" stroke-width="2"/>
<line x1="474.0" y1="1154.85" x2="480.0" y2="1154.85" stroke="#404040" stroke-width="2"/>
<line x1="86.0" y1="1112.80" x2="91.5" y2="1112.80" stroke="#404040" stroke-width="2"/>
<line x1="279.5" y1="1112.80" x2="286.5" y2="1112.80" stroke="#404040" stroke-width="2"/>
<line x1="477.5" y1="1112.80" x2="480.0" y2="1112.80" stroke="#404040" stroke-width="2"/>
<line x1="81.0" y1="1070.75" x2="91.5" y2="1070.75" stroke="#404040" stroke-width="2"/>
<line x1="275.5" y1="1070.75" x2="286.5" y2="1070.75" stroke="#404040" stroke-width="2"/>
<line x1="474.0" y1="1070.75" x2="480.0" y2="1070.75" stroke="#404040" stroke-width="2"/>
<line x1="86.0" y1="1028.70" x2="91.5" y2="1028.70" stroke="#404040" stroke-width="2"/>
<line x1="279.5" y1="1028.70" x2="286.5" y2="1028.70" stroke="#404040" stroke-width="2"/>
<line x1="477.5" y1="1028.70" x2="480.0" y2="1028.70" stroke="#404040" stroke-width="2"/>
<line x1="81.0" y1="986.65" x2="91.5" y2="986.65" stroke="#404040" stroke-width="2"/>
<line x1="275.5" y1="986.65" x2="286.5" y2="986.65" stroke="#404040" stroke-width="2"/>
<line x1="474.0" y1="986.65" x2="480.0" y2="986.65" stroke="#404040" stroke-width="2"/>
<line x1="86.0" y1="944.60" x2="91.5" y2="944.60" stroke="#404040" stroke-width="2"/>
<line x1="279.5" y1="944.60" x2="286.5" y2="944.60" stroke="#404040" stroke-width="2"/>
<line x1="477.5" y1="944.60" x2="480.0" y2="944.60" stroke="#404040" stroke-width="2"/>
<line x1="81.0" y1="902.55" x2="91.5" y2="902.55" stroke="#404040" stroke-width="2"/>
<line x1="275.5" y1="902.55" x2="286.5" y2="902.55" stroke="#404040" stroke-width="2"/>
<line x1="474.0" y1="902.55" x2="480.0" y2="902.55" stroke="#404040" stroke-width="2"/>
<line x1="86.0" y1="860.50" x2="91.5" y2="860.50" stroke="#404040" stroke-width="2"/>
<line x1="286.5" y1="1281.0" x2="286.5" y2="1292.0" stroke="#404040" stroke-width="2"/>
<line x1="318.8" y1="1281.0" x2="318.8" y2="1287.5" stroke="#404040" stroke-width="2"/>
<line x1="351.0" y1="1281.0" x2="351.0" y2="1287.5" stroke="#404040" stroke-width="2"/>
<line x1="383.2" y1="1281.0" x2="383.2" y2="1292.0" stroke="#404040" stroke-width="2"/>
<line x1="415.5" y1="1281.0" x2="415.5" y2="1287.5" stroke="#404040" stroke-width="2"/>
<line x1="447.8" y1="1281.0" x2="447.8" y2="1287.5" stroke="#404040" stroke-width="2"/>
<line x1="480.0" y1="1281.0" x2="480.0" y2="1292.0" stroke="#404040" stroke-width="2"/>
<text transform="translate(68.3,49.0) scale(0.97,1.12)" font-family="Liberation Sans, sans-serif" font-size="21.5" fill="#2a2a40" text-anchor="end">0.8</text>
<text transform="translate(68.3,133.1) scale(0.97,1.12)" font-family="Liberation Sans, sans-serif" font-size="21.5" fill="#2a2a40" text-anchor="end">0.4</text>
<text transform="translate(68.3,217.2) scale(0.97,1.12)" font-family="Liberation Sans, sans-serif" font-size="21.5" fill="#2a2a40" text-anchor="end">0.0</text>
<text transform="translate(68.3,301.3) scale(0.97,1.12)" font-family="Liberation Sans, sans-serif" font-size="21.5" fill="#2a2a40" text-anchor="end">-0.4</text>
<text transform="translate(68.3,385.4) scale(0.97,1.12)" font-family="Liberation Sans, sans-serif" font-size="21.5" fill="#2a2a40" text-anchor="end">-0.8</text>
<text transform="translate(25.2,214.9) rotate(-90)" font-family="Liberation Sans, sans-serif" font-size="24.8" fill="#2a2a40" text-anchor="middle">Energy/eV</text>
<text x="109" y="33.5" font-family="Liberation Sans, sans-serif" font-size="27" fill="#2a2a40">(a)</text>
<line x1="575.9" y1="359.8" x2="635.3" y2="359.8" stroke="#2323e2" stroke-width="2"/>
<line x1="575.9" y1="396.5" x2="635.3" y2="396.5" stroke="#ec2c2c" stroke-width="2"/>
<g transform="translate(0.0,0.0)" fill="none" stroke="#2a2a40" stroke-width="2.1" stroke-linecap="round"><path d="M657.6,356.8 C656.3,354 654,352.8 651.3,352.8 C647.3,352.8 645.2,356.6 645.2,360.6 C645.2,365 647.4,368 650.6,368 C654.3,368 656.8,363.6 658.3,359.2 L660.4,353.2"/><path d="M658.3,359.2 C657.4,362.8 657.2,365.8 658.2,367.2 C659,368.3 660.6,368.2 661.9,367.3"/></g>
<g transform="translate(0.0,0.0)" fill="none" stroke="#2a2a40" stroke-width="2.1" stroke-linecap="round" stroke-linejoin="round"><path d="M647.4,411.3 L647.4,389.2 C647.4,385.6 649.6,383.8 652.4,383.8 C655.4,383.8 657.4,385.8 657.4,388.4 C657.4,390.8 655.3,392.1 652.6,392.1 C656.6,392.1 659.6,394.6 659.6,398.5 C659.6,402.4 656.8,405.1 653.3,405.1 C650.8,405.1 648.6,404.3 647.4,402.8"/></g>
<text transform="translate(68.3,475.4) scale(0.97,1.12)" font-family="Liberation Sans, sans-serif" font-size="21.5" fill="#2a2a40" text-anchor="end">0.8</text>
<text transform="translate(68.3,559.5) scale(0.97,1.12)" font-family="Liberation Sans, sans-serif" font-size="21.5" fill="#2a2a40" text-anchor="end">0.4</text>
<text transform="translate(68.3,643.6) scale(0.97,1.12)" font-family="Liberation Sans, sans-serif" font-size="21.5" fill="#2a2a40" text-anchor="end">0.0</text>
<text transform="translate(68.3,727.7) scale(0.97,1.12)" font-family="Liberation Sans, sans-serif" font-size="21.5" fill="#2a2a40" text-anchor="end">-0.4</text>
<text transform="translate(68.3,811.8) scale(0.97,1.12)" font-family="Liberation Sans, sans-serif" font-size="21.5" fill="#2a2a40" text-anchor="end">-0.8</text>
<text transform="translate(25.2,641.3) rotate(-90)" font-family="Liberation Sans, sans-serif" font-size="24.8" fill="#2a2a40" text-anchor="middle">Energy/eV</text>
<text x="109" y="460.3" font-family="Liberation Sans, sans-serif" font-size="27" fill="#2a2a40">(b)</text>
<line x1="575.9" y1="788.1" x2="635.3" y2="788.1" stroke="#2323e2" stroke-width="2"/>
<line x1="575.9" y1="825.1" x2="635.3" y2="825.1" stroke="#ec2c2c" stroke-width="2"/>
<g transform="translate(0.0,428.3)" fill="none" stroke="#2a2a40" stroke-width="2.1" stroke-linecap="round"><path d="M657.6,356.8 C656.3,354 654,352.8 651.3,352.8 C647.3,352.8 645.2,356.6 645.2,360.6 C645.2,365 647.4,368 650.6,368 C654.3,368 656.8,363.6 658.3,359.2 L660.4,353.2"/><path d="M658.3,359.2 C657.4,362.8 657.2,365.8 658.2,367.2 C659,368.3 660.6,368.2 661.9,367.3"/></g>
<g transform="translate(0.0,428.6)" fill="none" stroke="#2a2a40" stroke-width="2.1" stroke-linecap="round" stroke-linejoin="round"><path d="M647.4,411.3 L647.4,389.2 C647.4,385.6 649.6,383.8 652.4,383.8 C655.4,383.8 657.4,385.8 657.4,388.4 C657.4,390.8 655.3,392.1 652.6,392.1 C656.6,392.1 659.6,394.6 659.6,398.5 C659.6,402.4 656.8,405.1 653.3,405.1 C650.8,405.1 648.6,404.3 647.4,402.8"/></g>
<text transform="translate(68.3,903.8) scale(0.97,1.12)" font-family="Liberation Sans, sans-serif" font-size="21.5" fill="#2a2a40" text-anchor="end">0.8</text>
<text transform="translate(68.3,987.9) scale(0.97,1.12)" font-family="Liberation Sans, sans-serif" font-size="21.5" fill="#2a2a40" text-anchor="end">0.4</text>
<text transform="translate(68.3,1072.0) scale(0.97,1.12)" font-family="Liberation Sans, sans-serif" font-size="21.5" fill="#2a2a40" text-anchor="end">0.0</text>
<text transform="translate(68.3,1156.1) scale(0.97,1.12)" font-family="Liberation Sans, sans-serif" font-size="21.5" fill="#2a2a40" text-anchor="end">-0.4</text>
<text transform="translate(68.3,1240.2) scale(0.97,1.12)" font-family="Liberation Sans, sans-serif" font-size="21.5" fill="#2a2a40" text-anchor="end">-0.8</text>
<text transform="translate(25.2,1069.8) rotate(-90)" font-family="Liberation Sans, sans-serif" font-size="24.8" fill="#2a2a40" text-anchor="middle">Energy/eV</text>
<text x="109" y="888.5" font-family="Liberation Sans, sans-serif" font-size="27" fill="#2a2a40">(c)</text>
<line x1="577.4" y1="1219.8" x2="636.8" y2="1219.8" stroke="#2323e2" stroke-width="2"/>
<line x1="577.4" y1="1256.5" x2="636.8" y2="1256.5" stroke="#ec2c2c" stroke-width="2"/>
<g transform="translate(1.5,860.0)" fill="none" stroke="#2a2a40" stroke-width="2.1" stroke-linecap="round"><path d="M657.6,356.8 C656.3,354 654,352.8 651.3,352.8 C647.3,352.8 645.2,356.6 645.2,360.6 C645.2,365 647.4,368 650.6,368 C654.3,368 656.8,363.6 658.3,359.2 L660.4,353.2"/><path d="M658.3,359.2 C657.4,362.8 657.2,365.8 658.2,367.2 C659,368.3 660.6,368.2 661.9,367.3"/></g>
<g transform="translate(1.5,860.0)" fill="none" stroke="#2a2a40" stroke-width="2.1" stroke-linecap="round" stroke-linejoin="round"><path d="M647.4,411.3 L647.4,389.2 C647.4,385.6 649.6,383.8 652.4,383.8 C655.4,383.8 657.4,385.8 657.4,388.4 C657.4,390.8 655.3,392.1 652.6,392.1 C656.6,392.1 659.6,394.6 659.6,398.5 C659.6,402.4 656.8,405.1 653.3,405.1 C650.8,405.1 648.6,404.3 647.4,402.8"/></g>
<text transform="translate(143,404) scale(1,1.07)" font-family="Liberation Sans, sans-serif" font-size="26.6" fill="#2a2a40">0V-M1</text>
<text transform="translate(144,831) scale(1,1.07)" font-family="Liberation Sans, sans-serif" font-size="26.6" fill="#2a2a40">0.4V-M1</text>
<text transform="translate(144,1260) scale(1,1.07)" font-family="Liberation Sans, sans-serif" font-size="26.6" fill="#2a2a40">0.5V-M1</text>
<text transform="translate(85.5,1309.3) scale(1.2,1.02)" font-family="Liberation Serif, serif" font-size="25" fill="#2a2a40">Γ</text>
<text x="269" y="1311" font-family="Liberation Serif, serif" font-size="25" fill="#2a2a40">X</text>
<text transform="translate(478.6,1308) scale(1.2,1.02)" font-family="Liberation Serif, serif" font-size="25" fill="#2a2a40">Γ</text>
<text x="661" y="1307.5" font-family="Liberation Serif, serif" font-size="25" fill="#2a2a40">X</text>
<text transform="translate(102,1338) scale(1,1.07)" font-family="Liberation Sans, sans-serif" font-size="26.6" fill="#2a2a40">L- electrode</text>
<text transform="translate(525,1338) scale(1,1.07)" font-family="Liberation Sans, sans-serif" font-size="26.6" fill="#2a2a40">R- electrode</text>
<text x="286" y="1337" font-family="Liberation Sans, sans-serif" font-size="24" fill="#2a2a40" text-anchor="middle">-1.5</text>
<text x="382.5" y="1337" font-family="Liberation Sans, sans-serif" font-size="24" fill="#2a2a40" text-anchor="middle">0.0</text>
<text x="480.5" y="1337" font-family="Liberation Sans, sans-serif" font-size="24" fill="#2a2a40" text-anchor="middle">1.5</text>
</svg>
</body></html>
